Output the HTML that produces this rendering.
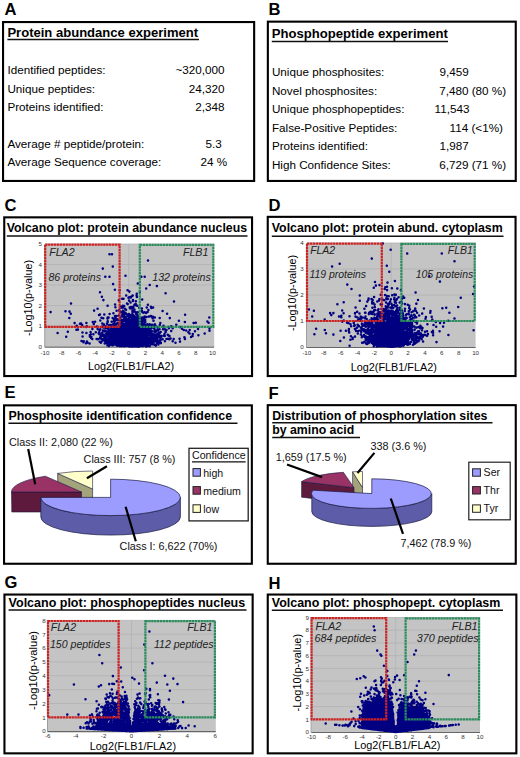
<!DOCTYPE html>
<html><head><meta charset="utf-8"><title>Figure</title>
<style>
html,body{margin:0;padding:0;background:#fff;}
body{width:520px;height:757px;overflow:hidden;}
svg{display:block;font-family:"Liberation Sans", sans-serif;}
</style></head>
<body>
<svg width="520" height="757" viewBox="0 0 520 757">
<rect x="0" y="0" width="520" height="757" fill="#fff"/>
<text x="4.6" y="14.8" font-size="16.6" font-weight="bold">A</text>
<text x="268.6" y="14.8" font-size="16.6" font-weight="bold">B</text>
<text x="4.6" y="210.8" font-size="16.6" font-weight="bold">C</text>
<text x="268.6" y="210.6" font-size="16.6" font-weight="bold">D</text>
<text x="4.6" y="398.3" font-size="16.6" font-weight="bold">E</text>
<text x="268.6" y="398.6" font-size="16.6" font-weight="bold">F</text>
<text x="4.6" y="588.3" font-size="16.6" font-weight="bold">G</text>
<text x="268.6" y="588.6" font-size="16.6" font-weight="bold">H</text>
<rect x="3.05" y="22.05" width="251.1" height="158.9" fill="none" stroke="#000" stroke-width="2.1"/>
<rect x="267.85" y="21.650000000000002" width="247.89999999999995" height="159.3" fill="none" stroke="#000" stroke-width="2.1"/>
<rect x="4.25" y="217.35000000000002" width="247.8" height="158.70000000000002" fill="none" stroke="#000" stroke-width="2.1"/>
<rect x="267.75" y="216.85000000000002" width="247.80000000000004" height="159.20000000000002" fill="none" stroke="#000" stroke-width="2.1"/>
<rect x="4.05" y="405.35" width="247.8" height="158.39999999999995" fill="none" stroke="#000" stroke-width="2.1"/>
<rect x="267.75" y="405.15000000000003" width="247.99999999999997" height="158.59999999999994" fill="none" stroke="#000" stroke-width="2.1"/>
<rect x="4.45" y="594.55" width="248.2" height="158.79999999999998" fill="none" stroke="#000" stroke-width="2.1"/>
<rect x="267.75" y="594.55" width="248.6" height="158.79999999999998" fill="none" stroke="#000" stroke-width="2.1"/>
<text x="7.4" y="36.5" font-size="13.05" font-weight="bold">Protein abundance experiment</text>
<line x1="7.4" y1="39.6" x2="199.0" y2="39.6" stroke="#111" stroke-width="1.5"/>
<text x="271.8" y="38.2" font-size="13.1" font-weight="bold">Phosphopeptide experiment</text>
<line x1="271.8" y1="41.6" x2="448.0" y2="41.6" stroke="#111" stroke-width="1.5"/>
<text x="6.8" y="231.7" font-size="12.3" font-weight="bold">Volcano plot: protein abundance nucleus</text>
<line x1="6.8" y1="236.0" x2="247.5" y2="236.0" stroke="#111" stroke-width="1.5"/>
<text x="271.8" y="232.3" font-size="12.35" font-weight="bold">Volcano plot: protein abund. cytoplasm</text>
<line x1="271.8" y1="236.2" x2="503.5" y2="236.2" stroke="#111" stroke-width="1.5"/>
<text x="8.4" y="420.0" font-size="12.4" font-weight="bold">Phosphosite identification confidence</text>
<line x1="8.4" y1="423.2" x2="237.5" y2="423.2" stroke="#111" stroke-width="1.5"/>
<text x="272.2" y="420.0" font-size="12.3" font-weight="bold">Distribution of phosphorylation sites</text>
<line x1="272.2" y1="422.8" x2="492.5" y2="422.8" stroke="#111" stroke-width="1.5"/>
<text x="272.2" y="434.4" font-size="12.3" font-weight="bold">by amino acid</text>
<line x1="272.2" y1="437.5" x2="360.0" y2="437.5" stroke="#111" stroke-width="1.5"/>
<text x="8.6" y="606.6" font-size="12.5" font-weight="bold">Volcano plot: phosphopeptides nucleus</text>
<line x1="8.6" y1="610.0" x2="246.5" y2="610.0" stroke="#111" stroke-width="1.5"/>
<text x="271.8" y="607.3" font-size="12.45" font-weight="bold">Volcano plot: phosphopept. cytoplasm</text>
<line x1="271.8" y1="610.3" x2="503.0" y2="610.3" stroke="#111" stroke-width="1.5"/>
<text x="7.4" y="74.4" font-size="11.7">Identified peptides:</text>
<text x="7.4" y="92.9" font-size="11.7">Unique peptides:</text>
<text x="7.4" y="111.3" font-size="11.7">Proteins identified:</text>
<text x="7.4" y="147.6" font-size="11.7">Average # peptide/protein:</text>
<text x="7.4" y="166.4" font-size="11.7">Average Sequence coverage:</text>
<text x="224.6" y="74.4" font-size="11.7" text-anchor="end">~320,000</text>
<text x="224.6" y="92.9" font-size="11.7" text-anchor="end">24,320</text>
<text x="224.6" y="111.3" font-size="11.7" text-anchor="end">2,348</text>
<text x="205.4" y="147.6" font-size="11.7">5.3</text>
<text x="200.6" y="166.4" font-size="11.7">24 %</text>
<text x="271.9" y="76.3" font-size="11.7">Unique phosphosites:</text>
<text x="439.6" y="76.3" font-size="11.7">9,459</text>
<text x="271.9" y="94.8" font-size="11.7">Novel phosphosites:</text>
<text x="439.2" y="94.8" font-size="11.7">7,480 (80 %)</text>
<text x="271.9" y="113.3" font-size="11.7">Unique phosphopeptides:</text>
<text x="434.6" y="113.3" font-size="11.7">11,543</text>
<text x="271.9" y="131.8" font-size="11.7">False-Positive Peptides:</text>
<text x="449.6" y="131.8" font-size="11.7">114 (&lt;1%)</text>
<text x="271.9" y="150.3" font-size="11.7">Proteins identified:</text>
<text x="439.6" y="150.3" font-size="11.7">1,987</text>
<text x="271.9" y="168.8" font-size="11.7">High Confidence Sites:</text>
<text x="439.2" y="168.8" font-size="11.7">6,729 (71 %)</text>
<rect x="45.0" y="244.0" width="169.2" height="102.60000000000002" fill="#c4c4c4" stroke="none" stroke-width="1"/>
<line x1="45.0" y1="326.08000000000004" x2="214.2" y2="326.08000000000004" stroke="#b2b2b2" stroke-width="0.8"/>
<line x1="45.0" y1="305.56" x2="214.2" y2="305.56" stroke="#b2b2b2" stroke-width="0.8"/>
<line x1="45.0" y1="285.04" x2="214.2" y2="285.04" stroke="#b2b2b2" stroke-width="0.8"/>
<line x1="45.0" y1="264.52" x2="214.2" y2="264.52" stroke="#b2b2b2" stroke-width="0.8"/>
<line x1="45.0" y1="244.0" x2="214.2" y2="244.0" stroke="#b2b2b2" stroke-width="0.8"/>
<line x1="128.75" y1="244.0" x2="128.75" y2="346.6" stroke="#b2b2b2" stroke-width="0.8"/>
<line x1="45.0" y1="347.1" x2="214.2" y2="347.1" stroke="#666" stroke-width="1.2"/>
<line x1="44.7" y1="244.0" x2="44.7" y2="347.6" stroke="#888" stroke-width="0.8"/>
<path d="M124.2 345.8h0M127.2 345.1h0M125.0 308.8h0M138.2 336.5h0M130.2 334.5h0M125.3 339.8h0M118.2 330.6h0M125.5 343.8h0M102.8 339.5h0M132.4 334.8h0M125.5 339.4h0M133.0 344.3h0M125.9 334.2h0M130.5 342.0h0M138.5 318.8h0M141.6 343.7h0M130.0 314.9h0M134.4 333.3h0M122.0 344.4h0M130.3 342.6h0M120.9 339.8h0M121.8 346.0h0M108.9 345.9h0M124.8 343.8h0M128.6 338.9h0M125.8 339.0h0M87.4 342.6h0M144.8 340.8h0M86.8 326.2h0M142.7 333.6h0M129.7 335.5h0M122.4 338.0h0M109.6 341.2h0M137.1 330.9h0M124.6 332.8h0M132.3 322.6h0M127.2 344.4h0M122.6 337.5h0M137.3 336.5h0M130.6 342.1h0M131.4 338.5h0M152.1 339.7h0M117.2 336.9h0M117.4 335.1h0M119.2 338.1h0M128.9 342.4h0M137.4 330.4h0M133.3 344.6h0M172.7 341.3h0M143.6 319.8h0M145.0 329.2h0M131.7 343.9h0M123.7 340.9h0M129.0 342.0h0M125.8 332.5h0M121.3 337.7h0M127.2 338.3h0M133.7 334.6h0M116.8 319.9h0M120.8 335.9h0M126.0 344.4h0M126.8 332.8h0M131.3 334.1h0M138.7 336.5h0M131.0 335.1h0M129.8 335.2h0M167.7 334.7h0M126.1 330.8h0M146.6 317.0h0M123.2 344.1h0M139.7 340.2h0M157.4 340.4h0M131.9 339.8h0M146.4 332.8h0M137.8 344.2h0M118.3 331.7h0M121.6 340.6h0M144.3 321.7h0M144.3 320.3h0M142.6 343.1h0M122.5 338.8h0M131.6 339.6h0M135.3 339.0h0M122.1 338.5h0M139.4 336.8h0M140.7 325.5h0M128.6 338.0h0M115.1 325.9h0M129.9 332.0h0M130.7 316.0h0M138.9 336.9h0M136.7 339.7h0M113.5 340.5h0M144.0 335.2h0M119.8 339.9h0M144.5 340.8h0M141.8 346.0h0M128.7 339.7h0M160.1 335.7h0M130.1 322.7h0M156.5 341.9h0M137.6 320.1h0M137.4 337.3h0M138.4 339.2h0M134.3 337.8h0M139.5 343.1h0M124.3 331.8h0M135.1 338.5h0M157.4 342.5h0M137.8 342.5h0M122.2 338.3h0M115.3 337.2h0M112.4 336.1h0M132.7 346.1h0M122.4 322.4h0M130.9 342.3h0M132.5 346.0h0M126.2 334.8h0M133.8 342.0h0M132.5 345.2h0M111.3 341.6h0M149.5 343.4h0M134.9 339.7h0M111.0 334.0h0M142.3 338.3h0M142.1 340.6h0M147.0 330.1h0M120.8 339.7h0M128.0 342.5h0M105.7 330.9h0M133.6 335.1h0M118.0 342.3h0M204.7 333.4h0M153.4 344.3h0M115.1 336.3h0M149.6 346.2h0M131.9 339.1h0M140.0 324.7h0M135.4 346.2h0M145.7 328.0h0M141.1 335.1h0M130.5 321.7h0M115.4 339.3h0M132.9 319.7h0M130.0 329.9h0M136.4 331.5h0M133.8 336.8h0M115.2 340.1h0M134.6 340.5h0M83.5 342.3h0M141.3 339.3h0M134.4 334.1h0M139.6 320.9h0M153.8 341.4h0M121.4 326.6h0M133.3 343.7h0M127.0 331.7h0M134.6 341.9h0M133.6 335.2h0M108.8 340.0h0M134.3 317.5h0M129.7 327.0h0M125.8 330.1h0M133.9 343.3h0M140.1 345.8h0M121.8 312.2h0M137.7 344.9h0M145.1 335.9h0M155.2 335.9h0M139.4 343.7h0M145.1 338.7h0M138.9 344.4h0M130.9 332.9h0M143.9 338.7h0M117.6 340.4h0M143.0 342.6h0M127.8 344.1h0M133.8 345.9h0M114.6 341.7h0M153.0 338.0h0M155.8 345.6h0M145.9 337.9h0M128.7 335.7h0M119.3 334.8h0M122.2 329.6h0M154.3 331.3h0M128.4 336.5h0M134.7 327.7h0M130.8 343.0h0M144.5 342.5h0M121.2 326.8h0M137.2 331.5h0M128.8 336.1h0M154.3 344.6h0M120.8 337.1h0M127.0 341.5h0M129.4 340.5h0M133.9 345.5h0M117.6 334.5h0M119.0 342.3h0M123.7 331.8h0M120.8 333.4h0M119.5 330.2h0M134.8 341.3h0M120.3 344.7h0M133.0 341.3h0M129.7 343.1h0M143.6 338.2h0M118.8 319.7h0M131.1 334.0h0M136.0 342.5h0M132.9 342.7h0M117.4 345.8h0M133.9 343.2h0M118.5 327.1h0M144.4 342.3h0M126.4 321.9h0M130.4 339.1h0M142.1 330.5h0M139.2 335.5h0M118.8 329.6h0M155.6 326.3h0M128.9 336.5h0M156.9 286.1h0M133.9 342.8h0M121.4 341.5h0M136.0 334.2h0M150.1 326.8h0M137.6 318.6h0M133.7 335.1h0M136.9 341.3h0M129.4 330.3h0M130.4 324.6h0M132.2 342.5h0M135.2 334.2h0M129.6 320.7h0M131.6 334.7h0M125.3 341.8h0M113.1 343.7h0M130.7 342.5h0M152.3 340.0h0M121.5 341.0h0M123.0 337.8h0M132.3 329.0h0M134.1 345.5h0M130.9 334.0h0M144.6 312.3h0M135.4 336.8h0M134.2 341.5h0M132.4 338.6h0M135.9 332.9h0M124.2 342.4h0M126.8 341.3h0M137.8 339.4h0M129.3 329.1h0M131.3 342.3h0M136.4 337.5h0M138.0 332.7h0M130.7 340.0h0M148.4 327.7h0M150.2 342.6h0M139.7 341.3h0M123.5 345.0h0M126.4 339.1h0M112.7 338.7h0M133.6 345.7h0M120.5 312.1h0M131.4 333.6h0M127.7 340.7h0M57.6 333.0h0M120.1 343.1h0M130.6 338.2h0M139.7 337.8h0M124.1 341.3h0M114.0 341.9h0M138.9 333.2h0M132.3 346.5h0M89.9 336.6h0M128.4 333.6h0M129.5 343.8h0M135.9 329.6h0M127.7 332.2h0M139.3 345.6h0M113.5 338.9h0M105.4 336.2h0M113.8 334.3h0M128.6 327.8h0M130.1 346.2h0M131.7 335.0h0M107.6 305.8h0M138.9 338.3h0M93.4 334.3h0M148.0 343.3h0M108.0 342.8h0M122.2 344.1h0M138.8 332.9h0M129.5 341.0h0M136.5 343.8h0M128.0 340.4h0M145.3 341.4h0M139.9 337.4h0M135.8 326.9h0M145.2 320.1h0M133.5 337.2h0M128.1 321.7h0M140.0 322.9h0M131.7 332.7h0M126.5 344.6h0M143.4 327.6h0M137.9 312.2h0M136.0 341.0h0M121.3 345.3h0M132.2 343.1h0M135.6 338.9h0M134.0 326.7h0M128.3 327.4h0M136.0 332.2h0M140.2 337.6h0M137.0 334.8h0M50.6 312.1h0M135.2 342.1h0M150.7 336.2h0M172.7 328.2h0M139.3 339.8h0M136.4 340.9h0M144.6 317.4h0M124.4 342.9h0M133.2 338.1h0M132.3 331.1h0M173.7 339.0h0M142.5 342.8h0M134.0 344.7h0M127.6 328.9h0M140.5 343.8h0M120.0 344.4h0M134.9 334.4h0M169.3 335.9h0M139.5 345.0h0M128.2 342.9h0M209.5 328.5h0M118.7 325.0h0M80.0 323.7h0M137.8 333.5h0M141.8 342.4h0M131.1 343.5h0M125.3 344.1h0M139.0 342.0h0M122.5 326.9h0M133.8 331.7h0M107.6 339.4h0M136.5 331.2h0M138.8 343.9h0M152.0 324.8h0M131.7 328.5h0M161.4 336.1h0M135.0 335.8h0M128.9 342.8h0M122.6 330.2h0M134.7 326.4h0M126.2 337.5h0M119.6 337.7h0M123.7 345.5h0M130.8 316.1h0M125.4 342.8h0M130.3 345.3h0M118.7 342.1h0M116.5 331.3h0M127.3 339.3h0M131.6 329.0h0M127.6 341.1h0M141.9 345.7h0M131.3 323.6h0M116.4 329.2h0M143.8 329.3h0M114.5 336.0h0M128.9 330.8h0M123.8 321.3h0M124.4 342.2h0M129.7 338.1h0M130.3 337.5h0M122.0 334.8h0M152.0 343.1h0M105.1 327.7h0M136.8 332.3h0M147.2 330.0h0M131.9 333.6h0M117.1 338.8h0M119.1 336.4h0M129.2 334.6h0M141.7 341.1h0M122.1 345.0h0M133.7 342.6h0M136.2 344.4h0M113.2 337.2h0M148.6 338.0h0M132.0 339.9h0M124.1 343.9h0M126.5 345.1h0M207.4 321.4h0M148.1 345.8h0M143.4 343.6h0M122.1 341.9h0M123.4 334.1h0M119.9 338.3h0M126.7 325.7h0M123.4 345.3h0M132.6 331.6h0M143.6 339.1h0M140.8 345.2h0M131.7 338.8h0M142.3 325.4h0M150.4 337.1h0M135.3 329.2h0M128.6 334.9h0M127.4 335.9h0M140.5 343.5h0M113.4 335.4h0M123.7 336.2h0M124.5 345.0h0M149.4 327.4h0M117.4 342.3h0M145.0 338.8h0M160.9 343.1h0M144.6 327.1h0M132.1 339.9h0M120.2 335.8h0M145.9 331.7h0M131.4 346.0h0M123.4 333.6h0M130.4 338.8h0M140.4 335.9h0M147.7 330.6h0M114.9 289.7h0M144.5 339.8h0M125.7 345.3h0M150.9 306.8h0M124.2 337.2h0M104.0 324.5h0M136.0 313.7h0M121.4 346.1h0M128.6 335.0h0M123.5 330.4h0M122.6 327.9h0M129.8 330.9h0M124.8 338.7h0M121.2 335.5h0M123.7 341.8h0M143.6 341.5h0M135.8 344.3h0M144.4 328.4h0M140.2 335.4h0M137.5 344.2h0M130.4 327.4h0M126.1 321.5h0M120.3 344.1h0M130.6 344.9h0M126.3 325.2h0M138.3 332.2h0M126.7 322.4h0M129.2 345.7h0M127.2 345.2h0M146.1 343.2h0M142.7 343.0h0M125.8 340.8h0M135.0 342.5h0M115.9 343.5h0M99.6 330.2h0M133.2 306.8h0M137.8 338.0h0M169.8 318.1h0M139.7 340.3h0M127.7 324.4h0M131.5 344.7h0M130.4 343.1h0M209.5 330.8h0M125.5 319.1h0M132.7 346.2h0M113.4 313.2h0M166.5 330.0h0M123.2 341.6h0M96.6 338.9h0M132.7 329.8h0M136.8 344.1h0M103.5 339.0h0M126.7 341.8h0M114.9 328.8h0M143.4 340.0h0M126.6 330.1h0M147.2 332.0h0M126.3 329.3h0M135.4 344.4h0M137.2 331.9h0M128.4 342.9h0M109.0 325.3h0M152.6 318.2h0M134.7 316.2h0M145.0 339.0h0M136.7 341.2h0M132.8 346.1h0M128.4 326.4h0M115.1 336.3h0M183.8 330.0h0M137.4 345.3h0M151.6 328.0h0M132.0 329.2h0M137.5 340.9h0M124.9 326.9h0M128.3 323.1h0M134.1 333.9h0M119.0 334.0h0M119.1 342.3h0M137.9 327.3h0M137.2 305.8h0M119.7 290.3h0M127.2 327.8h0M125.4 318.0h0M117.0 341.1h0M135.7 323.0h0M122.2 340.3h0M132.3 332.5h0M141.2 337.0h0M122.4 328.5h0M106.9 332.4h0M127.5 337.4h0M158.3 334.3h0M120.7 321.3h0M138.3 330.0h0M129.9 340.9h0M129.4 329.3h0M133.1 342.4h0M127.4 336.3h0M134.3 344.8h0M139.0 324.2h0M115.0 316.0h0M124.7 340.5h0M150.6 327.9h0M117.5 332.9h0M133.4 324.1h0M111.7 321.8h0M125.9 337.4h0M145.1 335.9h0M125.2 343.8h0M130.0 345.6h0M209.3 317.4h0M139.3 335.9h0M142.3 336.7h0M143.5 345.6h0M150.9 316.0h0M152.9 339.1h0M138.3 331.0h0M131.7 324.2h0M108.4 334.1h0M129.0 329.7h0M141.1 341.6h0M115.4 334.0h0M139.9 291.7h0M101.7 341.5h0M144.2 336.9h0M144.8 337.5h0M153.6 342.5h0M130.6 302.4h0M91.2 337.9h0M133.6 321.6h0M132.2 338.4h0M133.4 342.3h0M130.7 337.7h0M129.3 341.5h0M130.0 325.6h0M136.5 340.1h0M133.3 331.1h0M131.7 344.7h0M131.8 335.6h0M121.3 336.4h0M126.4 342.8h0M139.6 330.3h0M122.5 341.4h0M132.6 318.1h0M138.9 320.4h0M145.6 325.5h0M132.3 321.3h0M157.5 338.4h0M135.2 345.1h0M133.4 330.6h0M134.3 345.2h0M139.2 318.7h0M128.8 342.0h0M104.4 331.4h0M138.1 343.9h0M108.1 328.0h0M143.8 336.4h0M128.2 327.0h0M129.2 343.7h0M131.3 307.8h0M156.6 338.1h0M124.6 340.6h0M131.4 337.6h0M150.8 342.8h0M123.5 298.7h0M127.3 337.8h0M119.3 341.2h0M116.8 335.5h0M128.7 318.0h0M144.1 324.6h0M136.7 337.1h0M148.4 344.0h0M129.9 332.6h0M127.5 344.5h0M133.4 324.9h0M137.9 330.6h0M129.3 342.6h0M130.9 297.5h0M142.7 318.6h0M131.7 344.7h0M155.9 336.3h0M132.4 337.1h0M125.6 333.6h0M133.3 345.9h0M147.6 338.7h0M133.4 341.5h0M157.4 330.1h0M159.0 342.8h0M130.8 346.0h0M141.7 331.3h0M136.4 333.1h0M136.6 341.8h0M140.6 337.9h0M142.5 344.4h0M144.5 336.1h0M109.4 333.6h0M156.6 330.8h0M147.2 338.4h0M131.6 345.2h0M138.5 334.2h0M123.7 336.0h0M148.1 331.3h0M135.2 335.3h0M125.1 338.6h0M139.9 341.9h0M125.3 338.6h0M150.1 325.3h0M132.9 343.5h0M112.1 335.3h0M128.9 326.4h0M140.9 335.9h0M134.0 343.6h0M145.6 338.5h0M149.6 324.3h0M111.1 337.5h0M130.9 341.3h0M129.7 337.3h0M136.8 293.8h0M131.3 338.7h0M124.6 342.1h0M123.0 337.4h0M136.5 344.8h0M157.3 330.2h0M171.2 330.9h0M135.9 301.3h0M129.4 334.3h0M128.8 340.7h0M128.9 327.2h0M186.2 330.5h0M138.4 336.5h0M125.4 342.8h0M129.8 344.7h0M121.9 336.1h0M136.6 326.4h0M137.2 335.0h0M129.7 328.9h0M130.9 307.0h0M142.7 334.1h0M129.2 297.2h0M130.2 322.6h0M137.3 321.1h0M132.8 325.7h0M106.7 336.2h0M131.5 345.8h0M100.3 329.2h0M138.9 326.1h0M140.2 337.4h0M139.9 341.1h0M125.1 342.0h0M135.6 339.4h0M133.7 335.8h0M145.2 333.6h0M135.8 319.2h0M130.1 341.0h0M137.9 345.3h0M154.8 317.4h0M149.0 316.6h0M128.2 333.8h0M136.3 344.5h0M129.3 335.1h0M119.0 338.8h0M150.4 336.7h0M131.7 335.8h0M134.5 333.9h0M135.7 331.3h0M129.4 334.9h0M133.6 338.8h0M142.0 341.2h0M127.6 344.3h0M124.0 335.8h0M139.7 322.8h0M104.7 343.4h0M134.4 309.5h0M140.3 333.6h0M141.3 323.6h0M135.8 340.0h0M118.1 341.6h0M98.0 339.2h0M121.2 337.0h0M133.8 337.0h0M123.7 321.2h0M137.3 327.9h0M130.8 345.6h0M153.0 316.7h0M132.1 334.6h0M138.7 344.4h0M126.6 344.9h0M116.9 331.1h0M130.7 341.2h0M122.5 336.2h0M130.4 339.3h0M124.3 341.2h0M116.8 344.6h0M136.6 328.0h0M138.2 330.0h0M86.4 326.9h0M143.2 336.3h0M136.6 335.8h0M155.2 339.3h0M100.9 342.8h0M129.4 333.7h0M132.1 333.9h0M134.8 342.9h0M134.2 325.0h0M133.8 344.6h0M150.2 332.2h0M115.5 325.3h0M126.9 340.8h0M125.9 329.7h0M110.2 341.0h0M128.9 326.5h0M139.4 324.9h0M129.4 291.6h0M127.9 340.3h0M128.3 339.5h0M125.3 334.1h0M116.1 335.4h0M128.6 326.1h0M138.4 344.7h0M118.8 341.2h0M131.8 322.4h0M125.9 337.1h0M119.3 339.6h0M130.5 335.7h0M136.6 343.3h0M130.3 335.4h0M131.1 296.8h0M127.7 304.1h0M127.8 337.2h0M137.4 337.3h0M128.7 345.4h0M148.8 329.5h0M184.4 337.2h0M150.8 342.9h0M163.5 325.7h0M124.1 339.3h0M126.3 325.6h0M140.8 341.7h0M150.2 331.0h0M142.8 343.5h0M135.4 342.1h0M134.7 326.7h0M115.1 304.4h0M133.6 327.7h0M107.6 322.1h0M151.4 316.5h0M130.0 321.2h0M138.6 318.1h0M129.4 335.0h0M144.1 334.7h0M128.9 334.0h0M147.5 339.8h0M137.5 335.7h0M154.8 324.3h0M140.5 327.3h0M132.6 342.4h0M130.7 324.7h0M125.0 326.5h0M143.3 334.8h0M118.0 333.8h0M122.5 342.3h0M121.0 323.1h0M134.2 344.8h0M133.8 339.6h0M116.1 324.7h0M138.4 342.1h0M140.0 332.1h0M123.5 327.1h0M140.4 337.1h0M144.2 339.5h0M137.5 324.8h0M140.8 326.5h0M169.5 336.1h0M133.4 342.8h0M148.1 326.1h0M119.4 338.7h0M126.8 343.3h0M137.5 331.7h0M130.7 336.5h0M119.0 334.0h0M124.7 339.6h0M132.5 331.9h0M134.8 340.6h0M135.0 333.1h0M123.6 341.3h0M147.1 342.4h0M129.8 339.4h0M133.0 330.0h0M142.5 342.9h0M131.9 342.5h0M125.0 331.8h0M123.5 340.7h0M138.0 339.7h0M138.2 344.3h0M112.8 326.9h0M136.9 337.7h0M114.8 342.2h0M134.1 343.6h0M129.8 344.5h0M103.4 336.3h0M159.7 333.0h0M106.6 336.4h0M128.1 330.7h0M139.9 328.6h0M139.0 343.8h0M139.5 325.7h0M127.1 338.0h0M143.9 331.1h0M131.6 314.7h0M138.2 341.0h0M127.4 320.8h0M129.3 340.2h0M133.0 341.0h0M131.9 330.2h0M125.1 314.0h0M120.5 319.2h0M127.5 333.0h0M134.3 345.0h0M132.1 320.4h0M137.0 345.1h0M124.9 340.1h0M139.0 341.0h0M125.6 337.8h0M153.9 338.1h0M136.2 343.2h0M118.6 333.8h0M137.5 326.3h0M132.8 332.9h0M142.9 339.7h0M133.8 345.8h0M128.5 333.1h0M145.3 338.9h0M133.2 330.4h0M126.2 332.7h0M150.3 332.1h0M128.6 338.1h0M122.6 338.5h0M144.3 339.6h0M136.2 339.7h0M67.8 331.7h0M151.8 331.0h0M131.5 344.6h0M130.5 338.8h0M122.7 345.5h0M128.0 325.6h0M125.1 330.0h0M115.4 307.3h0M124.3 332.8h0M122.8 310.7h0M198.0 328.9h0M159.5 329.3h0M124.9 343.8h0M163.6 326.4h0M123.5 328.0h0M124.6 332.7h0M153.2 337.5h0M138.9 346.0h0M126.3 334.9h0M109.9 337.7h0M130.6 340.6h0M107.4 341.2h0M143.7 331.7h0M127.7 344.3h0M134.7 335.9h0M115.9 344.7h0M99.1 315.0h0M136.3 329.1h0M145.0 340.5h0M137.3 338.0h0M143.6 335.8h0M132.4 338.4h0M116.5 342.2h0M135.7 343.3h0M121.6 340.0h0M124.2 305.9h0M125.6 337.6h0M141.7 345.2h0M133.5 343.4h0M135.2 339.0h0M132.1 337.5h0M139.8 339.7h0M125.9 323.7h0M131.0 342.5h0M127.0 332.4h0M142.0 336.5h0M138.9 340.3h0M155.7 330.8h0M117.3 342.8h0M162.7 339.2h0M110.1 341.4h0M129.5 345.7h0M133.4 316.2h0M123.8 339.1h0M135.6 336.9h0M106.4 328.2h0M140.4 335.4h0M141.0 339.4h0M152.5 325.2h0M129.4 317.1h0M132.8 341.5h0M120.5 324.2h0M131.9 325.5h0M133.2 329.1h0M83.7 341.3h0M143.9 337.0h0M185.1 314.8h0M135.2 322.7h0M123.9 337.0h0M132.4 328.4h0M118.7 337.9h0M132.2 340.1h0M152.2 336.7h0M110.1 325.0h0M137.2 320.0h0M122.1 344.9h0M118.7 337.4h0M103.3 327.4h0M123.1 344.3h0M124.6 319.6h0M125.4 337.2h0M178.9 320.8h0M138.3 338.2h0M136.8 342.5h0M137.5 324.2h0M133.1 337.4h0M133.5 346.1h0M158.4 344.4h0M138.3 337.3h0M127.4 341.8h0M133.9 335.0h0M153.5 335.1h0M147.6 335.1h0M116.0 336.9h0M129.8 329.3h0M104.6 325.9h0M140.8 335.2h0M132.4 333.5h0M129.1 338.8h0M134.5 338.7h0M143.2 342.5h0M95.8 332.3h0M136.0 342.7h0M117.0 342.7h0M111.0 343.0h0M136.6 333.6h0M133.5 332.8h0M131.0 341.1h0M137.3 335.4h0M145.3 322.1h0M127.2 324.8h0M136.2 339.8h0M139.4 336.1h0M128.7 340.3h0M122.3 314.7h0M131.8 345.7h0M122.0 340.3h0M124.5 326.3h0M121.1 340.5h0M133.9 329.9h0M91.4 337.1h0M120.5 340.9h0M141.6 339.5h0M119.2 335.0h0M115.0 315.9h0M108.4 345.3h0M163.0 329.2h0M113.1 284.1h0M136.2 332.8h0M140.2 343.1h0M128.1 340.9h0M140.5 339.5h0M127.3 319.5h0M141.2 330.2h0M136.8 341.9h0M123.6 345.8h0M125.1 329.0h0M140.8 340.8h0M133.8 342.8h0M123.6 313.1h0M118.0 332.0h0M133.0 343.9h0M86.4 332.9h0M130.6 317.0h0M131.9 323.5h0M137.6 345.9h0M142.3 342.2h0M132.5 332.2h0M133.3 345.7h0M131.8 344.9h0M128.3 333.6h0M127.4 333.0h0M132.2 332.8h0M106.5 326.5h0M140.8 341.0h0M166.5 338.9h0M123.9 342.7h0M150.0 342.1h0M128.3 337.3h0M121.4 331.7h0M139.5 341.1h0M141.5 327.9h0M114.6 321.8h0M127.8 338.4h0M138.8 340.4h0M119.4 344.0h0M145.2 337.8h0M155.1 337.4h0M133.1 334.1h0M126.3 328.3h0M138.7 327.2h0M116.2 324.1h0M131.1 334.3h0M125.3 332.4h0M115.0 338.1h0M113.2 326.2h0M146.1 313.0h0M129.1 300.6h0M138.9 343.3h0M137.5 335.5h0M132.5 314.5h0M128.2 338.8h0M136.3 325.8h0M118.0 344.8h0M144.9 344.8h0M125.5 324.6h0M128.2 333.1h0M112.2 330.5h0M135.3 344.1h0M124.6 341.7h0M116.3 316.5h0M134.4 341.1h0M137.6 341.3h0M119.0 344.0h0M131.2 341.9h0M170.6 338.4h0M123.6 338.0h0M145.8 342.6h0M136.2 312.2h0M127.6 339.1h0M128.8 340.5h0M134.1 339.2h0M131.4 337.2h0M121.4 337.8h0M127.3 328.5h0M142.7 341.8h0M130.5 344.2h0M134.2 339.7h0M110.8 339.1h0M133.4 344.3h0M125.8 332.3h0M148.7 340.2h0M137.8 335.2h0M134.1 339.9h0M123.1 330.4h0M139.5 320.6h0M124.0 319.1h0M133.0 301.0h0M125.1 343.5h0M114.4 333.9h0M129.9 316.5h0M142.2 342.9h0M132.6 337.5h0M127.9 336.5h0M131.7 346.1h0M141.6 327.6h0M127.5 344.6h0M133.8 334.5h0M131.9 334.2h0M122.0 320.0h0M128.8 345.2h0M132.4 343.8h0M138.7 344.8h0M132.1 340.3h0M125.8 330.3h0M140.8 343.5h0M146.0 338.1h0M125.1 337.3h0M140.4 341.6h0M128.2 345.1h0M133.6 316.4h0M114.7 334.4h0M129.1 340.4h0M159.2 341.2h0M136.4 344.0h0M128.5 338.3h0M184.9 339.0h0M176.3 324.8h0M120.6 323.1h0M133.8 341.5h0M124.6 335.4h0M155.8 331.6h0M136.8 328.4h0M129.1 340.8h0M139.7 345.7h0M124.3 331.8h0M128.8 339.2h0M119.1 333.5h0M130.5 329.1h0M147.7 337.6h0M138.1 341.9h0M113.5 323.9h0M160.2 339.1h0M114.4 323.8h0M168.9 328.2h0M139.7 340.1h0M138.4 340.4h0M127.5 335.2h0M119.9 336.7h0M128.7 329.0h0M131.3 319.4h0M122.6 329.7h0M134.8 340.6h0M146.2 346.5h0M106.1 337.3h0M143.1 343.6h0M137.7 327.2h0M106.7 338.0h0M146.8 341.1h0M135.3 344.2h0M119.2 331.4h0M129.6 337.3h0M140.5 343.5h0M129.7 337.7h0M139.4 345.6h0M127.8 342.1h0M127.6 340.4h0M140.9 345.1h0M111.5 333.1h0M146.1 331.9h0M140.5 317.5h0M131.2 343.4h0M120.5 320.7h0M123.8 335.6h0M168.4 326.9h0M114.6 338.0h0M124.3 332.3h0M122.5 341.6h0M130.0 339.6h0M163.8 335.7h0M124.6 340.5h0M147.5 342.3h0M128.7 342.4h0M145.7 342.1h0M132.5 315.0h0M143.4 321.5h0M99.2 334.1h0M139.0 329.8h0M109.0 329.8h0M133.7 345.6h0M137.6 335.5h0M136.9 331.4h0M142.6 344.9h0M137.1 324.0h0M131.6 337.8h0M145.3 338.1h0M160.1 337.3h0M134.4 335.0h0M147.3 336.7h0M131.1 333.3h0M122.1 338.5h0M139.1 346.5h0M148.2 335.4h0M133.4 340.4h0M131.6 340.2h0M119.0 341.1h0M112.4 339.8h0M143.9 337.2h0M120.4 329.7h0M120.7 336.7h0M125.3 339.1h0M110.6 334.9h0M143.2 326.8h0M122.4 344.9h0M127.0 323.0h0M169.2 339.2h0M128.5 330.4h0M130.9 344.7h0M135.4 332.0h0M106.4 335.5h0M124.1 336.4h0M120.1 343.9h0M122.1 344.7h0M145.1 335.9h0M105.1 341.2h0M128.6 343.2h0M139.2 325.5h0M142.9 330.3h0M129.2 340.8h0M131.4 346.0h0M151.8 344.3h0M126.4 337.9h0M131.4 343.5h0M137.4 327.1h0M159.4 335.6h0M110.9 325.1h0M120.5 344.0h0M134.4 325.3h0M131.1 341.4h0M135.2 333.9h0M130.9 342.4h0M128.9 336.9h0M119.8 324.7h0M137.5 339.2h0M128.4 325.2h0M126.5 344.9h0M127.2 333.8h0M138.9 341.7h0M114.8 325.0h0M135.2 332.1h0M138.4 329.8h0M122.9 337.9h0M130.7 332.6h0M138.5 336.3h0M139.9 328.5h0M120.5 334.3h0M111.1 333.6h0M111.5 331.0h0M135.5 318.9h0M147.8 329.5h0M144.0 331.1h0M132.1 344.6h0M135.0 332.8h0M135.5 342.8h0M133.6 318.1h0M98.1 339.1h0M145.2 335.5h0M131.4 321.8h0M122.4 331.0h0M135.7 303.9h0M129.0 343.3h0M147.6 312.0h0M160.0 336.8h0M127.9 341.8h0M134.1 311.3h0M74.6 323.1h0M132.2 325.2h0M130.2 341.9h0M132.8 336.5h0M135.6 341.5h0M138.3 334.0h0M132.8 341.4h0M139.1 338.9h0M130.7 339.8h0M129.0 340.0h0M141.5 344.0h0M103.2 318.3h0M131.9 336.1h0M113.6 344.7h0M132.4 345.7h0M112.7 336.6h0M128.9 344.3h0M134.1 333.2h0M136.0 343.7h0M125.0 329.7h0M101.9 296.7h0M129.3 342.8h0M123.8 345.6h0M113.0 333.9h0M143.1 325.4h0M136.2 344.5h0M129.9 319.6h0M134.1 345.1h0M138.4 328.1h0M133.4 343.4h0M138.1 330.4h0M112.9 332.1h0M125.0 330.5h0M128.5 336.2h0M138.8 333.9h0M134.6 346.1h0M124.6 326.2h0M102.1 332.7h0M140.4 341.3h0M129.3 326.7h0M132.1 345.3h0M130.3 334.3h0M136.0 332.8h0M131.3 337.8h0M131.0 332.9h0M143.0 333.8h0M147.6 324.8h0M122.5 339.1h0M137.3 340.1h0M125.0 341.3h0M119.7 337.0h0M126.8 331.8h0M118.0 332.6h0M139.4 340.8h0M145.7 340.4h0M130.4 326.6h0M123.0 338.6h0M116.8 335.2h0M138.1 329.8h0M132.7 344.8h0M106.3 337.8h0M132.1 338.8h0M138.0 340.7h0M115.0 333.1h0M110.6 334.7h0M112.7 332.4h0M134.8 344.5h0M110.3 344.6h0M136.3 331.1h0M122.2 343.4h0M133.2 346.3h0M120.7 306.5h0M130.5 337.0h0M143.4 339.1h0M137.0 336.2h0M106.3 342.9h0M141.6 320.9h0M141.0 331.9h0M133.7 338.1h0M118.5 333.0h0M119.7 338.0h0M171.2 326.2h0M107.4 345.3h0M134.7 332.4h0M123.3 329.1h0M130.7 326.9h0M126.2 295.4h0M133.7 340.1h0M120.2 316.7h0M122.1 342.1h0M138.2 326.4h0M128.1 316.2h0M144.5 345.5h0M132.1 332.4h0M151.4 339.9h0M120.1 339.8h0M108.3 331.8h0M107.1 343.0h0M124.8 329.4h0M123.7 314.1h0M126.4 338.2h0M124.7 331.8h0M147.3 329.0h0M134.8 323.5h0M192.6 335.9h0M139.8 342.0h0M127.4 345.7h0M114.7 326.2h0M148.8 334.5h0M110.2 331.0h0M108.2 341.5h0M130.6 328.2h0M138.6 330.1h0M113.6 343.4h0M133.2 342.4h0M102.3 323.5h0M133.3 338.8h0M134.9 325.8h0M153.1 307.4h0M130.5 343.6h0M111.5 333.5h0M125.5 343.1h0M117.6 335.0h0M153.8 340.3h0M126.1 341.7h0M143.0 326.1h0M90.9 334.2h0M135.0 330.0h0M133.2 334.2h0M147.6 343.1h0M135.3 311.9h0M143.7 345.1h0M117.7 342.4h0M122.6 334.4h0M125.7 334.0h0M124.6 344.7h0M124.7 340.9h0M133.2 343.6h0M133.0 300.0h0M142.5 340.2h0M129.6 341.0h0M154.1 328.5h0M129.5 333.9h0M133.4 315.3h0M100.3 320.5h0M129.0 340.0h0M138.1 336.9h0M116.7 344.5h0M131.4 332.2h0M126.8 336.5h0M156.6 335.4h0M134.1 338.5h0M128.7 336.8h0M134.0 334.0h0M152.2 337.3h0M140.4 343.3h0M146.5 339.7h0M132.4 344.0h0M148.5 341.5h0M124.6 325.9h0M144.9 336.9h0M122.1 333.8h0M152.3 333.5h0M132.0 343.6h0M145.2 333.2h0M131.3 338.8h0M119.1 331.8h0M127.8 323.9h0M123.7 341.1h0M139.7 341.4h0M141.9 308.5h0M143.2 336.3h0M133.1 339.7h0M116.9 345.5h0M125.9 345.4h0M128.3 344.5h0M144.4 337.2h0M123.0 332.7h0M113.6 325.4h0M132.2 346.4h0M123.2 331.7h0M125.1 333.6h0M130.9 345.4h0M122.3 340.7h0M134.4 339.9h0M132.7 342.9h0M102.1 335.2h0M101.5 341.8h0M123.6 335.8h0M123.5 314.4h0M136.9 332.0h0M132.5 325.4h0M128.9 317.6h0M132.5 310.4h0M114.2 328.8h0M136.4 340.4h0M130.7 343.7h0M131.4 336.1h0M124.4 324.0h0M141.4 334.4h0M129.5 338.1h0M145.7 345.7h0M138.2 335.6h0M132.9 344.0h0M130.2 336.4h0M129.3 335.5h0M145.3 343.0h0M129.0 323.1h0M142.2 331.6h0M135.8 344.1h0M139.6 344.9h0M129.7 344.7h0M137.8 332.5h0M126.1 330.0h0M123.6 331.6h0M142.3 312.0h0M115.5 333.3h0M132.5 338.0h0M125.5 312.7h0M141.6 325.4h0M122.2 325.4h0M127.4 341.7h0M120.9 334.0h0M135.8 343.0h0M143.8 318.7h0M134.1 341.3h0M119.1 310.3h0M137.6 330.3h0M124.7 325.1h0M134.6 343.5h0M146.2 326.6h0M138.7 333.6h0M180.0 341.6h0M129.9 346.0h0M139.1 339.1h0M126.1 322.7h0M137.5 328.5h0M150.7 338.7h0M122.7 340.3h0M143.2 343.9h0M132.9 334.7h0M128.5 328.1h0M152.6 338.5h0M117.1 319.2h0M133.5 337.5h0M131.8 340.2h0M135.7 331.6h0M139.5 329.3h0M127.1 338.5h0M129.4 339.0h0M121.8 340.2h0M130.7 343.3h0M120.1 319.4h0M135.3 334.2h0M175.5 342.7h0M135.2 343.7h0M137.8 337.4h0M117.4 345.0h0M126.7 341.5h0M116.8 340.1h0M142.7 330.4h0M125.0 326.8h0M125.8 340.7h0M129.4 340.7h0M125.4 337.5h0M149.7 341.3h0M135.5 333.7h0M106.3 334.0h0M127.7 336.5h0M136.1 339.4h0M136.2 319.2h0M110.7 327.1h0M100.2 338.5h0M124.6 336.0h0M140.7 335.9h0M135.4 330.2h0M124.4 340.3h0M133.2 332.9h0M129.7 330.0h0M118.9 339.9h0M125.7 332.2h0M132.4 338.3h0M138.6 343.5h0M132.6 312.8h0M142.0 319.1h0M108.5 332.4h0M128.6 320.8h0M147.4 339.5h0M130.8 337.8h0M130.6 342.6h0M137.1 334.9h0M165.7 332.1h0M141.4 339.1h0M115.5 334.4h0M134.7 334.4h0M137.8 331.1h0M104.9 334.7h0M121.9 333.8h0M116.4 335.9h0M141.5 345.2h0M137.3 336.0h0M138.0 334.9h0M142.0 345.3h0M130.6 323.3h0M139.2 337.8h0M139.7 343.4h0M147.5 312.0h0M131.7 340.0h0M107.2 341.2h0M129.1 336.4h0M148.5 334.3h0M143.8 341.7h0M135.3 343.4h0M136.0 326.5h0M124.9 338.1h0M125.9 343.6h0M100.1 334.4h0M117.0 343.0h0M132.0 343.8h0M127.5 320.0h0M127.8 341.6h0M131.8 324.6h0M138.1 340.6h0M132.5 340.4h0M133.0 329.1h0M125.1 317.5h0M136.7 339.5h0M125.2 343.3h0M150.5 334.7h0M140.2 340.8h0M124.6 339.1h0M136.8 333.9h0M128.4 327.6h0M151.2 343.0h0M139.8 345.0h0M127.2 341.7h0M146.5 341.4h0M137.8 345.3h0M99.4 332.0h0M129.9 333.8h0M143.3 338.4h0M160.3 322.9h0M126.7 340.8h0M138.7 328.9h0M124.8 325.4h0M140.5 345.6h0M158.9 332.4h0M127.8 343.4h0M120.4 334.2h0M120.2 319.9h0M145.0 316.8h0M129.5 329.0h0M133.9 340.0h0M164.8 335.9h0M101.5 317.7h0M123.7 311.2h0M150.3 340.1h0M147.1 342.5h0M141.8 339.9h0M136.8 336.1h0M130.3 334.3h0M114.4 341.2h0M132.9 338.9h0M146.1 340.1h0M129.1 340.8h0M149.1 326.6h0M113.5 332.4h0M167.1 313.7h0M147.0 330.5h0M131.2 344.8h0M130.0 344.7h0M158.6 334.3h0M144.4 332.4h0M120.4 338.6h0M65.5 311.3h0M108.8 334.2h0M120.3 338.3h0M124.6 326.1h0M139.4 343.0h0M136.8 317.5h0M133.7 339.9h0M137.4 341.1h0M133.4 337.2h0M141.9 343.6h0M112.7 345.2h0M134.5 343.2h0M125.7 342.9h0M129.6 341.9h0M127.7 314.4h0M126.9 314.4h0M128.0 320.8h0M151.3 334.5h0M129.0 333.3h0M149.2 334.6h0M136.1 340.6h0M132.6 337.4h0M121.9 336.9h0M99.7 341.8h0M114.2 326.2h0M143.6 341.8h0M122.1 345.0h0M164.8 329.2h0M104.8 338.3h0M136.5 335.3h0M112.7 342.5h0M136.5 335.0h0M191.1 337.0h0M138.0 333.0h0M127.8 343.2h0M134.1 343.8h0M129.0 336.8h0M144.6 329.2h0M139.1 332.8h0M124.6 314.6h0M119.2 336.3h0M140.6 340.5h0M123.5 341.6h0M121.7 324.4h0M138.0 339.3h0M135.9 333.1h0M119.7 343.0h0M146.2 288.4h0M102.8 335.3h0M125.6 326.2h0M132.1 332.7h0M129.0 328.7h0M140.9 332.3h0M131.5 325.7h0M140.1 330.7h0M147.7 337.2h0M133.4 317.6h0M122.6 323.5h0M132.9 307.3h0M133.5 324.7h0M111.7 328.1h0M128.5 337.8h0M136.8 337.5h0M121.5 328.2h0M136.6 295.6h0M151.4 307.9h0M86.9 341.4h0M136.1 325.8h0M119.2 343.2h0M138.1 321.8h0M129.1 338.8h0M137.4 346.4h0M135.8 342.0h0M136.3 328.9h0M146.5 341.5h0M131.0 331.5h0M125.1 326.5h0M132.9 328.4h0M127.8 337.1h0M133.3 344.3h0M133.0 342.9h0M134.9 338.3h0M128.3 340.4h0M122.9 343.5h0M135.9 346.1h0M130.5 344.8h0M125.8 345.1h0M123.8 329.0h0M114.2 326.1h0M136.4 339.7h0M124.1 325.4h0M130.2 332.9h0M136.9 329.1h0M132.3 345.6h0M125.9 329.8h0M122.2 298.8h0M128.7 331.8h0M136.8 338.1h0M125.6 344.4h0M127.4 343.8h0M138.2 339.8h0M129.8 331.1h0M141.6 344.7h0M137.9 333.0h0M139.7 344.7h0M128.7 338.8h0M131.6 337.2h0M154.7 332.0h0M145.7 334.1h0M121.5 332.3h0M120.7 338.1h0M143.7 334.5h0M139.9 340.2h0M135.5 305.2h0M137.8 338.3h0M125.9 333.4h0M129.2 336.3h0M157.7 340.5h0M182.0 328.7h0M113.7 335.2h0M157.4 336.3h0M133.2 344.4h0M129.0 320.1h0M134.6 335.6h0M133.3 344.6h0M129.5 341.9h0M131.0 340.0h0M117.9 332.0h0M131.1 329.3h0M125.9 323.8h0M118.7 337.1h0M110.2 325.4h0M136.9 319.5h0M133.1 333.7h0M129.8 322.4h0M124.4 327.5h0M145.5 341.4h0M138.9 340.2h0M151.6 341.6h0M142.4 338.3h0M150.9 331.4h0M127.2 340.4h0M129.4 346.5h0M144.1 324.0h0M124.5 334.3h0M120.8 342.5h0M123.2 345.6h0M121.9 336.1h0M151.0 344.2h0M136.2 343.0h0M115.2 318.1h0M137.2 338.2h0M139.0 335.1h0M141.8 330.4h0M133.7 344.6h0M127.6 290.3h0M146.6 344.1h0M140.8 339.1h0M124.2 340.5h0M132.4 340.2h0M131.8 345.2h0M141.3 338.7h0M109.5 325.5h0M126.3 345.1h0M98.7 333.3h0M133.9 344.5h0M195.0 331.3h0M101.0 335.7h0M110.5 344.6h0M143.8 335.3h0M134.6 325.2h0M129.5 336.4h0M128.0 331.6h0M123.1 336.8h0M137.8 340.2h0M118.7 342.9h0M133.0 343.2h0M141.3 337.2h0M120.0 328.9h0M129.4 340.5h0M130.7 344.4h0M121.1 327.7h0M148.5 339.0h0M127.5 338.6h0M129.4 323.2h0M193.6 323.0h0M138.4 337.9h0M140.2 341.4h0M137.4 337.5h0M129.8 337.5h0M144.2 340.2h0M131.0 329.6h0M130.2 340.7h0M145.0 333.0h0M123.8 340.6h0M118.8 345.1h0M139.0 332.1h0M114.6 341.8h0M137.6 340.2h0M130.8 343.0h0M134.5 304.7h0M137.4 338.3h0M112.9 341.8h0M136.3 337.3h0M81.2 323.4h0M139.3 344.8h0M95.1 321.7h0M137.4 344.5h0M119.3 333.6h0M189.7 330.0h0M139.6 337.8h0M131.6 332.3h0M143.2 337.3h0M112.9 330.4h0M160.5 339.8h0M131.2 336.9h0M132.5 321.9h0M127.8 338.2h0M119.9 342.4h0M149.0 341.7h0M125.3 340.0h0M133.7 324.9h0M139.0 338.2h0M123.8 330.9h0M125.5 329.9h0M131.8 325.9h0M135.2 329.9h0M140.2 323.2h0M92.8 322.1h0M133.5 344.8h0M131.5 340.4h0M130.4 334.0h0M157.4 327.5h0M134.0 333.4h0M134.2 324.9h0M125.6 339.4h0M130.4 339.2h0M153.9 334.5h0M126.5 344.8h0M134.9 335.5h0M126.3 325.3h0M138.9 331.5h0M129.5 337.6h0M128.1 326.6h0M123.5 331.5h0M132.9 343.2h0M139.8 343.5h0M124.1 341.3h0M132.6 331.8h0M99.6 333.4h0M100.0 292.3h0M149.5 339.8h0M132.8 334.4h0M132.2 334.5h0M121.8 328.6h0M139.7 338.9h0M133.6 337.3h0M139.0 336.4h0M124.1 332.3h0M137.1 346.1h0M135.0 331.5h0M127.4 334.7h0M138.6 343.2h0M127.0 342.7h0M126.1 345.5h0M148.8 343.5h0M125.9 336.6h0M143.2 340.8h0M135.0 342.3h0M151.4 335.4h0M140.5 327.5h0M120.1 343.1h0M128.6 342.3h0M123.0 344.4h0M100.2 337.2h0M131.5 333.4h0M135.0 342.1h0M138.3 320.2h0M140.6 333.0h0M130.8 343.5h0M138.6 323.9h0M120.7 343.0h0M132.3 336.1h0M114.6 332.6h0M119.9 345.9h0M141.7 335.7h0M144.9 336.5h0M113.4 337.9h0M142.5 329.6h0M128.3 343.7h0M97.1 326.4h0M154.2 338.3h0M136.6 345.0h0M133.8 337.0h0M143.5 333.7h0M133.8 326.6h0M102.4 326.6h0M153.6 325.9h0M120.1 342.9h0M113.9 337.1h0M145.5 328.7h0M126.0 345.9h0M107.0 323.8h0M130.9 344.5h0M123.9 344.6h0M122.2 329.9h0M139.9 345.5h0M120.3 334.8h0M148.4 309.9h0M135.0 333.1h0M119.3 336.4h0M139.7 335.0h0M128.0 335.4h0M106.3 336.4h0M157.4 334.6h0M131.5 344.5h0M81.5 340.9h0M141.6 343.2h0M141.7 327.3h0M134.8 334.7h0M134.5 323.8h0M118.9 315.6h0M146.6 341.5h0M134.6 317.4h0M110.2 329.5h0M129.0 314.0h0M128.6 329.9h0M137.5 323.9h0M130.6 344.2h0M114.2 339.6h0M122.0 331.8h0M130.0 346.0h0M133.8 317.6h0M117.8 333.6h0M125.8 317.2h0M147.8 333.2h0M127.3 333.7h0M136.6 335.4h0M133.9 328.6h0M134.0 337.5h0M123.0 330.5h0M138.7 336.9h0M128.7 341.9h0M139.3 336.9h0M141.5 337.4h0M130.4 324.9h0M126.2 344.1h0M136.0 330.2h0M135.9 335.9h0M141.2 339.8h0M118.8 334.3h0M97.6 329.1h0M147.3 324.3h0M118.5 342.7h0M136.5 331.6h0M144.8 340.9h0M107.3 334.9h0M117.8 327.9h0M116.5 333.1h0M142.6 336.8h0M125.2 336.3h0M119.9 334.4h0M140.4 328.0h0M119.0 332.5h0M138.5 345.9h0M116.1 334.0h0M126.9 344.1h0M133.5 321.5h0M135.8 330.7h0M130.9 325.5h0M136.4 333.0h0M126.0 336.7h0M110.0 343.6h0M130.8 337.4h0M131.1 329.2h0M188.4 332.2h0M121.9 335.7h0M138.0 338.7h0M140.0 327.7h0M124.7 345.2h0M138.1 344.2h0M126.9 345.0h0M147.8 330.8h0M123.4 335.1h0M129.4 343.1h0M82.6 336.4h0M137.3 342.8h0M135.7 319.5h0M136.0 327.7h0M138.0 337.1h0M143.7 337.3h0M112.0 334.9h0M128.9 324.9h0M139.3 337.7h0M131.7 342.7h0M116.6 333.8h0M141.2 333.2h0M142.6 338.9h0M133.2 343.8h0M122.8 307.6h0M130.9 316.8h0M122.6 334.0h0M137.3 335.6h0M145.8 340.3h0M130.6 338.0h0M131.8 338.0h0M128.1 339.2h0M139.5 323.5h0M122.7 344.4h0M105.4 339.3h0M137.2 333.5h0M114.0 320.5h0M137.6 339.9h0M129.6 342.4h0M150.4 342.8h0M130.5 346.3h0M128.6 325.7h0M123.2 330.0h0M66.2 336.8h0M136.2 324.7h0M132.2 330.4h0M136.1 344.9h0M132.8 338.9h0M111.2 335.3h0M133.3 323.2h0M139.4 337.8h0M140.6 341.3h0M135.4 328.4h0M150.5 330.4h0M140.8 338.8h0M126.6 343.1h0M128.0 336.7h0M130.6 332.2h0M132.0 343.6h0M138.4 327.7h0M124.8 334.4h0M126.7 342.3h0M125.6 338.0h0M113.1 329.1h0M137.4 343.0h0M109.5 340.0h0M150.9 338.3h0M140.5 327.0h0M112.0 341.6h0M89.6 343.4h0M142.9 335.2h0M137.5 314.9h0M130.7 329.4h0M123.3 332.5h0M137.0 338.7h0M132.3 342.1h0M134.6 344.2h0M136.4 345.5h0M134.9 338.3h0M127.6 339.2h0M126.7 335.5h0M120.7 339.2h0M118.2 341.5h0M129.3 341.4h0M136.2 341.0h0M124.5 337.1h0M134.2 340.1h0M134.5 311.3h0M130.9 344.9h0M117.9 335.9h0M122.2 338.1h0M108.8 332.8h0M136.0 341.4h0M145.8 340.8h0M153.0 326.3h0M131.3 343.5h0M124.3 324.9h0M132.3 346.0h0M129.6 315.3h0M113.5 342.9h0M134.8 334.3h0M128.6 338.1h0M148.7 341.9h0M136.7 339.9h0M143.4 312.8h0M128.6 336.6h0M120.9 338.0h0M135.8 341.1h0M128.5 338.5h0M82.5 332.5h0M99.9 314.5h0M116.8 340.7h0M138.8 344.0h0M134.4 319.1h0M139.8 332.3h0M129.1 344.4h0M125.9 327.6h0M141.5 335.4h0M146.8 307.4h0M80.8 323.7h0M144.4 335.3h0M121.0 307.8h0M138.3 344.2h0M117.7 322.7h0M117.3 331.3h0M124.2 341.8h0M116.0 331.7h0M132.9 320.1h0M155.8 340.7h0M141.1 342.1h0M137.7 337.2h0M127.2 340.2h0M133.2 315.2h0M132.5 342.8h0M111.7 334.8h0M76.4 329.7h0M138.5 344.5h0M132.7 338.7h0M149.1 343.1h0M192.8 334.0h0M121.4 331.9h0M144.6 316.4h0M139.2 336.2h0M151.4 339.4h0M136.1 338.1h0M120.2 330.5h0M144.9 335.9h0M132.8 325.0h0M140.3 337.0h0M115.4 324.2h0M137.8 283.5h0M132.5 342.8h0M134.8 333.1h0M133.4 318.6h0M136.8 340.5h0M110.1 339.2h0M133.2 331.0h0M130.8 341.0h0M117.8 343.0h0M134.4 344.7h0M160.5 340.4h0M128.7 343.3h0M145.0 331.6h0M135.7 328.1h0M129.9 343.5h0M135.2 328.0h0M128.5 297.8h0M136.3 343.8h0M126.3 338.9h0M143.0 335.4h0M136.0 344.1h0M132.2 319.7h0M119.6 341.8h0M134.8 339.1h0M109.1 336.3h0M131.5 343.1h0M126.9 339.6h0M126.8 340.9h0M136.8 336.4h0M122.7 344.6h0M122.9 316.8h0M136.8 333.3h0M136.1 321.0h0M164.9 341.2h0M101.0 336.6h0M143.9 336.2h0M120.4 329.4h0M115.2 336.0h0M142.8 329.1h0M134.0 333.4h0M124.5 341.5h0M126.8 339.5h0M132.7 338.8h0M143.9 343.5h0M107.7 321.3h0M132.7 322.6h0M133.3 332.8h0M137.6 333.5h0M137.7 333.9h0M130.2 338.1h0M141.1 337.4h0M133.9 340.2h0M132.4 311.8h0M129.1 343.8h0M139.6 317.1h0M127.2 339.1h0M132.9 322.6h0M139.8 321.1h0M123.0 333.7h0M180.0 327.1h0M127.7 337.3h0M93.8 324.1h0M146.7 344.2h0M136.9 296.9h0M133.8 342.9h0M128.9 329.1h0M123.6 342.9h0M153.7 342.0h0M136.6 332.7h0M134.4 342.4h0M115.3 331.1h0M151.0 331.1h0M127.0 303.5h0M143.1 325.7h0M138.5 344.9h0M137.5 333.7h0M132.7 342.2h0M145.7 330.2h0M126.2 337.5h0M137.7 315.9h0M125.9 335.7h0M132.0 339.8h0M116.7 328.4h0M124.8 341.0h0M125.5 343.0h0M145.6 334.0h0M90.6 332.0h0M112.8 342.7h0M141.9 344.3h0M137.1 345.8h0M112.7 317.9h0M131.6 345.5h0M114.8 339.4h0M116.4 337.6h0M104.3 314.5h0M76.8 325.8h0M116.6 310.8h0M120.2 341.6h0M124.9 340.9h0M136.8 341.0h0M159.3 336.7h0M122.0 334.2h0M121.5 326.1h0M133.6 320.5h0M108.6 342.6h0M134.7 324.3h0M131.8 344.5h0M128.4 324.1h0M143.9 333.0h0M131.3 326.2h0M107.6 317.5h0M116.7 328.8h0M137.1 342.4h0M147.0 342.1h0M119.3 344.3h0M133.3 337.1h0M127.1 331.0h0M139.2 328.9h0M119.6 327.4h0M108.6 317.6h0M127.6 343.0h0M133.8 337.1h0M124.7 344.7h0M131.9 328.9h0M125.7 345.2h0M135.9 346.0h0M123.8 339.4h0M86.0 343.3h0M138.4 345.5h0M134.0 343.9h0M138.0 342.1h0M139.8 341.5h0M133.5 338.6h0M140.5 341.8h0M124.4 324.0h0M118.7 336.6h0M127.6 334.8h0M109.1 337.9h0M147.1 333.2h0M135.0 343.5h0M123.8 325.6h0M127.1 332.0h0M161.2 337.0h0M122.9 305.7h0M126.3 344.5h0M137.9 345.0h0M137.0 343.3h0M113.1 344.8h0M145.8 337.5h0M137.4 323.2h0M131.9 341.5h0M119.6 343.1h0M97.6 308.7h0M143.2 330.6h0M154.4 328.9h0M125.0 339.1h0M138.3 345.6h0M125.5 344.9h0M134.9 327.8h0M130.1 344.5h0M139.1 337.2h0M121.7 342.1h0M125.1 335.8h0M140.9 343.7h0M135.0 332.2h0M135.4 338.7h0M133.5 343.7h0M124.2 325.4h0M128.3 345.6h0M128.5 336.6h0M117.9 337.4h0M152.4 334.1h0M118.8 300.2h0M143.1 318.7h0M165.4 332.0h0M138.1 332.1h0M144.5 328.4h0M147.9 339.3h0M125.3 339.2h0M125.2 332.9h0M139.5 338.2h0M131.1 346.2h0M133.7 318.9h0M120.9 343.9h0M135.2 333.5h0M114.0 321.4h0M119.8 335.1h0M124.4 345.0h0M86.4 323.0h0M131.3 333.0h0M135.5 344.0h0M130.4 336.1h0M141.1 344.2h0M125.5 342.7h0M113.9 319.8h0M113.6 340.0h0M133.5 327.2h0M133.7 340.7h0M113.2 329.4h0M136.2 323.9h0M123.9 342.3h0M135.6 331.6h0M134.8 342.3h0M122.2 343.5h0M118.2 330.9h0M123.6 332.8h0M130.0 340.9h0M136.5 338.4h0M119.1 333.6h0M127.2 343.5h0M143.4 343.5h0M104.4 330.5h0M138.7 337.9h0M125.9 319.0h0M115.8 333.1h0M122.6 338.8h0M131.9 308.1h0M160.7 331.9h0M113.4 341.6h0M132.1 323.0h0M129.0 327.0h0M132.9 320.6h0M128.9 345.8h0M123.6 343.1h0M131.7 345.5h0M126.7 344.5h0M111.4 339.8h0M137.3 337.6h0M143.8 324.6h0M123.1 338.7h0M129.3 341.0h0M106.8 340.9h0M155.1 324.9h0M130.9 342.5h0M124.0 315.4h0M135.8 343.4h0M121.4 344.0h0M109.6 313.9h0M132.7 334.5h0M138.9 328.7h0M144.1 327.1h0M150.7 340.0h0M137.7 340.4h0M133.9 326.0h0M139.9 340.3h0M132.7 333.2h0M141.1 323.7h0M139.9 342.7h0M140.7 343.4h0M128.9 327.4h0M135.0 334.1h0M113.6 336.4h0M133.6 335.6h0M147.4 344.3h0M141.9 340.7h0M136.1 338.1h0M129.7 328.4h0M134.8 340.0h0M122.2 339.5h0M135.8 331.9h0M156.8 343.3h0M121.1 322.3h0M132.3 337.8h0M125.4 343.9h0M136.9 342.4h0M136.5 330.3h0M152.7 343.3h0M140.8 344.6h0M139.4 339.7h0M134.9 342.3h0M153.2 343.7h0M137.9 338.7h0M120.1 329.9h0M128.6 335.3h0M132.0 338.0h0M116.5 316.1h0M133.0 323.0h0M125.7 325.2h0M130.8 332.6h0M69.5 311.6h0M113.2 337.8h0M146.4 324.8h0M138.5 342.1h0M121.8 328.1h0M142.6 317.4h0M146.0 329.9h0M198.4 335.3h0M129.4 334.4h0M136.7 342.9h0M122.2 316.5h0M142.3 334.3h0M128.7 332.1h0M127.3 330.6h0M135.6 325.7h0M137.8 345.8h0M134.6 336.0h0M133.3 333.1h0M139.0 339.0h0M140.6 332.6h0M122.4 329.4h0M148.0 326.5h0M125.4 334.8h0M125.0 342.9h0M134.8 344.2h0M132.1 343.4h0M152.0 343.1h0M142.0 343.8h0M140.0 335.8h0M143.9 340.7h0M146.4 330.8h0M132.3 332.2h0M120.1 332.8h0M142.6 330.8h0M123.7 334.3h0M148.2 330.7h0M130.8 337.5h0M142.1 342.1h0M133.1 343.2h0M164.4 334.2h0M139.3 334.0h0M115.9 335.3h0M128.6 339.1h0M113.2 335.3h0M124.0 335.2h0M130.4 337.4h0M131.4 342.9h0M144.7 332.8h0M136.1 345.8h0M122.1 344.2h0M113.0 324.4h0M143.2 340.4h0M136.9 344.9h0M136.9 334.3h0M128.2 328.6h0M131.5 327.1h0M103.4 300.1h0M123.4 331.1h0M119.2 341.9h0M130.3 346.1h0M137.9 332.9h0M128.3 322.5h0M125.8 340.1h0M131.2 333.8h0M111.3 337.4h0M102.6 335.8h0M151.7 335.1h0M133.0 339.7h0M135.2 334.5h0M139.8 335.2h0M133.8 336.7h0M135.7 338.5h0M142.0 344.1h0M140.4 339.0h0M143.7 338.9h0M156.3 326.6h0M131.0 344.0h0M123.1 325.0h0M114.8 320.4h0M127.2 345.1h0M144.5 328.8h0M139.2 340.2h0M132.5 345.9h0M125.0 344.0h0M130.7 326.8h0M134.7 341.0h0M135.2 343.8h0M147.9 332.1h0M126.1 309.8h0M77.9 329.6h0M94.1 310.6h0M124.7 340.5h0M100.7 337.6h0M147.9 332.6h0M121.4 330.9h0M102.9 330.4h0M138.2 344.1h0M124.5 337.5h0M119.7 343.9h0M146.4 329.5h0M125.0 343.0h0M135.7 344.7h0M134.6 343.4h0M109.5 340.3h0M130.8 331.5h0M111.4 341.6h0M112.6 336.9h0M126.7 333.0h0M131.4 325.8h0M136.7 339.7h0M129.4 336.5h0M132.5 338.4h0M145.3 329.5h0M126.0 332.7h0M131.0 329.3h0M128.6 344.5h0M133.9 346.2h0M92.4 328.9h0M136.7 320.3h0M133.0 332.7h0M133.4 332.1h0M125.6 345.0h0M136.4 330.4h0M132.6 332.6h0M132.0 340.7h0M127.5 337.6h0M118.0 340.2h0M122.9 313.0h0M127.5 342.4h0M132.6 345.2h0M134.1 341.4h0M143.3 340.1h0M133.4 342.9h0M179.6 338.8h0M124.0 346.2h0M123.6 336.6h0M130.0 339.3h0M111.1 334.3h0M138.5 335.0h0M142.7 340.9h0M130.9 336.1h0M128.6 332.2h0M127.2 337.7h0M157.6 333.7h0M138.1 335.1h0M135.9 340.8h0M141.9 311.0h0M102.2 339.3h0M158.0 330.3h0M102.6 333.9h0M147.7 339.2h0M110.1 341.6h0M136.2 331.1h0M162.6 310.9h0M92.3 338.9h0M140.0 335.3h0M130.5 344.6h0M143.3 336.8h0M129.3 339.2h0M146.2 326.7h0M134.1 344.9h0M131.8 343.0h0M133.8 342.6h0M133.9 337.9h0M131.9 343.4h0M122.0 312.2h0M111.6 337.8h0M145.9 334.3h0M127.9 334.7h0M139.0 341.4h0M117.1 327.6h0M131.2 339.5h0M119.8 338.4h0M139.7 338.0h0M148.8 339.0h0M121.1 336.9h0M126.0 338.7h0M129.6 339.8h0M127.4 323.1h0M138.6 341.9h0M123.6 345.6h0M131.2 336.7h0M146.7 340.7h0M133.8 333.5h0M118.8 331.1h0M135.9 334.8h0M139.9 331.3h0M126.8 340.4h0M147.2 344.7h0M89.8 334.9h0M131.0 343.3h0M122.3 328.4h0M125.4 341.3h0M131.4 316.0h0M132.1 342.2h0M118.7 326.7h0M159.8 324.9h0M140.1 332.9h0M114.1 326.7h0M137.5 329.8h0M127.4 340.6h0M140.7 323.6h0M137.4 337.2h0M142.2 299.4h0M136.0 338.8h0M130.3 330.9h0M153.5 320.7h0M152.3 342.4h0M155.9 334.4h0M168.4 335.3h0M130.5 335.0h0M127.8 323.7h0M135.3 336.8h0M107.5 318.6h0M108.4 330.1h0M135.0 342.3h0M142.8 345.9h0M132.6 328.5h0M140.1 345.5h0M132.3 327.3h0M142.2 337.9h0M104.6 340.9h0M133.4 307.5h0M137.6 326.1h0M123.7 345.3h0M112.3 345.2h0M142.7 345.1h0M113.5 335.8h0M140.6 330.5h0M143.0 339.7h0M137.3 315.7h0M116.7 337.2h0M124.7 330.2h0M127.2 336.9h0M130.6 344.0h0M146.0 341.8h0M137.2 339.2h0M123.1 338.3h0M103.3 339.8h0M132.8 344.2h0M118.7 334.6h0M148.0 338.5h0M136.1 334.6h0M130.9 335.0h0M150.4 335.5h0M136.0 344.0h0M133.5 330.2h0M143.0 336.6h0M129.7 307.5h0M139.7 338.0h0M130.3 332.9h0M132.2 325.4h0M139.0 335.9h0M125.5 275.7h0M133.2 332.9h0M135.6 333.5h0M141.2 331.8h0M168.0 338.7h0M124.5 328.9h0M129.6 343.1h0M140.4 345.3h0M121.9 343.3h0M124.5 345.5h0M125.9 342.0h0M138.9 342.7h0M127.5 342.1h0M119.6 340.8h0M119.6 345.9h0M130.4 343.4h0M130.6 330.8h0M129.0 324.0h0M134.8 326.4h0M130.4 327.7h0M131.6 343.0h0M127.6 333.2h0M129.8 336.8h0M139.8 342.6h0M134.6 344.7h0M125.7 340.1h0M82.2 325.1h0M131.4 328.5h0M138.3 340.8h0M119.6 311.1h0M141.7 345.0h0M122.7 329.8h0M135.5 340.5h0M126.6 330.8h0M124.8 343.5h0M147.9 304.7h0M130.3 308.4h0M118.6 337.9h0M139.2 338.2h0M144.2 338.8h0M208.6 322.7h0M132.1 330.6h0M159.7 317.9h0M127.7 316.1h0M120.2 345.2h0M118.0 345.2h0M133.3 333.1h0M135.7 339.9h0M132.4 344.2h0M136.3 342.0h0M126.2 341.6h0M143.3 326.0h0M131.3 340.2h0M111.3 329.9h0M141.8 323.3h0M149.0 331.5h0M145.2 330.0h0M134.1 342.9h0M120.7 329.4h0M141.6 341.7h0M132.2 330.7h0M138.1 320.5h0M124.5 338.5h0M139.5 332.9h0M125.1 343.4h0M112.7 340.7h0M133.1 338.1h0M120.8 340.5h0M134.5 342.6h0M125.2 342.7h0M114.4 337.9h0M149.8 332.7h0M127.4 334.6h0M122.1 307.1h0M133.4 338.3h0M135.9 329.9h0M189.6 333.5h0M132.7 295.6h0M139.2 307.7h0M108.9 330.3h0M107.8 340.1h0M131.5 337.0h0M141.6 341.5h0M137.0 337.0h0M70.8 313.8h0M116.5 344.8h0M131.5 344.9h0M132.9 338.3h0M129.1 340.5h0M135.2 320.0h0M124.8 331.6h0M129.9 334.3h0M111.6 334.7h0M109.5 254.3h0M112.0 254.3h0M148.0 260.4h0M112.8 266.6h0M102.8 268.6h0M105.3 276.8h0M109.5 276.8h0M141.3 276.8h0M144.7 276.8h0M149.7 285.0h0M165.6 293.2h0M174.0 301.5h0M71.0 303.5h0M69.3 317.9h0M184.9 322.0h0M195.8 322.8h0M184.9 338.4h0" stroke="#000080" stroke-width="2.55" stroke-linecap="round" fill="none"/>
<path d="M45.2 244.6H119.6V326.8H45.2Z" fill="none" stroke="#cc2222" stroke-width="2.2" stroke-dasharray="2.4 0.5"/>
<path d="M139.8 244.8H213.3V326.8H139.8Z" fill="none" stroke="#2a8c5c" stroke-width="2.2" stroke-dasharray="2.4 0.5"/>
<text x="42.0" y="348.8" font-size="6.2" text-anchor="end" fill="#333">0</text>
<text x="42.0" y="328.3" font-size="6.2" text-anchor="end" fill="#333">1</text>
<text x="42.0" y="307.8" font-size="6.2" text-anchor="end" fill="#333">2</text>
<text x="42.0" y="287.2" font-size="6.2" text-anchor="end" fill="#333">3</text>
<text x="42.0" y="266.7" font-size="6.2" text-anchor="end" fill="#333">4</text>
<text x="42.0" y="246.2" font-size="6.2" text-anchor="end" fill="#333">5</text>
<text x="45.0" y="355.0" font-size="6.2" text-anchor="middle" fill="#333">-10</text>
<text x="61.8" y="355.0" font-size="6.2" text-anchor="middle" fill="#333">-8</text>
<text x="78.5" y="355.0" font-size="6.2" text-anchor="middle" fill="#333">-6</text>
<text x="95.2" y="355.0" font-size="6.2" text-anchor="middle" fill="#333">-4</text>
<text x="112.0" y="355.0" font-size="6.2" text-anchor="middle" fill="#333">-2</text>
<text x="128.8" y="355.0" font-size="6.2" text-anchor="middle" fill="#333">0</text>
<text x="145.5" y="355.0" font-size="6.2" text-anchor="middle" fill="#333">2</text>
<text x="162.2" y="355.0" font-size="6.2" text-anchor="middle" fill="#333">4</text>
<text x="179.0" y="355.0" font-size="6.2" text-anchor="middle" fill="#333">6</text>
<text x="195.8" y="355.0" font-size="6.2" text-anchor="middle" fill="#333">8</text>
<text x="212.5" y="355.0" font-size="6.2" text-anchor="middle" fill="#333">10</text>
<text x="49.2" y="256.4" font-size="10.65" font-style="italic" fill="#222">FLA2</text>
<text x="48.4" y="281.2" font-size="10.65" font-style="italic" fill="#222">86 proteins</text>
<text x="208.4" y="256.4" font-size="10.65" font-style="italic" text-anchor="end" fill="#222">FLB1</text>
<text x="210.8" y="281.2" font-size="10.65" font-style="italic" text-anchor="end" fill="#222">132 proteins</text>
<text x="87.9" y="370.4" font-size="10.85">Log2(FLB1/FLA2)</text>
<text x="0" y="0" font-size="10.8" text-anchor="middle" transform="translate(32.1,298.0) rotate(-90)">-Log10(p-value)</text>
<rect x="306.8" y="243.0" width="168.8" height="104.0" fill="#c4c4c4" stroke="none" stroke-width="1"/>
<line x1="306.8" y1="321.0" x2="475.6" y2="321.0" stroke="#b2b2b2" stroke-width="0.8"/>
<line x1="306.8" y1="295.0" x2="475.6" y2="295.0" stroke="#b2b2b2" stroke-width="0.8"/>
<line x1="306.8" y1="269.0" x2="475.6" y2="269.0" stroke="#b2b2b2" stroke-width="0.8"/>
<line x1="306.8" y1="243.0" x2="475.6" y2="243.0" stroke="#b2b2b2" stroke-width="0.8"/>
<line x1="391.20000000000005" y1="243.0" x2="391.20000000000005" y2="347.0" stroke="#b2b2b2" stroke-width="0.8"/>
<line x1="306.8" y1="347.5" x2="475.6" y2="347.5" stroke="#666" stroke-width="1.2"/>
<line x1="306.5" y1="243.0" x2="306.5" y2="348.0" stroke="#888" stroke-width="0.8"/>
<path d="M389.2 329.9h0M397.1 327.9h0M393.5 332.7h0M388.1 329.6h0M411.1 325.9h0M375.8 335.6h0M390.7 249.7h0M397.1 323.1h0M376.2 336.0h0M394.7 333.4h0M397.5 324.4h0M399.7 302.5h0M376.3 345.1h0M394.4 330.7h0M391.4 325.7h0M388.0 334.2h0M395.0 339.0h0M399.3 339.4h0M363.7 324.6h0M387.7 342.1h0M369.9 323.3h0M373.9 330.1h0M386.9 341.0h0M392.9 335.3h0M378.7 326.3h0M385.9 309.6h0M372.5 331.8h0M408.8 311.2h0M374.4 317.8h0M409.3 321.9h0M383.3 331.9h0M401.9 320.5h0M395.5 342.3h0M394.3 334.4h0M384.0 337.8h0M401.4 323.6h0M410.9 315.8h0M382.6 332.8h0M401.6 327.7h0M401.6 336.0h0M394.5 317.5h0M395.3 334.1h0M385.8 339.7h0M401.5 330.2h0M379.1 339.4h0M382.7 309.2h0M397.9 339.2h0M386.8 339.9h0M372.1 311.9h0M374.5 336.8h0M386.0 323.1h0M393.6 338.8h0M407.2 339.2h0M386.7 314.1h0M401.5 337.0h0M407.3 330.2h0M388.6 341.5h0M403.1 296.6h0M400.9 331.9h0M390.4 330.0h0M386.6 327.2h0M383.9 342.3h0M378.3 319.4h0M376.5 334.1h0M418.0 299.9h0M396.5 337.9h0M392.0 334.3h0M379.5 285.1h0M385.6 341.3h0M367.6 326.3h0M390.6 340.0h0M392.7 328.9h0M406.7 318.0h0M376.5 334.2h0M432.3 319.6h0M394.9 333.9h0M394.9 340.3h0M398.6 344.7h0M388.1 333.0h0M395.8 339.4h0M395.2 334.3h0M342.2 310.5h0M396.2 335.3h0M393.7 336.6h0M386.5 344.8h0M407.4 325.6h0M384.5 333.1h0M386.8 344.6h0M383.7 345.7h0M400.2 323.5h0M388.7 342.4h0M404.1 329.1h0M407.7 337.5h0M381.8 330.2h0M401.1 342.2h0M394.5 313.3h0M384.4 335.1h0M398.3 334.9h0M391.3 338.7h0M415.4 336.5h0M397.8 341.7h0M395.0 342.2h0M343.7 302.3h0M404.9 340.9h0M386.6 329.3h0M417.4 337.8h0M386.8 337.0h0M395.4 294.9h0M391.7 344.6h0M388.2 343.6h0M393.3 307.8h0M388.6 335.8h0M409.9 335.1h0M392.2 322.3h0M391.9 336.4h0M380.2 330.0h0M405.0 340.4h0M372.4 314.0h0M384.3 325.3h0M419.5 337.0h0M387.8 327.1h0M398.7 335.8h0M383.4 334.8h0M388.9 324.7h0M402.4 322.1h0M413.8 342.8h0M405.5 337.0h0M387.4 334.6h0M400.6 331.3h0M394.2 340.1h0M416.5 321.4h0M384.0 343.6h0M400.0 336.4h0M397.9 343.0h0M390.6 338.6h0M380.5 346.1h0M379.4 330.9h0M395.9 345.0h0M399.3 339.6h0M415.0 336.7h0M402.8 331.6h0M372.9 337.7h0M386.6 343.4h0M382.9 324.7h0M404.2 331.8h0M377.7 316.1h0M400.3 331.5h0M402.0 325.9h0M400.3 333.4h0M401.7 328.5h0M388.6 340.9h0M403.8 345.3h0M395.7 331.0h0M398.6 341.2h0M367.5 338.9h0M390.5 336.9h0M414.7 333.2h0M396.3 325.8h0M423.1 341.5h0M380.6 335.7h0M386.8 331.0h0M381.0 321.0h0M397.6 340.1h0M385.6 341.0h0M374.5 330.0h0M382.9 328.3h0M389.9 322.2h0M409.4 333.3h0M381.4 337.9h0M382.1 345.9h0M401.3 339.7h0M376.8 322.7h0M395.3 337.5h0M388.5 337.9h0M386.5 332.9h0M394.0 332.7h0M391.9 335.7h0M399.2 326.9h0M391.1 320.5h0M397.5 330.7h0M377.1 321.9h0M402.5 326.0h0M371.4 342.6h0M386.1 341.6h0M385.8 340.1h0M387.1 340.7h0M404.2 297.7h0M394.0 341.5h0M404.5 335.2h0M380.1 334.0h0M381.6 340.8h0M382.0 328.8h0M400.0 340.6h0M402.1 298.8h0M399.9 338.3h0M340.6 330.7h0M384.3 341.9h0M404.2 319.3h0M384.5 346.2h0M392.9 319.8h0M396.7 328.0h0M389.8 346.1h0M372.2 303.5h0M399.7 331.0h0M396.3 339.4h0M401.3 318.7h0M394.9 328.3h0M372.2 322.5h0M395.7 336.1h0M387.9 319.0h0M371.5 328.1h0M400.8 318.1h0M391.2 346.4h0M372.0 324.4h0M384.3 327.0h0M402.1 326.0h0M403.1 339.9h0M402.0 326.8h0M369.2 312.7h0M340.3 340.9h0M379.9 341.3h0M383.3 336.8h0M381.7 329.5h0M400.9 336.9h0M385.1 295.0h0M382.8 342.3h0M399.0 319.3h0M391.8 333.7h0M411.1 315.4h0M396.8 343.9h0M391.9 288.3h0M358.9 326.1h0M394.9 334.0h0M398.5 338.2h0M386.6 329.1h0M377.7 335.6h0M405.3 333.4h0M395.3 331.7h0M384.2 340.5h0M407.1 342.2h0M397.9 336.7h0M398.2 344.9h0M387.1 329.5h0M380.7 335.7h0M384.9 339.3h0M391.7 345.0h0M372.4 338.6h0M392.2 325.2h0M383.7 327.8h0M389.1 345.2h0M402.5 335.8h0M376.9 336.1h0M380.3 341.4h0M404.9 327.4h0M384.9 344.8h0M401.6 329.9h0M403.0 313.9h0M376.0 324.1h0M392.3 321.5h0M403.8 323.6h0M398.4 325.4h0M381.1 329.4h0M383.4 343.0h0M373.5 303.3h0M389.8 328.8h0M371.5 342.8h0M394.4 335.7h0M379.7 343.0h0M379.4 325.6h0M403.3 320.7h0M333.4 313.1h0M388.4 340.6h0M343.6 313.3h0M385.4 337.9h0M385.3 344.3h0M401.9 339.5h0M357.8 333.5h0M367.3 338.1h0M389.7 340.0h0M394.3 341.7h0M389.3 335.5h0M397.3 339.9h0M407.2 328.5h0M388.9 337.5h0M395.3 344.8h0M362.2 336.6h0M385.5 332.5h0M393.6 329.4h0M349.6 345.8h0M404.6 338.4h0M398.9 328.4h0M371.1 337.1h0M383.7 316.4h0M388.5 318.5h0M390.0 311.0h0M384.3 335.0h0M389.8 334.0h0M390.2 325.1h0M386.8 334.8h0M395.0 323.2h0M407.1 339.3h0M393.2 336.0h0M383.9 337.0h0M373.7 319.4h0M386.2 338.4h0M404.3 343.0h0M389.2 342.2h0M352.7 338.9h0M379.0 332.2h0M400.8 317.5h0M351.5 289.0h0M371.7 326.6h0M387.1 330.1h0M378.4 340.6h0M397.3 288.5h0M392.2 333.2h0M387.0 286.8h0M361.8 337.2h0M386.7 324.0h0M391.5 345.1h0M424.9 334.7h0M414.7 343.7h0M394.0 332.0h0M401.3 322.0h0M371.6 330.6h0M385.5 310.8h0M378.4 342.0h0M401.5 334.1h0M401.4 337.4h0M412.7 317.7h0M414.5 333.9h0M376.7 330.7h0M390.6 319.1h0M364.0 331.1h0M384.1 336.9h0M345.9 330.8h0M376.3 327.1h0M397.1 313.4h0M364.9 318.2h0M391.4 327.7h0M387.3 344.9h0M380.1 324.5h0M392.0 333.7h0M401.6 338.3h0M388.0 338.2h0M397.2 321.2h0M379.3 340.4h0M382.5 337.4h0M390.0 331.6h0M391.9 340.6h0M399.7 339.5h0M378.8 337.8h0M389.1 341.5h0M396.3 335.6h0M388.9 338.5h0M365.0 322.3h0M406.5 339.1h0M412.8 340.0h0M391.3 321.4h0M420.9 336.1h0M421.7 327.7h0M394.4 294.5h0M395.7 331.5h0M415.3 321.8h0M390.4 346.0h0M388.1 335.4h0M403.1 334.3h0M401.6 339.3h0M394.3 343.7h0M388.2 322.0h0M403.5 341.6h0M393.0 341.8h0M388.3 333.1h0M391.3 325.1h0M366.8 337.0h0M386.6 337.6h0M415.8 337.5h0M387.1 345.4h0M397.4 340.0h0M380.0 327.3h0M387.9 336.9h0M402.3 316.6h0M370.1 333.2h0M386.3 338.6h0M386.1 335.5h0M384.0 341.4h0M383.0 343.4h0M384.9 345.9h0M384.5 324.2h0M385.5 341.8h0M401.1 340.9h0M396.1 337.8h0M393.9 325.7h0M391.3 321.3h0M473.1 293.9h0M395.1 320.8h0M390.2 346.0h0M378.3 332.8h0M382.8 324.3h0M397.5 341.8h0M370.7 331.0h0M391.6 344.3h0M351.2 326.3h0M407.3 334.6h0M404.0 336.1h0M366.0 324.3h0M383.0 338.6h0M404.8 320.9h0M384.9 343.7h0M390.1 344.1h0M383.8 330.9h0M391.6 323.2h0M398.8 335.8h0M400.8 337.2h0M393.7 328.3h0M432.9 330.7h0M393.8 345.3h0M400.6 337.7h0M392.5 340.5h0M391.1 340.4h0M382.7 341.7h0M400.6 341.4h0M395.5 346.1h0M375.6 333.6h0M404.0 323.0h0M385.4 342.0h0M398.0 344.5h0M401.5 334.7h0M393.3 340.6h0M395.6 342.8h0M387.8 323.7h0M390.8 322.3h0M385.0 334.7h0M392.6 331.3h0M391.7 345.7h0M385.9 336.2h0M394.8 330.9h0M370.8 338.3h0M384.6 344.4h0M397.8 336.1h0M386.9 342.1h0M386.2 333.4h0M390.5 333.2h0M383.6 342.3h0M408.3 333.4h0M381.9 339.9h0M414.5 329.9h0M374.1 342.4h0M382.6 334.4h0M377.9 320.2h0M389.8 326.0h0M394.7 327.1h0M388.3 336.4h0M387.7 346.5h0M386.4 338.3h0M362.5 325.9h0M376.1 319.3h0M389.5 317.5h0M386.0 342.2h0M397.2 338.7h0M354.8 325.3h0M382.9 315.2h0M387.6 335.4h0M387.8 298.9h0M350.9 336.3h0M410.6 329.1h0M393.0 322.5h0M397.1 330.0h0M400.1 309.6h0M410.9 341.9h0M367.9 330.3h0M380.8 322.5h0M395.8 329.1h0M392.4 343.5h0M394.5 329.3h0M380.8 340.1h0M403.0 338.9h0M399.2 343.4h0M407.8 324.1h0M399.7 320.2h0M376.9 327.9h0M406.1 314.9h0M389.3 341.6h0M397.1 336.1h0M390.8 336.2h0M383.5 338.1h0M402.7 325.0h0M378.6 334.9h0M390.1 301.4h0M367.6 330.4h0M401.1 336.6h0M377.7 334.0h0M391.0 342.7h0M376.9 339.7h0M392.7 346.4h0M396.9 309.5h0M357.6 324.7h0M385.6 336.4h0M415.8 337.9h0M403.1 345.8h0M373.6 311.7h0M391.9 329.1h0M384.6 314.2h0M381.5 323.0h0M402.6 312.9h0M372.3 319.0h0M410.0 333.6h0M382.6 327.0h0M415.9 334.9h0M388.8 303.6h0M399.4 333.6h0M397.7 317.8h0M403.0 333.6h0M395.5 345.3h0M390.0 333.2h0M383.7 341.2h0M397.4 310.4h0M392.0 319.4h0M386.9 340.6h0M381.7 341.8h0M396.3 333.8h0M386.5 342.3h0M392.8 340.2h0M394.4 333.6h0M361.3 327.9h0M398.7 332.9h0M374.3 339.1h0M384.6 336.4h0M390.7 307.8h0M376.9 340.0h0M399.3 338.7h0M380.8 335.7h0M414.9 315.6h0M388.9 331.3h0M379.0 300.4h0M385.5 334.5h0M389.4 336.9h0M416.5 327.6h0M395.3 321.7h0M398.4 339.2h0M388.9 344.9h0M372.2 302.1h0M394.7 327.8h0M399.9 340.8h0M385.2 319.0h0M411.4 330.8h0M399.5 329.1h0M427.3 335.6h0M377.0 329.3h0M366.1 305.9h0M401.5 314.0h0M397.5 342.6h0M404.6 341.5h0M386.5 341.4h0M383.1 325.2h0M368.1 328.7h0M391.8 335.7h0M368.9 322.2h0M387.1 338.8h0M397.2 335.4h0M399.4 342.6h0M384.9 345.7h0M384.7 343.5h0M412.1 335.4h0M392.9 331.6h0M378.7 340.1h0M376.0 342.0h0M385.6 332.5h0M387.8 342.8h0M392.9 343.8h0M337.4 304.2h0M372.4 307.7h0M378.6 334.6h0M398.0 340.2h0M377.5 336.0h0M378.9 337.9h0M412.4 336.9h0M383.6 332.8h0M402.7 328.6h0M379.1 328.5h0M403.5 339.7h0M393.4 312.6h0M381.5 343.6h0M367.4 337.5h0M409.9 331.1h0M394.0 321.2h0M398.5 319.0h0M444.0 322.7h0M378.0 337.0h0M393.3 340.4h0M395.7 341.6h0M408.8 314.3h0M373.3 336.7h0M399.4 326.4h0M394.3 329.8h0M368.9 337.1h0M416.3 317.3h0M408.7 344.1h0M405.4 343.3h0M384.3 334.6h0M395.4 327.0h0M392.6 330.0h0M393.3 342.1h0M366.7 338.0h0M391.3 340.9h0M363.2 325.4h0M366.6 333.2h0M396.3 327.5h0M380.3 332.9h0M398.3 339.1h0M378.7 346.1h0M397.2 344.9h0M387.4 341.0h0M406.3 334.0h0M390.2 342.8h0M370.6 311.7h0M382.5 343.5h0M392.8 333.6h0M401.9 342.5h0M390.6 338.0h0M396.4 318.7h0M395.4 340.1h0M370.9 335.8h0M386.2 319.4h0M380.3 312.2h0M382.1 333.4h0M389.1 335.0h0M381.0 329.8h0M379.5 299.1h0M385.0 338.1h0M398.6 332.3h0M364.4 329.6h0M379.9 332.0h0M405.7 343.8h0M313.9 310.8h0M407.5 338.5h0M412.1 323.1h0M415.0 339.5h0M358.0 320.2h0M389.0 332.4h0M385.7 343.3h0M391.4 334.6h0M397.3 325.3h0M379.4 341.4h0M392.8 323.5h0M395.3 343.2h0M398.9 338.7h0M390.7 313.6h0M397.0 327.9h0M369.1 326.8h0M392.5 340.7h0M393.3 345.1h0M399.1 331.6h0M382.1 344.2h0M412.3 334.1h0M401.7 340.4h0M383.0 336.5h0M386.4 332.8h0M390.2 336.6h0M404.1 339.7h0M378.5 309.2h0M367.2 343.9h0M395.6 327.4h0M369.8 340.9h0M386.8 337.5h0M384.1 333.1h0M415.6 333.6h0M384.6 342.0h0M386.6 343.8h0M357.2 311.7h0M391.0 337.3h0M389.2 346.4h0M387.2 344.3h0M388.1 314.5h0M425.0 331.7h0M370.9 331.7h0M393.8 324.4h0M378.0 328.8h0M407.2 334.7h0M374.6 338.7h0M394.2 338.6h0M392.7 337.4h0M392.1 326.5h0M391.6 346.7h0M395.7 333.6h0M390.3 345.0h0M394.2 335.4h0M396.6 320.7h0M380.2 339.1h0M398.9 340.0h0M397.1 324.8h0M385.4 342.3h0M388.5 326.3h0M387.7 343.5h0M377.7 334.4h0M389.6 345.7h0M389.9 329.6h0M389.7 324.0h0M376.0 339.9h0M401.2 342.9h0M384.1 337.5h0M383.3 323.2h0M392.8 336.9h0M384.7 323.4h0M363.4 329.3h0M393.1 333.9h0M401.3 341.2h0M407.7 339.6h0M382.2 337.8h0M384.3 333.6h0M390.6 339.0h0M391.1 333.0h0M413.2 311.2h0M393.8 332.6h0M380.2 329.0h0M389.8 320.6h0M399.7 336.1h0M386.0 340.6h0M387.5 335.4h0M423.0 336.6h0M391.4 340.7h0M385.3 338.8h0M386.4 340.2h0M385.8 342.1h0M397.8 331.4h0M415.2 308.4h0M374.6 304.6h0M402.8 335.3h0M397.4 308.1h0M401.9 342.7h0M397.2 340.5h0M406.7 336.2h0M389.0 322.3h0M391.5 332.3h0M398.7 317.9h0M397.1 305.6h0M393.7 329.4h0M384.0 310.8h0M373.9 336.3h0M381.7 338.8h0M371.9 340.4h0M406.1 323.9h0M397.8 326.2h0M384.0 329.6h0M373.5 332.3h0M389.6 341.8h0M392.1 313.9h0M378.6 323.1h0M392.8 343.2h0M402.8 337.7h0M387.9 346.0h0M388.7 344.8h0M388.6 332.9h0M393.0 345.3h0M392.2 332.1h0M473.6 330.2h0M380.9 330.2h0M386.8 344.5h0M376.1 334.6h0M398.6 327.5h0M388.1 336.3h0M400.1 345.5h0M439.6 331.2h0M383.9 328.3h0M380.4 344.6h0M395.5 342.5h0M395.0 338.8h0M380.5 330.4h0M415.6 336.7h0M379.8 321.3h0M384.1 336.7h0M380.4 343.2h0M395.0 322.8h0M388.3 340.4h0M396.9 345.9h0M394.4 338.9h0M384.6 326.6h0M409.5 337.6h0M393.1 340.1h0M380.1 334.1h0M386.6 345.1h0M396.0 340.2h0M384.2 344.8h0M378.2 323.4h0M385.2 345.7h0M379.6 314.9h0M393.5 339.4h0M378.4 313.3h0M375.0 338.5h0M398.9 340.1h0M365.4 312.8h0M397.3 318.7h0M379.9 316.8h0M392.5 346.0h0M389.7 317.1h0M376.4 329.5h0M395.6 331.7h0M398.2 337.8h0M394.1 342.0h0M376.8 339.5h0M381.9 335.5h0M385.7 342.7h0M393.2 328.6h0M384.7 334.0h0M382.0 339.5h0M375.4 325.9h0M411.8 323.8h0M409.4 324.9h0M393.3 329.8h0M397.3 335.0h0M390.9 339.9h0M380.8 321.9h0M385.6 330.9h0M419.0 331.3h0M378.8 314.5h0M379.6 342.6h0M389.5 333.5h0M360.9 327.6h0M383.5 323.1h0M399.7 337.0h0M391.5 343.3h0M374.2 344.8h0M393.0 308.1h0M380.1 323.6h0M392.8 342.5h0M392.9 321.6h0M393.5 339.5h0M382.8 326.7h0M376.7 333.1h0M389.5 343.1h0M394.6 338.0h0M367.3 301.6h0M398.1 328.5h0M391.2 312.0h0M385.9 343.1h0M381.3 330.5h0M387.2 335.9h0M389.2 344.9h0M368.6 338.5h0M387.6 323.5h0M374.7 314.7h0M395.1 329.3h0M388.3 345.8h0M377.0 324.6h0M386.3 337.5h0M390.6 342.4h0M358.1 330.9h0M392.4 344.4h0M379.9 331.5h0M379.8 334.2h0M331.3 315.1h0M380.9 326.4h0M390.7 335.3h0M391.8 341.8h0M389.7 336.7h0M381.7 342.6h0M396.0 335.9h0M380.7 322.2h0M385.5 331.4h0M393.9 324.8h0M414.7 329.5h0M396.9 325.1h0M395.3 330.3h0M396.6 343.4h0M396.4 330.0h0M386.9 338.2h0M391.3 337.8h0M394.0 330.7h0M390.5 342.3h0M378.0 327.5h0M393.9 344.1h0M378.8 343.7h0M380.6 317.9h0M383.0 329.8h0M403.6 333.5h0M377.4 320.9h0M409.8 321.6h0M395.9 325.9h0M393.3 343.8h0M394.6 344.6h0M367.6 341.4h0M386.7 342.4h0M384.5 327.9h0M385.6 312.5h0M371.8 333.8h0M416.4 334.9h0M392.0 332.1h0M396.3 337.8h0M385.7 335.1h0M387.9 303.9h0M381.5 324.2h0M395.3 340.1h0M376.4 339.9h0M389.4 335.7h0M391.7 340.4h0M382.1 339.0h0M418.3 341.3h0M394.2 312.0h0M385.9 342.3h0M416.3 303.8h0M392.1 335.3h0M383.4 334.2h0M387.6 320.2h0M402.0 303.4h0M390.4 343.5h0M388.8 316.4h0M402.0 330.4h0M392.2 315.1h0M376.4 334.3h0M388.2 343.3h0M416.8 340.7h0M392.2 306.8h0M390.4 346.0h0M385.9 318.8h0M403.3 330.1h0M396.5 306.3h0M382.2 336.3h0M402.4 323.1h0M393.5 335.5h0M397.1 345.5h0M404.4 339.5h0M393.1 344.1h0M396.5 338.8h0M382.1 332.1h0M379.6 332.4h0M365.7 326.8h0M417.1 321.8h0M379.9 343.6h0M383.3 343.0h0M388.5 345.1h0M395.4 341.5h0M398.5 335.4h0M387.1 339.9h0M402.7 340.9h0M398.6 344.4h0M376.1 339.9h0M395.6 340.2h0M400.7 337.2h0M383.7 309.1h0M393.6 319.8h0M440.1 322.9h0M396.8 341.5h0M403.8 321.6h0M369.8 335.0h0M393.9 341.8h0M350.5 324.2h0M394.4 337.5h0M398.1 328.5h0M398.3 323.8h0M417.1 337.1h0M388.9 343.8h0M387.2 345.8h0M394.8 339.5h0M371.4 334.4h0M405.5 339.5h0M373.6 321.0h0M405.4 334.5h0M387.0 343.2h0M378.0 333.1h0M397.6 342.4h0M401.1 321.2h0M406.6 322.5h0M411.7 337.3h0M374.5 325.8h0M395.8 294.8h0M389.9 340.4h0M385.0 332.8h0M436.2 326.7h0M387.2 327.7h0M391.6 341.4h0M411.9 339.5h0M396.4 336.3h0M368.0 333.6h0M396.4 343.9h0M398.5 323.4h0M380.9 327.3h0M396.5 336.4h0M370.7 320.8h0M381.9 342.0h0M383.5 340.8h0M374.7 314.2h0M387.0 335.8h0M390.5 336.2h0M399.1 346.1h0M423.1 335.0h0M401.3 333.9h0M385.3 337.7h0M391.5 339.1h0M392.5 327.8h0M394.9 343.2h0M365.6 331.7h0M384.2 342.8h0M378.9 346.0h0M410.7 337.1h0M396.7 345.3h0M398.9 340.5h0M377.0 326.7h0M390.4 346.6h0M393.3 343.6h0M395.0 343.1h0M382.3 334.2h0M392.9 329.7h0M392.0 337.4h0M377.5 342.1h0M377.9 333.9h0M378.6 336.4h0M400.9 338.3h0M375.8 335.1h0M377.8 335.1h0M397.2 344.2h0M395.3 341.4h0M410.9 319.0h0M382.3 342.6h0M405.7 341.1h0M410.0 309.4h0M407.6 328.4h0M395.9 339.6h0M398.0 326.8h0M401.6 340.2h0M387.1 336.3h0M392.4 328.8h0M391.7 313.8h0M381.4 336.4h0M410.5 334.0h0M379.0 336.2h0M377.9 333.7h0M404.6 328.2h0M408.9 322.7h0M397.2 343.8h0M392.5 346.1h0M384.7 338.4h0M391.4 308.2h0M339.0 316.4h0M399.1 333.1h0M402.7 341.0h0M401.9 310.6h0M387.6 320.8h0M401.4 325.7h0M389.8 344.1h0M399.3 331.3h0M401.5 302.1h0M384.0 338.3h0M390.5 342.7h0M396.7 341.8h0M357.1 327.6h0M409.8 320.2h0M392.4 339.4h0M383.5 344.7h0M364.7 337.0h0M406.1 342.4h0M359.8 300.7h0M383.4 336.7h0M391.9 332.7h0M333.4 334.6h0M390.3 328.7h0M385.8 344.6h0M374.9 335.5h0M400.1 331.8h0M369.9 340.6h0M413.0 344.8h0M314.4 334.3h0M372.8 320.3h0M391.3 336.2h0M391.1 340.9h0M389.9 325.1h0M391.1 345.4h0M397.4 344.1h0M396.9 305.7h0M401.0 337.7h0M380.6 336.8h0M378.6 328.5h0M395.9 327.6h0M382.9 345.8h0M418.7 333.1h0M385.9 341.1h0M398.9 324.3h0M393.1 333.9h0M377.4 326.6h0M383.2 310.1h0M397.4 318.5h0M385.5 313.4h0M382.2 342.7h0M370.6 323.8h0M391.2 345.2h0M381.7 331.2h0M374.9 336.4h0M393.3 346.1h0M388.6 328.4h0M416.5 342.4h0M411.9 326.8h0M414.6 334.7h0M389.3 338.0h0M394.4 341.7h0M379.8 341.3h0M382.1 334.5h0M412.7 335.8h0M448.4 335.0h0M400.9 334.3h0M374.1 326.9h0M386.2 334.5h0M390.8 336.7h0M391.8 328.6h0M396.9 334.7h0M402.3 315.7h0M382.2 315.6h0M388.6 336.0h0M403.0 333.0h0M407.6 328.3h0M405.7 327.5h0M386.3 340.2h0M393.3 331.9h0M430.5 311.1h0M387.2 326.4h0M385.7 335.2h0M417.1 337.3h0M388.9 336.3h0M400.6 342.3h0M380.0 342.1h0M391.5 333.3h0M400.5 338.4h0M399.1 336.5h0M396.3 341.7h0M382.8 330.0h0M396.6 328.2h0M392.2 340.9h0M433.5 324.9h0M391.2 332.9h0M375.1 336.1h0M381.9 336.4h0M378.2 339.1h0M389.6 329.9h0M401.6 343.2h0M390.6 334.4h0M384.5 342.7h0M397.0 326.7h0M366.2 343.6h0M381.6 321.3h0M393.5 337.2h0M373.8 287.8h0M400.4 342.5h0M381.5 336.2h0M396.7 340.1h0M436.5 342.1h0M382.4 344.3h0M389.3 340.8h0M400.6 318.7h0M405.0 335.3h0M390.4 344.2h0M387.6 333.5h0M390.2 341.3h0M387.6 342.6h0M377.8 315.3h0M385.3 344.2h0M399.2 331.5h0M353.7 321.7h0M387.4 321.6h0M393.7 333.6h0M392.0 332.8h0M386.4 329.7h0M399.4 324.9h0M384.1 338.6h0M390.3 335.3h0M385.0 340.0h0M392.6 310.9h0M399.8 339.6h0M400.8 334.9h0M383.6 331.4h0M402.0 311.9h0M402.2 340.0h0M382.7 339.0h0M384.7 341.3h0M393.4 313.1h0M390.7 327.4h0M407.3 335.9h0M403.8 318.0h0M398.4 343.0h0M349.2 332.4h0M395.9 336.0h0M411.3 331.8h0M403.1 338.7h0M419.4 334.0h0M401.1 334.8h0M382.4 334.4h0M398.9 335.2h0M395.0 331.3h0M400.7 338.3h0M391.8 341.1h0M399.1 338.8h0M408.1 334.3h0M385.9 328.8h0M425.9 317.0h0M378.4 337.5h0M399.2 321.9h0M394.4 342.1h0M394.4 333.8h0M365.5 316.5h0M361.8 321.3h0M381.0 334.0h0M382.1 335.1h0M394.6 343.0h0M401.3 336.4h0M389.7 341.3h0M383.4 317.6h0M400.2 325.7h0M396.5 345.7h0M382.2 329.1h0M384.7 338.9h0M413.1 340.3h0M380.0 336.6h0M393.9 337.6h0M432.2 320.5h0M391.7 343.8h0M397.3 333.3h0M380.7 339.8h0M388.0 336.3h0M400.1 335.8h0M397.8 333.5h0M368.1 340.5h0M383.1 331.0h0M381.7 339.0h0M413.7 320.8h0M390.3 332.5h0M389.5 326.1h0M382.2 338.8h0M389.1 333.3h0M324.8 329.9h0M414.3 341.1h0M396.5 336.7h0M396.0 335.4h0M350.4 339.7h0M377.3 340.0h0M397.3 342.6h0M396.2 332.4h0M380.3 331.3h0M378.3 335.7h0M439.9 281.6h0M397.3 336.3h0M387.2 333.2h0M391.4 332.6h0M379.2 321.0h0M383.2 325.6h0M407.1 338.0h0M403.6 339.5h0M386.0 323.1h0M377.5 314.5h0M382.8 337.7h0M392.8 344.4h0M391.6 340.7h0M402.2 327.3h0M387.2 329.6h0M398.2 331.3h0M391.3 339.2h0M389.0 340.1h0M377.3 328.2h0M391.6 340.5h0M380.0 337.0h0M399.2 340.5h0M394.2 337.5h0M392.4 332.8h0M385.3 338.0h0M386.7 340.0h0M342.3 321.6h0M407.7 344.8h0M403.7 332.0h0M380.5 329.8h0M388.2 343.4h0M391.2 346.8h0M377.3 313.7h0M388.9 340.2h0M396.7 333.6h0M378.2 331.4h0M393.2 340.0h0M394.5 339.0h0M395.3 337.8h0M385.5 343.0h0M376.9 344.5h0M371.7 328.1h0M362.6 324.5h0M396.0 336.1h0M380.3 342.7h0M402.0 341.5h0M390.4 330.4h0M391.6 346.8h0M386.0 330.0h0M379.9 343.3h0M394.7 320.1h0M401.9 328.9h0M375.9 318.2h0M396.6 344.1h0M363.9 335.0h0M404.5 319.1h0M392.8 345.4h0M392.6 329.5h0M398.5 342.1h0M384.9 345.7h0M399.2 339.0h0M384.7 337.0h0M392.8 335.0h0M382.0 342.0h0M394.3 305.0h0M425.5 318.7h0M388.2 339.4h0M385.1 334.8h0M380.8 332.6h0M352.7 337.7h0M400.0 326.1h0M409.1 338.8h0M402.5 340.8h0M403.3 333.1h0M365.2 326.1h0M381.3 331.6h0M405.3 340.9h0M396.0 332.8h0M382.0 304.3h0M387.8 333.8h0M380.9 323.9h0M390.3 340.0h0M377.6 316.7h0M401.5 320.9h0M389.1 325.0h0M393.8 339.9h0M374.1 310.3h0M401.3 336.6h0M390.0 338.9h0M395.1 325.5h0M408.3 330.5h0M401.7 326.3h0M393.5 340.3h0M392.2 325.7h0M388.2 326.3h0M366.4 330.0h0M386.9 323.6h0M382.9 334.3h0M376.3 345.3h0M370.1 326.2h0M394.6 339.3h0M406.4 329.0h0M401.7 332.1h0M386.9 327.0h0M380.3 325.8h0M368.0 339.9h0M385.7 336.4h0M392.7 330.1h0M386.1 332.8h0M388.0 336.1h0M407.2 334.6h0M383.2 320.6h0M368.0 324.3h0M392.3 321.7h0M394.7 344.8h0M360.2 330.5h0M392.0 340.0h0M412.0 330.0h0M370.6 330.4h0M394.1 333.8h0M402.1 319.1h0M384.5 324.4h0M381.9 339.7h0M402.6 329.5h0M391.2 343.5h0M406.4 318.5h0M381.8 345.3h0M401.4 344.8h0M393.6 328.7h0M422.5 327.9h0M398.4 332.1h0M399.8 337.7h0M388.3 333.7h0M391.6 328.1h0M390.7 322.2h0M375.7 323.5h0M397.9 343.0h0M407.0 326.9h0M389.4 338.1h0M369.6 332.6h0M384.7 334.8h0M377.7 342.1h0M396.2 335.2h0M392.6 327.2h0M384.7 323.9h0M396.8 324.2h0M384.8 323.6h0M364.4 308.8h0M386.9 334.7h0M387.9 337.0h0M330.1 313.1h0M390.9 338.8h0M397.7 331.3h0M396.2 310.7h0M416.5 339.3h0M387.5 333.5h0M396.2 329.3h0M348.8 330.8h0M391.2 341.6h0M369.5 334.0h0M385.9 340.0h0M393.1 336.1h0M371.3 336.2h0M402.3 317.4h0M416.1 337.4h0M403.3 334.1h0M394.2 299.4h0M400.3 335.5h0M406.6 324.5h0M381.6 338.1h0M371.5 299.1h0M385.9 344.5h0M383.6 339.0h0M420.9 335.1h0M400.7 317.5h0M391.7 344.4h0M387.8 307.6h0M387.6 320.7h0M404.8 322.4h0M384.1 332.8h0M386.0 342.0h0M390.9 346.6h0M399.2 339.8h0M376.7 318.4h0M396.2 337.2h0M379.9 336.0h0M390.0 323.3h0M375.3 339.1h0M389.9 335.8h0M370.6 333.1h0M373.3 327.5h0M395.8 323.6h0M385.3 322.8h0M388.6 331.8h0M381.0 324.9h0M383.8 309.7h0M383.6 335.1h0M384.4 317.6h0M386.0 343.8h0M381.6 333.0h0M397.4 322.0h0M386.7 315.4h0M389.4 316.2h0M353.8 323.3h0M364.6 337.1h0M391.9 341.2h0M390.7 317.6h0M374.8 341.0h0M379.8 337.9h0M404.9 325.6h0M347.5 323.0h0M381.1 304.4h0M407.7 304.7h0M387.8 318.0h0M410.3 327.6h0M394.9 345.4h0M397.7 344.0h0M388.6 338.5h0M400.5 338.3h0M394.0 344.7h0M398.3 333.4h0M388.9 335.4h0M389.2 344.3h0M382.4 342.3h0M382.5 341.9h0M394.8 335.3h0M389.6 322.9h0M387.5 329.5h0M390.6 330.5h0M402.9 337.5h0M402.2 339.8h0M399.2 326.4h0M392.2 345.1h0M376.1 322.8h0M395.2 333.9h0M377.7 323.3h0M395.8 330.9h0M388.3 341.4h0M403.1 334.9h0M385.6 341.1h0M402.5 333.3h0M391.0 319.2h0M386.3 339.8h0M406.0 326.5h0M393.2 340.9h0M392.6 340.1h0M386.9 324.5h0M420.1 328.3h0M399.0 324.8h0M411.4 336.8h0M389.1 331.3h0M374.9 340.2h0M397.8 336.6h0M380.4 338.4h0M397.5 338.3h0M388.2 332.4h0M393.0 346.8h0M392.2 328.7h0M384.8 339.2h0M388.6 336.8h0M391.0 325.4h0M388.7 341.5h0M399.3 315.4h0M390.4 334.1h0M392.3 305.3h0M380.5 321.4h0M385.4 335.5h0M394.4 297.7h0M420.2 333.5h0M407.9 340.0h0M383.5 343.0h0M385.5 341.3h0M393.7 323.8h0M360.9 334.5h0M387.7 319.9h0M373.9 335.7h0M392.4 335.7h0M389.6 343.0h0M390.1 339.2h0M389.5 340.7h0M405.2 338.2h0M391.1 323.8h0M385.7 334.3h0M378.7 332.9h0M392.2 339.1h0M402.6 330.6h0M392.6 342.6h0M391.3 340.9h0M392.8 340.1h0M375.0 318.7h0M391.2 340.6h0M392.1 344.6h0M394.4 330.7h0M386.8 265.8h0M396.2 341.3h0M377.4 314.1h0M387.7 341.4h0M379.8 345.4h0M401.6 327.5h0M369.3 336.5h0M368.7 337.3h0M388.8 345.0h0M395.0 339.5h0M383.8 342.8h0M406.1 326.4h0M395.1 341.8h0M391.8 329.1h0M390.6 340.3h0M395.6 339.5h0M394.2 322.8h0M383.3 331.2h0M380.1 330.9h0M417.0 322.9h0M395.3 339.0h0M397.3 340.2h0M387.4 345.1h0M394.8 337.7h0M401.0 311.1h0M398.3 338.0h0M401.2 325.7h0M394.1 345.1h0M408.4 337.3h0M398.0 344.6h0M384.0 315.4h0M407.9 329.9h0M404.8 334.6h0M390.4 313.2h0M382.3 318.1h0M389.4 316.6h0M393.1 338.3h0M410.0 327.3h0M385.8 334.4h0M396.0 320.4h0M390.3 343.3h0M411.5 312.3h0M395.6 328.7h0M427.4 324.2h0M386.6 314.1h0M384.4 318.0h0M392.4 314.8h0M367.0 322.8h0M412.1 331.9h0M397.4 338.6h0M388.4 336.6h0M395.2 339.8h0M374.1 326.2h0M385.2 333.4h0M391.3 340.8h0M397.6 341.1h0M378.2 334.2h0M370.0 339.4h0M390.7 341.7h0M396.0 342.6h0M410.1 329.2h0M389.7 317.9h0M382.1 343.9h0M382.8 322.2h0M402.9 341.0h0M397.8 333.7h0M394.9 334.2h0M374.6 335.5h0M355.7 328.7h0M421.8 327.6h0M396.3 332.9h0M391.4 344.1h0M388.8 322.4h0M373.2 327.3h0M393.1 345.1h0M402.7 332.4h0M401.9 328.3h0M383.8 337.5h0M376.0 329.1h0M407.2 336.1h0M381.3 333.5h0M392.7 342.0h0M381.2 313.4h0M398.9 333.9h0M392.5 314.7h0M387.9 338.5h0M407.0 326.9h0M399.3 343.5h0M395.8 336.6h0M393.8 340.6h0M389.3 271.8h0M380.2 330.8h0M406.2 335.3h0M404.6 336.1h0M392.3 328.3h0M394.4 324.5h0M391.1 325.6h0M391.5 312.9h0M406.6 314.2h0M396.4 330.9h0M395.1 322.0h0M396.7 329.1h0M393.0 344.7h0M391.9 344.5h0M391.8 346.8h0M410.2 332.8h0M386.6 337.5h0M388.5 346.4h0M414.9 310.1h0M442.4 308.3h0M404.7 340.2h0M343.9 337.5h0M393.9 337.9h0M387.4 333.7h0M390.3 307.6h0M403.2 327.1h0M392.9 330.1h0M398.8 340.7h0M398.2 316.1h0M409.4 324.6h0M379.3 341.0h0M394.8 302.0h0M355.1 313.0h0M374.6 327.2h0M375.4 326.8h0M395.4 306.3h0M400.3 323.8h0M402.9 327.9h0M394.3 346.4h0M384.9 314.0h0M376.2 330.6h0M402.0 336.1h0M397.4 317.7h0M395.7 345.9h0M399.9 339.7h0M395.2 339.2h0M392.2 295.3h0M375.1 336.2h0M387.6 345.1h0M433.1 335.3h0M343.8 320.6h0M396.9 342.0h0M390.0 345.8h0M381.2 336.1h0M403.6 342.7h0M400.0 343.0h0M386.3 341.5h0M390.6 334.1h0M397.0 341.2h0M396.6 333.3h0M382.4 332.8h0M396.9 338.8h0M395.4 317.1h0M365.1 312.7h0M388.9 338.9h0M393.0 334.8h0M402.9 329.0h0M389.9 345.3h0M389.2 338.9h0M410.5 323.2h0M392.8 339.3h0M394.2 344.5h0M394.9 340.2h0M395.0 338.1h0M385.3 335.1h0M401.9 330.0h0M392.5 332.9h0M397.4 329.3h0M384.0 338.0h0M389.2 332.7h0M395.7 334.4h0M399.8 307.8h0M370.9 340.7h0M402.3 336.4h0M387.5 320.1h0M403.1 335.1h0M412.2 327.2h0M397.0 345.3h0M458.2 306.9h0M392.6 346.1h0M376.4 341.0h0M391.7 334.3h0M381.4 345.5h0M414.7 339.1h0M386.3 338.4h0M362.5 329.0h0M386.1 327.4h0M386.3 310.9h0M354.2 326.0h0M395.5 342.0h0M399.6 330.9h0M390.7 335.7h0M391.4 346.8h0M392.5 336.7h0M369.4 326.2h0M384.4 339.8h0M390.1 341.8h0M372.7 300.1h0M381.8 328.1h0M367.7 325.0h0M386.5 299.1h0M404.8 310.9h0M395.4 341.2h0M401.7 342.3h0M435.8 321.9h0M392.4 326.1h0M386.6 341.7h0M372.4 320.0h0M388.1 323.1h0M401.8 325.3h0M389.6 335.2h0M401.5 344.4h0M400.7 310.3h0M431.7 316.7h0M384.4 341.8h0M399.2 321.3h0M392.3 336.0h0M401.1 344.2h0M389.3 338.4h0M380.1 338.2h0M389.5 321.7h0M369.9 331.9h0M360.7 316.4h0M368.2 337.5h0M369.6 321.8h0M395.2 338.7h0M385.4 335.6h0M387.5 337.7h0M384.3 339.4h0M395.1 337.7h0M381.6 326.1h0M397.5 342.9h0M380.0 333.2h0M400.0 341.1h0M385.4 344.7h0M376.5 340.1h0M397.7 341.1h0M394.5 343.2h0M389.1 330.3h0M413.8 336.1h0M387.2 340.2h0M392.2 342.1h0M401.6 331.0h0M399.3 331.5h0M383.0 330.8h0M387.4 327.1h0M397.5 338.9h0M388.2 344.8h0M374.5 331.8h0M398.3 342.4h0M392.0 320.8h0M380.5 322.8h0M397.2 344.4h0M400.7 343.3h0M371.0 341.9h0M384.4 343.7h0M392.3 342.8h0M395.7 332.3h0M368.7 343.0h0M399.6 339.1h0M392.1 345.6h0M401.1 333.2h0M385.3 312.1h0M403.3 343.6h0M394.3 322.1h0M374.3 336.6h0M397.3 311.1h0M388.2 332.6h0M380.6 335.0h0M393.5 335.7h0M383.8 344.3h0M416.9 323.4h0M379.1 328.8h0M390.4 326.2h0M393.1 329.6h0M377.2 338.8h0M390.0 337.4h0M406.7 336.4h0M372.3 337.5h0M376.1 337.7h0M400.4 336.3h0M392.0 323.9h0M422.0 330.3h0M393.8 342.7h0M393.4 341.3h0M384.1 333.7h0M394.6 339.6h0M389.7 328.2h0M385.3 327.1h0M391.4 345.6h0M370.3 338.1h0M384.7 343.2h0M377.1 341.1h0M395.5 334.2h0M362.1 342.7h0M419.2 338.4h0M375.9 341.8h0M390.1 331.0h0M405.0 328.2h0M394.7 343.1h0M397.2 340.3h0M396.4 326.8h0M372.1 339.4h0M381.1 338.6h0M390.7 344.5h0M387.5 342.4h0M384.4 339.2h0M396.4 337.4h0M389.2 315.2h0M390.6 325.5h0M460.8 297.7h0M376.7 319.5h0M400.9 346.1h0M385.0 337.5h0M382.8 334.6h0M391.1 334.3h0M402.6 328.3h0M374.8 338.0h0M389.1 337.8h0M386.5 334.1h0M392.4 317.3h0M378.9 339.0h0M388.6 325.3h0M395.4 332.8h0M393.0 329.9h0M396.0 332.6h0M389.3 336.0h0M407.9 342.4h0M391.4 346.4h0M393.3 339.5h0M400.1 333.9h0M402.9 334.4h0M394.6 318.9h0M387.9 332.2h0M366.7 318.9h0M389.2 335.1h0M381.1 331.3h0M392.0 314.0h0M390.6 323.3h0M387.9 332.4h0M390.7 339.2h0M405.1 343.6h0M386.8 326.5h0M385.8 339.7h0M385.0 337.2h0M370.7 335.9h0M382.6 315.2h0M399.7 338.2h0M398.4 312.6h0M396.6 314.1h0M365.4 336.2h0M393.3 329.7h0M398.5 324.2h0M375.8 326.4h0M404.5 340.9h0M388.9 328.7h0M391.0 318.9h0M431.9 332.1h0M383.3 332.5h0M391.8 321.6h0M389.9 313.5h0M370.8 339.2h0M371.2 334.0h0M392.8 334.8h0M395.1 331.6h0M392.4 328.0h0M395.4 336.7h0M395.6 332.2h0M391.2 330.1h0M393.6 342.9h0M383.9 328.0h0M391.9 326.7h0M391.5 335.7h0M415.8 310.7h0M396.0 338.2h0M384.8 324.6h0M380.7 336.4h0M395.8 335.4h0M361.5 320.6h0M397.7 345.3h0M388.7 313.1h0M391.7 329.6h0M402.0 342.5h0M397.1 330.4h0M388.1 343.4h0M398.0 344.6h0M421.7 339.1h0M383.9 326.5h0M375.2 309.9h0M375.5 335.8h0M372.1 336.7h0M416.1 337.8h0M380.7 331.0h0M378.1 333.8h0M391.1 336.7h0M393.3 345.3h0M386.0 339.2h0M393.1 331.1h0M365.7 340.0h0M394.4 337.0h0M403.2 323.0h0M398.0 341.4h0M388.0 344.0h0M382.1 344.9h0M394.3 326.0h0M397.8 333.7h0M369.3 330.4h0M400.9 335.8h0M389.5 331.6h0M381.7 327.8h0M385.0 338.6h0M381.5 341.8h0M387.7 329.7h0M401.8 332.4h0M397.7 343.8h0M376.4 343.9h0M419.8 327.7h0M380.0 342.7h0M391.4 341.5h0M388.8 343.7h0M400.5 340.6h0M357.5 317.5h0M399.7 323.0h0M387.2 327.3h0M397.8 338.7h0M377.9 340.5h0M394.7 336.7h0M397.7 345.4h0M395.5 330.1h0M412.7 337.8h0M385.8 327.7h0M394.1 333.5h0M397.7 331.0h0M402.0 332.7h0M384.1 338.4h0M395.0 340.8h0M379.0 339.4h0M396.9 299.1h0M383.2 326.6h0M423.9 308.5h0M379.9 344.9h0M377.0 338.9h0M389.0 343.7h0M390.8 343.6h0M388.9 332.1h0M419.2 315.4h0M380.2 342.8h0M362.1 329.4h0M405.7 332.3h0M385.4 337.8h0M387.4 324.2h0M382.9 331.3h0M402.8 335.5h0M398.2 330.3h0M392.6 322.9h0M384.0 340.9h0M386.4 334.5h0M362.7 317.4h0M368.9 338.1h0M389.6 346.2h0M388.8 334.9h0M414.8 342.8h0M398.6 340.8h0M391.2 339.5h0M377.8 338.8h0M373.8 346.2h0M382.0 338.6h0M396.9 322.6h0M394.2 335.9h0M398.0 333.3h0M388.4 346.5h0M389.3 318.2h0M397.6 336.9h0M399.7 328.4h0M396.6 336.9h0M394.6 339.6h0M394.5 331.6h0M407.9 334.8h0M393.4 340.5h0M414.6 317.5h0M405.8 324.9h0M401.4 335.7h0M383.3 342.7h0M409.9 317.3h0M376.5 319.4h0M379.3 330.8h0M396.1 338.0h0M389.6 336.4h0M397.7 322.4h0M384.8 329.2h0M405.4 341.4h0M386.9 335.1h0M380.7 339.9h0M399.2 325.8h0M372.9 329.9h0M379.3 312.3h0M400.4 337.9h0M411.3 320.4h0M387.3 342.6h0M392.0 343.2h0M393.0 320.6h0M388.3 329.3h0M398.1 340.1h0M411.7 315.4h0M383.6 334.1h0M384.2 300.2h0M392.6 329.6h0M385.2 339.2h0M392.4 322.9h0M375.8 339.7h0M402.9 341.2h0M398.8 339.4h0M391.4 303.7h0M380.8 316.8h0M402.2 324.5h0M421.0 333.5h0M403.4 345.4h0M390.0 344.4h0M409.2 323.3h0M400.4 346.2h0M368.4 299.7h0M390.3 342.6h0M384.7 315.8h0M370.3 321.7h0M393.9 335.7h0M400.9 290.3h0M369.6 320.4h0M386.2 333.8h0M395.4 331.3h0M405.6 339.6h0M402.6 340.2h0M389.1 327.6h0M402.4 332.7h0M391.7 338.6h0M388.8 341.1h0M394.8 315.2h0M341.3 317.2h0M393.1 340.9h0M388.9 342.4h0M399.8 343.1h0M396.9 316.7h0M400.4 332.9h0M384.4 339.2h0M401.4 326.6h0M383.9 344.7h0M394.9 329.2h0M390.4 342.6h0M389.9 336.6h0M389.6 330.6h0M392.9 343.8h0M391.9 335.3h0M392.1 342.4h0M400.5 339.3h0M387.4 322.7h0M388.5 336.4h0M395.0 341.8h0M410.4 325.7h0M395.4 336.2h0M381.8 336.1h0M373.5 343.6h0M392.3 316.4h0M396.1 337.1h0M394.1 326.3h0M408.7 313.5h0M384.1 324.6h0M374.8 340.4h0M409.8 343.9h0M395.4 333.5h0M403.0 343.4h0M396.1 336.4h0M389.4 346.1h0M389.2 338.8h0M397.0 335.8h0M394.8 345.6h0M399.0 328.1h0M411.6 319.3h0M355.0 336.6h0M377.2 331.6h0M427.8 334.2h0M386.2 328.9h0M393.9 342.6h0M391.9 346.8h0M389.7 328.7h0M382.4 329.3h0M400.8 322.1h0M379.1 325.4h0M384.9 332.4h0M389.1 341.1h0M355.6 307.4h0M390.8 335.3h0M387.1 316.0h0M392.0 315.2h0M402.9 342.0h0M391.4 345.4h0M382.7 335.8h0M383.6 345.8h0M381.5 308.9h0M379.1 337.5h0M393.9 342.3h0M405.7 335.0h0M386.0 337.1h0M399.4 328.8h0M386.5 330.6h0M380.0 331.6h0M381.9 344.4h0M376.8 346.4h0M397.3 341.0h0M392.1 331.1h0M387.5 282.6h0M386.3 312.2h0M393.1 342.2h0M381.1 327.8h0M397.1 324.6h0M397.1 342.5h0M394.4 317.9h0M388.2 345.2h0M391.4 330.9h0M389.1 336.5h0M388.6 310.6h0M400.0 331.5h0M392.3 318.2h0M386.8 339.7h0M383.4 335.2h0M389.0 335.3h0M390.0 332.5h0M383.7 322.9h0M403.7 329.3h0M390.0 340.3h0M395.0 326.7h0M389.3 319.2h0M390.6 343.8h0M397.5 333.6h0M400.3 326.5h0M371.2 313.8h0M396.0 302.7h0M395.3 325.4h0M378.1 335.9h0M409.2 308.1h0M392.3 331.1h0M401.1 324.2h0M394.9 281.0h0M409.0 335.4h0M395.2 327.5h0M402.7 333.9h0M395.3 327.6h0M396.1 319.4h0M400.1 313.7h0M391.8 312.9h0M417.9 331.5h0M391.4 341.4h0M390.7 332.5h0M391.2 342.5h0M402.8 328.2h0M368.8 314.1h0M341.3 315.8h0M394.2 340.1h0M359.6 318.8h0M389.1 344.4h0M389.8 320.8h0M383.2 310.9h0M386.3 334.4h0M386.4 338.2h0M395.1 312.2h0M403.0 315.7h0M388.9 337.6h0M382.4 339.2h0M389.3 328.3h0M383.9 326.7h0M395.1 338.7h0M390.8 340.1h0M382.7 328.1h0M383.4 320.6h0M382.6 321.6h0M388.9 316.9h0M376.4 335.2h0M403.0 335.1h0M377.8 342.0h0M391.5 323.4h0M374.4 341.4h0M378.2 329.6h0M372.9 343.7h0M400.4 342.0h0M391.6 343.1h0M373.8 339.2h0M404.8 339.2h0M386.9 295.9h0M397.9 333.4h0M390.9 299.2h0M392.9 345.1h0M404.5 323.6h0M361.2 318.0h0M370.4 329.7h0M395.0 302.5h0M395.2 343.0h0M406.4 337.8h0M399.8 340.5h0M387.2 342.9h0M394.0 342.1h0M391.9 344.7h0M407.8 339.4h0M388.3 328.6h0M391.9 343.0h0M382.8 333.3h0M387.4 312.1h0M391.2 311.0h0M377.8 310.4h0M395.4 313.9h0M382.4 299.6h0M394.2 343.5h0M387.9 325.7h0M405.4 331.8h0M390.3 331.4h0M374.7 310.3h0M410.6 331.2h0M386.0 307.9h0M381.9 315.4h0M389.9 341.0h0M376.2 319.1h0M401.2 328.7h0M382.3 336.6h0M385.9 325.5h0M386.3 336.0h0M393.6 342.2h0M402.8 324.4h0M398.5 328.7h0M359.6 320.7h0M385.5 341.9h0M390.5 337.0h0M387.5 341.8h0M387.8 306.6h0M348.4 323.0h0M381.1 338.3h0M402.8 334.1h0M394.1 337.2h0M390.2 338.7h0M373.2 324.7h0M379.3 326.8h0M388.4 342.0h0M391.7 344.3h0M377.1 326.4h0M390.4 331.9h0M391.5 342.7h0M388.1 321.0h0M403.8 323.4h0M354.9 329.1h0M407.2 344.4h0M380.7 304.4h0M401.9 325.2h0M406.6 342.4h0M387.3 341.4h0M394.7 314.7h0M400.3 323.2h0M371.4 337.6h0M404.4 342.3h0M396.2 340.9h0M421.1 338.3h0M403.8 340.4h0M385.4 326.8h0M389.3 342.1h0M405.8 335.9h0M392.9 328.1h0M405.0 308.7h0M385.0 339.2h0M406.0 321.5h0M379.7 334.1h0M388.7 328.3h0M400.0 344.2h0M394.3 315.0h0M394.0 325.2h0M448.2 320.7h0M381.3 329.4h0M416.7 332.7h0M426.7 335.8h0M414.4 326.6h0M381.5 339.8h0M393.5 338.9h0M394.1 330.7h0M389.8 331.4h0M391.0 323.8h0M374.5 342.5h0M382.4 335.6h0M393.9 343.4h0M386.3 336.9h0M378.6 344.6h0M395.8 336.4h0M404.7 343.0h0M384.6 329.5h0M373.2 341.7h0M407.2 336.1h0M386.0 345.2h0M400.9 344.1h0M379.4 324.2h0M380.8 335.2h0M390.2 344.5h0M401.2 340.7h0M394.7 314.6h0M374.1 297.0h0M397.1 329.0h0M308.9 309.4h0M384.5 331.0h0M408.0 334.0h0M380.7 304.3h0M408.0 334.0h0M377.7 327.2h0M378.4 336.8h0M391.3 332.1h0M379.1 328.5h0M397.3 336.7h0M391.9 337.7h0M406.7 326.6h0M380.6 329.8h0M394.7 339.0h0M398.7 327.6h0M394.4 322.4h0M412.2 325.1h0M415.6 292.4h0M402.9 337.6h0M384.6 326.0h0M384.6 322.6h0M361.2 332.1h0M392.8 343.7h0M374.1 340.8h0M324.7 319.4h0M383.3 332.9h0M394.6 339.3h0M390.7 333.0h0M397.7 339.7h0M391.7 334.9h0M387.2 310.6h0M398.7 336.1h0M380.7 343.3h0M387.9 345.2h0M396.6 327.9h0M407.0 344.3h0M410.2 336.1h0M396.4 331.9h0M411.5 332.9h0M392.3 345.3h0M398.3 344.7h0M397.6 344.4h0M394.5 342.2h0M387.4 326.2h0M375.3 336.8h0M390.8 335.5h0M398.9 335.1h0M398.1 334.5h0M365.7 332.7h0M383.5 343.1h0M404.6 341.0h0M394.6 339.3h0M376.3 339.6h0M394.0 345.3h0M398.4 339.7h0M396.4 335.9h0M427.9 334.0h0M397.6 340.9h0M394.1 332.0h0M400.0 342.6h0M385.0 325.1h0M379.8 334.7h0M375.9 285.6h0M394.7 346.2h0M397.4 340.1h0M398.0 318.3h0M391.8 327.0h0M397.8 333.6h0M400.9 342.9h0M401.6 329.5h0M386.1 337.6h0M396.5 335.0h0M399.3 329.0h0M388.4 340.1h0M395.8 333.9h0M405.2 331.8h0M386.8 334.4h0M400.3 319.2h0M395.7 318.3h0M380.3 332.2h0M396.5 343.7h0M397.0 341.8h0M401.9 316.7h0M397.7 336.4h0M377.3 339.1h0M404.7 335.8h0M422.2 313.6h0M400.0 334.3h0M403.3 339.6h0M408.4 342.0h0M396.8 336.9h0M403.0 326.4h0M387.7 317.3h0M389.2 343.8h0M395.5 339.6h0M393.9 319.5h0M407.1 332.6h0M386.8 346.2h0M398.3 336.6h0M393.2 341.1h0M390.8 341.3h0M398.2 310.4h0M394.6 340.0h0M379.0 334.2h0M390.3 338.7h0M384.9 331.8h0M391.6 344.3h0M384.8 324.0h0M383.9 338.6h0M397.3 345.2h0M427.1 331.3h0M397.3 334.3h0M394.9 344.0h0M380.3 332.7h0M392.1 338.3h0M390.8 339.4h0M401.6 335.1h0M397.8 340.7h0M376.4 334.8h0M395.5 343.5h0M402.1 339.4h0M389.2 330.1h0M385.5 332.7h0M392.1 342.2h0M384.5 335.4h0M393.4 340.5h0M406.4 343.2h0M387.0 331.6h0M386.8 337.0h0M393.9 323.5h0M408.4 339.7h0M395.8 322.6h0M386.1 337.6h0M398.9 334.8h0M383.5 327.4h0M394.3 342.7h0M395.0 317.9h0M399.1 335.8h0M396.0 335.0h0M376.6 326.6h0M394.0 324.9h0M371.7 340.4h0M371.6 318.2h0M394.6 334.9h0M398.3 342.7h0M384.1 334.9h0M382.1 342.5h0M401.3 318.3h0M390.6 345.3h0M400.4 342.0h0M392.4 332.5h0M402.0 313.6h0M385.6 340.0h0M387.0 319.5h0M404.8 320.8h0M394.9 343.3h0M403.2 297.4h0M391.4 338.4h0M370.7 324.6h0M363.5 342.5h0M383.5 337.9h0M348.9 329.1h0M379.9 338.0h0M396.7 343.3h0M391.9 340.8h0M369.4 323.4h0M392.3 338.7h0M386.9 325.6h0M388.7 335.4h0M380.4 335.8h0M359.8 295.5h0M405.7 317.7h0M408.1 329.1h0M377.2 316.3h0M383.6 344.9h0M361.9 324.1h0M387.0 334.6h0M385.2 327.4h0M398.4 343.7h0M375.7 322.8h0M381.9 315.1h0M407.4 334.7h0M385.2 316.8h0M365.7 337.7h0M394.4 339.4h0M407.3 324.5h0M395.9 338.7h0M396.2 313.2h0M401.2 338.2h0M391.3 344.1h0M377.0 335.5h0M326.0 333.2h0M394.8 344.8h0M405.6 339.7h0M387.1 290.1h0M392.8 346.8h0M381.2 330.9h0M404.8 339.1h0M392.2 330.8h0M388.7 296.3h0M400.4 319.9h0M395.3 325.7h0M386.1 311.6h0M388.0 345.8h0M420.4 325.7h0M408.0 342.3h0M402.1 319.0h0M390.9 341.4h0M359.5 313.4h0M391.6 342.7h0M385.7 318.7h0M394.4 332.7h0M399.8 335.6h0M474.0 286.4h0M402.8 315.6h0M383.2 334.1h0M403.5 336.8h0M408.3 339.4h0M383.1 332.2h0M386.3 298.2h0M381.5 337.2h0M402.3 339.6h0M374.0 337.2h0M387.8 323.6h0M381.7 329.0h0M394.0 330.8h0M402.9 335.8h0M392.3 345.0h0M399.5 343.6h0M417.1 312.7h0M404.7 341.0h0M384.9 338.2h0M446.2 307.7h0M380.8 327.6h0M362.6 329.9h0M411.4 327.9h0M389.8 345.9h0M389.2 335.5h0M393.4 333.6h0M419.1 340.5h0M433.1 332.8h0M391.7 343.6h0M391.5 337.6h0M394.6 319.0h0M370.1 325.6h0M398.4 328.4h0M388.6 343.1h0M390.0 345.6h0M384.6 344.3h0M399.3 326.7h0M393.3 345.0h0M402.8 333.9h0M402.0 335.4h0M396.3 334.3h0M400.7 336.6h0M383.8 337.8h0M402.6 337.3h0M383.3 341.4h0M406.3 339.0h0M387.2 341.2h0M429.2 276.3h0M370.1 339.1h0M380.3 333.8h0M395.1 341.4h0M392.5 342.7h0M394.0 345.8h0M384.5 341.9h0M406.1 340.2h0M393.0 338.3h0M370.9 333.9h0M382.6 333.7h0M391.0 332.0h0M409.3 322.2h0M387.5 336.3h0M401.4 323.5h0M391.9 338.2h0M396.9 332.0h0M404.4 332.0h0M387.3 336.2h0M396.2 327.6h0M368.6 298.4h0M371.2 333.1h0M393.1 343.1h0M397.2 319.1h0M376.1 325.6h0M393.0 339.8h0M396.5 344.1h0M400.2 329.1h0M383.2 333.2h0M393.9 339.3h0M377.3 301.4h0M379.4 339.2h0M375.0 282.0h0M449.4 312.7h0M355.5 316.6h0M395.6 345.4h0M391.2 345.0h0M370.6 339.5h0M383.2 323.7h0M397.3 343.0h0M385.3 287.2h0M416.4 303.8h0M397.3 324.8h0M398.2 338.2h0M385.1 340.9h0M430.3 312.7h0M383.9 340.3h0M399.2 333.6h0M368.2 331.2h0M390.7 332.5h0M402.2 319.6h0M386.1 302.4h0M411.3 324.1h0M366.3 332.2h0M347.0 322.5h0M395.6 329.3h0M400.2 332.1h0M374.4 334.8h0M388.1 341.9h0M384.9 342.6h0M390.8 331.1h0M371.1 338.2h0M396.3 315.7h0M390.6 335.9h0M394.6 344.7h0M389.0 304.5h0M384.4 321.8h0M385.7 333.0h0M388.3 344.9h0M401.2 338.8h0M364.6 342.0h0M418.5 326.9h0M397.5 337.4h0M390.4 345.7h0M403.9 338.4h0M393.0 317.7h0M418.7 334.3h0M393.2 335.7h0M390.7 341.0h0M392.6 335.4h0M398.0 330.6h0M401.3 313.9h0M378.7 333.1h0M402.0 335.8h0M388.9 320.4h0M389.0 337.1h0M390.8 337.5h0M402.8 341.6h0M374.3 326.3h0M404.9 304.1h0M390.7 319.2h0M443.1 326.6h0M382.0 327.3h0M395.1 333.0h0M392.7 346.5h0M396.3 339.1h0M394.2 334.6h0M356.1 331.0h0M406.4 326.4h0M383.8 337.6h0M374.6 339.6h0M397.2 341.2h0M391.6 332.4h0M382.9 336.6h0M414.1 314.8h0M391.0 344.9h0M388.0 343.8h0M393.8 337.3h0M394.1 318.5h0M396.3 300.0h0M385.8 330.2h0M401.6 331.3h0M384.7 288.9h0M390.7 342.6h0M401.2 312.9h0M388.2 335.3h0M383.7 315.8h0M393.5 333.2h0M398.4 321.0h0M383.8 339.7h0M397.1 327.9h0M375.8 332.3h0M389.9 317.6h0M394.4 313.9h0M408.7 325.7h0M365.3 324.1h0M390.0 318.7h0M399.0 337.6h0M407.0 332.8h0M374.6 326.2h0M386.4 329.8h0M390.4 345.5h0M375.9 335.3h0M398.6 297.3h0M386.7 344.7h0M376.1 342.4h0M398.9 334.1h0M383.6 336.5h0M393.7 321.8h0M406.2 323.3h0M403.1 332.8h0M386.2 323.4h0M383.0 346.1h0M404.2 339.3h0M385.7 341.7h0M404.2 326.4h0M383.5 318.0h0M392.6 341.9h0M393.2 336.5h0M395.4 333.0h0M387.1 325.7h0M399.2 344.5h0M404.2 340.5h0M393.9 337.8h0M391.7 341.7h0M398.2 343.0h0M408.2 338.4h0M388.8 319.5h0M381.9 329.1h0M396.2 344.3h0M386.5 336.0h0M388.6 340.4h0M406.8 341.7h0M385.1 328.2h0M385.7 306.3h0M380.7 294.7h0M393.3 338.8h0M376.1 342.5h0M401.4 334.4h0M394.3 336.6h0M385.2 334.7h0M385.3 335.6h0M399.0 335.5h0M371.9 335.8h0M408.2 336.0h0M397.3 338.0h0M392.1 322.7h0M391.2 336.7h0M393.5 343.3h0M395.9 335.8h0M378.4 328.3h0M349.5 316.3h0M387.5 330.0h0M402.3 340.2h0M397.0 329.1h0M384.0 335.3h0M374.8 307.1h0M395.3 338.3h0M387.2 323.2h0M386.6 339.1h0M395.3 337.1h0M396.2 335.9h0M355.0 313.4h0M379.5 340.7h0M386.6 337.2h0M403.3 315.8h0M393.8 334.1h0M392.9 337.8h0M409.3 305.7h0M398.5 332.6h0M396.5 339.3h0M382.3 312.7h0M383.9 315.5h0M366.7 339.4h0M312.2 316.5h0M391.0 342.0h0M388.9 311.7h0M389.7 343.7h0M332.1 266.4h0M339.7 263.8h0M371.8 258.6h0M407.2 253.4h0M441.8 253.4h0M454.5 261.2h0M347.3 284.6h0M454.5 318.4h0M316.1 328.8h0M382.8 243.5h0" stroke="#000080" stroke-width="2.55" stroke-linecap="round" fill="none"/>
<path d="M307.0 243.6H381.8V321.0H307.0Z" fill="none" stroke="#cc2222" stroke-width="2.2" stroke-dasharray="2.4 0.5"/>
<path d="M401.4 243.8H474.7V321.0H401.4Z" fill="none" stroke="#2a8c5c" stroke-width="2.2" stroke-dasharray="2.4 0.5"/>
<text x="303.8" y="349.2" font-size="6.2" text-anchor="end" fill="#333">0</text>
<text x="303.8" y="323.2" font-size="6.2" text-anchor="end" fill="#333">1</text>
<text x="303.8" y="297.2" font-size="6.2" text-anchor="end" fill="#333">2</text>
<text x="303.8" y="271.2" font-size="6.2" text-anchor="end" fill="#333">3</text>
<text x="303.8" y="245.2" font-size="6.2" text-anchor="end" fill="#333">4</text>
<text x="306.8" y="355.4" font-size="6.2" text-anchor="middle" fill="#333">-10</text>
<text x="323.7" y="355.4" font-size="6.2" text-anchor="middle" fill="#333">-8</text>
<text x="340.6" y="355.4" font-size="6.2" text-anchor="middle" fill="#333">-6</text>
<text x="357.4" y="355.4" font-size="6.2" text-anchor="middle" fill="#333">-4</text>
<text x="374.3" y="355.4" font-size="6.2" text-anchor="middle" fill="#333">-2</text>
<text x="391.2" y="355.4" font-size="6.2" text-anchor="middle" fill="#333">0</text>
<text x="408.1" y="355.4" font-size="6.2" text-anchor="middle" fill="#333">2</text>
<text x="425.0" y="355.4" font-size="6.2" text-anchor="middle" fill="#333">4</text>
<text x="441.8" y="355.4" font-size="6.2" text-anchor="middle" fill="#333">6</text>
<text x="458.7" y="355.4" font-size="6.2" text-anchor="middle" fill="#333">8</text>
<text x="475.6" y="355.4" font-size="6.2" text-anchor="middle" fill="#333">10</text>
<text x="310.2" y="253.8" font-size="10.45" font-style="italic" fill="#222">FLA2</text>
<text x="309.4" y="278.2" font-size="10.45" font-style="italic" fill="#222">119 proteins</text>
<text x="472.8" y="253.8" font-size="10.45" font-style="italic" text-anchor="end" fill="#222">FLB1</text>
<text x="473.2" y="278.2" font-size="10.45" font-style="italic" text-anchor="end" fill="#222">105 proteins</text>
<text x="350.7" y="370.6" font-size="10.85">Log2(FLB1/FLA2)</text>
<text x="0" y="0" font-size="10.8" text-anchor="middle" transform="translate(295.7,293.0) rotate(-90)">-Log10(p-value)</text>
<rect x="47.8" y="620.4" width="168.0" height="110.80000000000007" fill="#c4c4c4" stroke="none" stroke-width="1"/>
<line x1="47.8" y1="717.35" x2="215.8" y2="717.35" stroke="#b2b2b2" stroke-width="0.8"/>
<line x1="47.8" y1="703.5" x2="215.8" y2="703.5" stroke="#b2b2b2" stroke-width="0.8"/>
<line x1="47.8" y1="689.65" x2="215.8" y2="689.65" stroke="#b2b2b2" stroke-width="0.8"/>
<line x1="47.8" y1="675.8" x2="215.8" y2="675.8" stroke="#b2b2b2" stroke-width="0.8"/>
<line x1="47.8" y1="661.95" x2="215.8" y2="661.95" stroke="#b2b2b2" stroke-width="0.8"/>
<line x1="47.8" y1="648.1" x2="215.8" y2="648.1" stroke="#b2b2b2" stroke-width="0.8"/>
<line x1="47.8" y1="634.25" x2="215.8" y2="634.25" stroke="#b2b2b2" stroke-width="0.8"/>
<line x1="47.8" y1="620.4" x2="215.8" y2="620.4" stroke="#b2b2b2" stroke-width="0.8"/>
<line x1="131.5" y1="620.4" x2="131.5" y2="731.2" stroke="#b2b2b2" stroke-width="0.8"/>
<line x1="47.8" y1="731.7" x2="215.8" y2="731.7" stroke="#666" stroke-width="1.2"/>
<line x1="47.5" y1="620.4" x2="47.5" y2="732.2" stroke="#888" stroke-width="0.8"/>
<path d="M104.5 724.6h0M147.5 713.6h0M119.3 723.1h0M125.8 730.7h0M156.9 721.7h0M167.1 724.6h0M138.8 727.4h0M161.4 716.2h0M119.5 710.8h0M151.6 729.7h0M125.2 729.9h0M135.7 725.1h0M162.9 715.5h0M166.2 729.0h0M175.0 726.5h0M151.8 722.1h0M136.9 698.8h0M119.3 730.4h0M118.3 730.4h0M166.8 728.3h0M161.9 708.4h0M129.7 731.1h0M101.8 729.3h0M122.4 707.0h0M134.3 727.6h0M130.7 730.5h0M126.3 719.9h0M105.1 722.9h0M159.9 724.9h0M102.9 729.5h0M124.9 729.3h0M145.2 730.4h0M155.8 727.5h0M139.8 729.6h0M107.2 728.5h0M163.3 720.5h0M119.1 729.8h0M98.6 729.2h0M104.2 726.5h0M151.6 721.1h0M136.0 730.9h0M154.6 706.9h0M111.6 718.3h0M141.3 729.8h0M143.7 727.9h0M93.0 728.8h0M138.3 708.0h0M141.3 730.4h0M156.1 727.2h0M110.8 730.0h0M139.6 730.7h0M127.7 719.7h0M143.4 718.9h0M110.1 724.2h0M130.6 731.0h0M124.2 718.7h0M120.2 707.7h0M122.4 721.1h0M165.1 716.2h0M114.2 724.9h0M95.2 729.0h0M119.7 730.5h0M132.8 730.5h0M111.1 720.5h0M139.6 729.6h0M97.8 728.3h0M120.4 722.0h0M127.1 721.7h0M105.8 719.0h0M110.9 729.7h0M143.6 728.5h0M135.7 730.1h0M148.2 727.9h0M122.2 715.0h0M134.2 728.6h0M114.5 730.1h0M151.3 730.0h0M146.8 712.8h0M125.3 717.7h0M123.8 730.7h0M123.4 730.7h0M150.0 729.2h0M150.3 729.9h0M100.7 728.4h0M106.7 727.6h0M83.6 727.8h0M156.8 715.0h0M129.5 727.1h0M149.2 717.6h0M126.2 720.2h0M114.6 723.2h0M117.5 691.5h0M112.1 716.2h0M144.4 730.4h0M139.1 729.3h0M116.5 704.6h0M132.7 728.7h0M130.5 730.0h0M127.1 699.2h0M116.6 716.9h0M171.9 728.6h0M115.0 718.0h0M154.1 715.0h0M98.5 729.2h0M120.4 729.4h0M144.7 729.4h0M107.3 724.5h0M126.8 730.9h0M112.5 712.0h0M141.0 728.5h0M146.0 723.3h0M149.2 720.4h0M128.7 731.0h0M132.2 729.7h0M153.8 720.9h0M128.8 731.0h0M134.3 722.2h0M126.5 728.4h0M117.5 718.1h0M123.4 729.4h0M97.6 729.2h0M145.9 728.4h0M103.3 716.8h0M118.8 729.9h0M131.1 729.4h0M120.0 714.2h0M145.3 730.3h0M120.5 722.9h0M115.4 730.2h0M171.9 728.2h0M128.3 712.3h0M137.0 725.9h0M145.3 717.7h0M128.5 728.7h0M112.3 726.5h0M128.5 708.5h0M161.7 722.0h0M110.0 729.9h0M156.6 714.9h0M163.8 722.8h0M129.8 730.8h0M170.7 727.8h0M138.8 730.8h0M117.6 726.0h0M131.2 730.3h0M96.0 727.9h0M130.7 731.0h0M99.8 729.1h0M120.7 730.4h0M118.2 730.2h0M116.8 730.3h0M111.3 730.0h0M100.0 729.3h0M113.3 702.9h0M126.6 730.8h0M141.4 730.6h0M141.6 726.1h0M130.3 731.0h0M136.6 730.9h0M163.8 729.3h0M121.6 730.6h0M101.1 729.3h0M122.8 704.8h0M135.6 725.1h0M135.0 715.2h0M107.2 720.3h0M135.2 717.4h0M115.6 729.1h0M118.1 725.1h0M124.6 721.0h0M133.2 731.0h0M160.9 719.3h0M153.9 712.6h0M165.9 727.9h0M144.1 729.3h0M91.6 728.8h0M149.9 722.2h0M122.0 721.8h0M155.5 706.7h0M104.0 719.3h0M149.6 730.0h0M134.9 731.0h0M123.2 709.1h0M107.2 714.4h0M130.6 729.5h0M105.2 729.6h0M124.2 730.6h0M123.5 730.7h0M110.9 725.2h0M127.6 723.9h0M92.3 727.8h0M122.6 730.5h0M130.0 725.9h0M161.1 728.0h0M141.3 728.3h0M105.4 698.6h0M122.4 730.6h0M140.8 720.6h0M115.2 728.3h0M114.5 729.7h0M111.7 730.0h0M116.9 711.1h0M134.9 730.9h0M101.4 725.7h0M121.3 727.9h0M149.6 729.8h0M152.8 726.0h0M147.7 730.0h0M107.5 715.1h0M134.5 731.0h0M113.4 725.0h0M112.1 712.5h0M115.2 727.7h0M131.5 730.1h0M128.6 716.0h0M154.1 729.4h0M132.4 728.6h0M124.4 703.9h0M133.9 729.0h0M122.8 687.3h0M134.6 728.7h0M111.7 729.9h0M103.4 715.7h0M162.9 729.3h0M130.1 731.0h0M151.0 722.5h0M90.4 718.4h0M156.1 729.5h0M120.3 730.0h0M135.5 729.6h0M121.6 696.6h0M116.5 730.3h0M144.3 726.0h0M156.8 707.7h0M114.0 729.4h0M155.2 706.4h0M121.6 702.4h0M140.8 730.6h0M149.5 712.6h0M179.3 726.5h0M124.7 695.9h0M120.0 730.4h0M119.5 730.3h0M145.1 730.0h0M128.5 723.7h0M126.3 718.1h0M131.3 730.7h0M93.5 728.8h0M170.2 728.8h0M133.1 730.9h0M146.5 727.9h0M147.2 711.4h0M166.6 726.4h0M160.0 727.2h0M107.0 726.8h0M110.8 722.4h0M140.4 716.8h0M124.8 730.7h0M144.0 724.3h0M128.2 728.5h0M174.4 727.5h0M112.1 728.0h0M146.3 714.2h0M126.7 730.6h0M156.5 716.2h0M137.8 726.5h0M103.5 709.2h0M151.4 728.4h0M149.1 729.2h0M130.0 722.9h0M143.4 720.0h0M124.6 730.7h0M134.0 715.4h0M123.6 720.3h0M126.3 730.9h0M150.0 728.2h0M127.6 722.0h0M142.5 716.4h0M96.9 708.8h0M129.0 729.5h0M151.2 728.4h0M152.4 728.5h0M113.7 707.2h0M140.2 730.3h0M124.7 730.2h0M128.3 730.9h0M120.6 726.2h0M130.8 727.5h0M144.7 730.4h0M112.5 707.9h0M127.8 731.0h0M128.8 730.9h0M103.8 715.0h0M158.7 728.1h0M115.4 718.1h0M121.9 727.6h0M146.1 729.9h0M138.7 719.8h0M99.9 724.6h0M135.0 713.8h0M135.8 714.1h0M150.0 689.1h0M129.1 730.9h0M133.4 727.3h0M92.7 727.5h0M155.4 727.3h0M149.7 730.1h0M134.2 718.0h0M105.2 717.8h0M144.9 721.2h0M136.0 724.9h0M110.5 728.8h0M105.6 720.8h0M109.3 727.8h0M149.1 726.9h0M108.3 729.8h0M170.3 727.1h0M124.2 729.7h0M140.3 726.0h0M113.1 729.7h0M136.2 730.6h0M133.5 724.0h0M109.8 729.7h0M125.9 718.0h0M110.8 726.9h0M128.9 729.1h0M122.8 730.0h0M133.6 731.1h0M110.3 719.4h0M171.4 723.6h0M130.0 727.0h0M132.3 727.4h0M122.7 730.6h0M136.2 730.8h0M98.0 729.2h0M133.5 730.0h0M131.7 731.1h0M156.8 721.3h0M129.5 730.5h0M138.6 728.6h0M126.0 729.7h0M95.1 728.3h0M110.9 729.0h0M127.4 730.3h0M126.1 730.6h0M143.2 721.0h0M143.9 728.8h0M134.9 727.6h0M129.5 727.8h0M148.1 729.9h0M121.5 726.7h0M145.9 726.8h0M114.3 719.6h0M149.1 722.1h0M105.6 728.9h0M111.9 706.3h0M123.0 730.7h0M122.0 726.8h0M163.6 725.9h0M133.3 727.2h0M124.7 724.2h0M99.7 729.3h0M114.8 727.6h0M104.7 716.4h0M128.2 730.1h0M116.5 720.7h0M117.7 730.2h0M144.5 721.8h0M112.4 718.4h0M130.8 731.1h0M116.5 722.4h0M144.5 719.0h0M133.5 729.6h0M102.0 719.3h0M135.0 711.4h0M153.0 717.9h0M159.0 704.4h0M131.3 731.0h0M120.3 726.8h0M90.0 728.5h0M125.3 729.2h0M131.1 728.5h0M120.4 729.9h0M129.4 730.9h0M132.4 730.7h0M129.9 728.4h0M155.0 729.6h0M140.7 710.9h0M156.4 729.7h0M131.1 727.6h0M124.5 722.5h0M125.1 729.7h0M136.6 730.8h0M173.4 728.1h0M112.7 729.1h0M135.0 730.4h0M148.1 720.6h0M151.7 712.0h0M133.0 724.3h0M108.2 729.8h0M129.3 729.4h0M143.5 707.4h0M120.4 716.5h0M128.5 715.3h0M173.3 728.7h0M131.0 730.8h0M160.1 726.6h0M140.0 710.9h0M134.6 730.4h0M154.9 720.2h0M87.6 728.5h0M144.7 721.4h0M154.5 725.8h0M132.8 731.1h0M129.5 726.0h0M112.6 718.3h0M116.2 704.8h0M104.4 719.7h0M105.0 713.1h0M139.8 716.3h0M116.4 726.8h0M124.4 723.0h0M131.7 730.9h0M129.9 730.1h0M119.2 730.2h0M137.3 730.8h0M124.9 730.5h0M125.7 723.5h0M118.9 698.9h0M106.5 723.0h0M145.1 728.0h0M169.1 728.3h0M104.4 727.3h0M132.7 731.1h0M134.1 730.0h0M122.2 730.6h0M136.4 722.1h0M167.0 728.8h0M134.0 730.7h0M153.1 729.8h0M114.2 708.9h0M165.1 725.2h0M131.1 731.2h0M117.0 719.0h0M129.8 728.4h0M156.0 728.4h0M103.8 723.5h0M130.0 730.1h0M150.8 729.1h0M149.4 730.1h0M136.3 725.9h0M173.6 726.2h0M151.7 716.4h0M169.0 728.0h0M110.8 719.4h0M151.5 729.4h0M129.0 728.2h0M106.5 729.2h0M137.7 730.4h0M112.8 725.0h0M112.8 729.0h0M126.3 716.8h0M136.4 703.1h0M121.5 730.6h0M132.2 731.1h0M157.5 729.1h0M133.4 726.9h0M108.5 713.3h0M145.8 716.4h0M102.9 729.5h0M128.0 730.4h0M127.2 728.2h0M119.9 730.0h0M158.6 711.1h0M131.9 728.4h0M136.9 729.3h0M131.8 731.2h0M117.6 730.2h0M164.2 725.7h0M149.5 718.8h0M116.1 719.0h0M136.8 730.6h0M124.9 706.6h0M151.3 721.7h0M118.6 711.3h0M151.2 730.0h0M113.6 730.1h0M165.2 720.9h0M160.7 726.5h0M120.5 730.1h0M138.3 722.2h0M153.3 713.7h0M131.2 729.2h0M149.7 725.5h0M116.7 714.1h0M118.1 703.1h0M124.6 713.0h0M141.8 716.9h0M127.3 730.9h0M130.8 731.1h0M111.8 689.5h0M161.2 723.8h0M115.4 724.6h0M114.8 725.6h0M139.8 730.3h0M150.2 695.1h0M131.4 728.5h0M145.8 730.2h0M131.8 730.3h0M134.0 731.0h0M122.5 730.7h0M126.8 721.1h0M133.4 728.3h0M123.1 729.9h0M127.2 716.2h0M131.4 731.1h0M122.5 710.1h0M151.0 730.0h0M96.8 728.7h0M135.5 720.0h0M109.1 729.9h0M126.4 729.4h0M132.1 731.2h0M129.6 731.0h0M151.4 719.7h0M99.0 723.3h0M137.0 724.7h0M131.6 729.9h0M108.0 729.8h0M120.4 713.6h0M163.3 729.3h0M135.2 701.3h0M109.9 716.9h0M120.7 709.6h0M109.7 724.0h0M125.7 727.8h0M145.8 711.1h0M132.6 731.0h0M134.8 728.4h0M119.2 706.1h0M99.8 726.8h0M138.2 713.5h0M135.7 713.1h0M123.4 706.1h0M175.4 728.5h0M136.4 719.7h0M122.6 730.7h0M149.4 727.7h0M129.4 722.1h0M138.8 712.8h0M152.7 722.7h0M134.6 730.9h0M130.0 721.0h0M139.7 730.6h0M120.2 710.6h0M121.4 728.1h0M124.0 728.8h0M148.0 729.1h0M158.1 712.7h0M143.7 730.4h0M128.1 714.9h0M110.8 729.9h0M112.8 726.2h0M96.9 727.9h0M102.3 729.5h0M105.4 729.0h0M144.4 728.3h0M120.9 730.2h0M132.4 727.7h0M131.9 731.1h0M144.8 730.1h0M115.4 728.4h0M129.4 731.1h0M133.0 722.5h0M143.6 728.0h0M111.7 724.1h0M116.5 729.7h0M139.9 730.0h0M92.0 714.5h0M151.3 729.8h0M113.8 726.8h0M103.7 728.6h0M143.3 720.9h0M101.5 729.3h0M120.4 730.4h0M103.6 728.6h0M118.4 721.5h0M106.9 708.3h0M136.6 729.4h0M133.9 725.4h0M163.0 723.1h0M162.9 728.9h0M100.3 728.5h0M157.8 726.9h0M154.0 729.8h0M128.7 730.9h0M124.5 730.7h0M131.9 729.6h0M134.5 728.7h0M114.6 730.1h0M122.1 726.8h0M143.0 720.0h0M121.3 724.2h0M115.4 725.1h0M125.6 730.7h0M155.1 729.6h0M134.0 722.8h0M130.8 731.0h0M129.7 731.1h0M141.9 730.6h0M113.1 702.3h0M145.4 728.9h0M140.5 722.1h0M148.0 729.0h0M114.7 729.6h0M143.8 730.4h0M99.7 712.8h0M115.3 703.6h0M131.3 731.2h0M128.1 728.8h0M141.8 730.0h0M137.7 729.5h0M132.4 728.5h0M149.2 715.4h0M130.5 731.1h0M160.5 727.3h0M159.5 700.5h0M97.7 725.4h0M116.9 693.9h0M126.7 711.2h0M115.9 730.1h0M112.3 730.1h0M112.1 716.9h0M102.5 728.7h0M130.0 728.1h0M126.9 709.5h0M126.1 730.1h0M91.0 728.8h0M119.2 703.7h0M121.2 681.5h0M130.4 729.7h0M151.3 717.3h0M130.9 731.1h0M117.7 719.9h0M155.3 718.2h0M134.6 728.6h0M133.1 731.0h0M135.5 711.0h0M166.1 718.4h0M162.4 725.8h0M139.0 730.1h0M128.7 712.4h0M149.4 727.4h0M117.6 724.9h0M163.2 729.3h0M128.7 731.0h0M125.6 727.1h0M120.5 726.9h0M167.2 729.1h0M137.7 729.6h0M113.1 729.8h0M143.4 716.5h0M98.9 728.9h0M121.1 730.1h0M99.5 727.0h0M133.2 729.5h0M103.0 728.2h0M182.1 728.1h0M120.1 730.5h0M129.1 729.6h0M143.3 725.0h0M127.7 730.8h0M122.1 730.6h0M133.9 724.2h0M101.3 717.8h0M100.5 717.2h0M127.5 712.2h0M111.0 729.5h0M157.7 723.9h0M116.3 729.9h0M146.1 726.2h0M144.1 730.1h0M141.7 714.8h0M100.9 725.2h0M112.6 726.1h0M107.6 714.1h0M126.8 727.7h0M120.9 730.0h0M116.4 729.4h0M130.5 727.3h0M126.3 715.6h0M138.1 717.2h0M133.2 731.1h0M175.2 728.6h0M147.0 724.7h0M116.0 729.6h0M124.1 708.1h0M129.9 729.3h0M121.2 728.5h0M107.8 729.5h0M96.8 723.9h0M164.2 727.9h0M138.9 730.6h0M111.5 729.5h0M162.2 727.1h0M148.4 706.9h0M149.0 729.9h0M131.4 728.9h0M133.1 727.3h0M109.5 718.1h0M101.2 719.8h0M129.9 729.8h0M152.3 730.0h0M124.8 724.7h0M133.3 731.0h0M147.9 730.2h0M113.9 730.1h0M155.9 720.2h0M129.6 730.9h0M123.4 730.7h0M125.2 708.7h0M144.8 720.6h0M147.1 725.8h0M121.3 730.5h0M140.4 728.5h0M123.9 730.3h0M128.4 731.0h0M128.2 730.9h0M113.2 729.4h0M157.3 703.2h0M151.9 722.6h0M128.2 722.8h0M149.8 714.3h0M142.6 730.5h0M140.9 723.5h0M168.5 712.2h0M156.7 725.1h0M120.1 729.1h0M120.6 699.8h0M151.4 729.6h0M110.5 727.8h0M110.1 715.3h0M152.7 728.7h0M143.8 725.5h0M170.2 724.3h0M122.1 716.3h0M114.1 725.3h0M126.1 719.1h0M124.3 730.5h0M150.9 728.7h0M129.1 728.4h0M136.9 730.9h0M131.5 731.2h0M138.6 730.4h0M99.9 729.3h0M115.6 730.2h0M129.9 730.9h0M125.0 697.5h0M148.8 729.9h0M126.6 728.3h0M102.7 720.7h0M130.8 729.6h0M152.3 710.2h0M108.1 716.0h0M101.3 729.4h0M104.0 729.5h0M118.4 715.9h0M157.3 727.2h0M117.3 718.5h0M144.1 727.2h0M127.8 730.7h0M120.0 729.1h0M116.2 730.3h0M154.3 726.1h0M132.6 731.1h0M132.3 731.1h0M153.7 727.8h0M139.8 725.5h0M149.1 729.6h0M160.5 715.6h0M143.3 707.9h0M123.2 730.6h0M100.2 722.7h0M102.5 729.4h0M162.7 728.0h0M104.5 729.1h0M129.2 725.3h0M106.3 711.7h0M144.9 730.4h0M80.5 727.9h0M112.9 730.0h0M122.8 730.0h0M154.1 709.4h0M109.8 728.4h0M127.4 705.4h0M153.0 725.7h0M135.8 729.9h0M129.4 729.7h0M160.3 729.2h0M144.4 730.4h0M133.9 730.8h0M170.8 724.7h0M132.0 729.1h0M120.6 704.9h0M129.6 731.0h0M116.7 728.4h0M138.2 730.8h0M128.9 712.6h0M118.4 730.4h0M131.1 729.7h0M113.9 709.6h0M142.7 711.2h0M118.6 711.4h0M99.6 729.0h0M99.9 721.4h0M103.1 724.1h0M148.8 718.3h0M114.6 724.8h0M109.7 728.6h0M113.5 729.7h0M115.2 728.2h0M122.5 730.7h0M118.4 712.9h0M155.6 718.5h0M139.8 724.6h0M120.2 725.4h0M158.2 728.4h0M125.5 711.5h0M101.6 725.4h0M138.2 726.8h0M119.9 729.2h0M129.3 717.7h0M97.9 726.2h0M136.1 723.8h0M130.6 731.1h0M118.5 730.4h0M97.2 723.5h0M100.8 729.3h0M115.6 730.2h0M121.1 728.5h0M148.6 730.0h0M111.5 727.9h0M156.9 729.7h0M134.4 726.3h0M105.8 707.8h0M140.1 727.0h0M140.8 727.9h0M126.5 700.2h0M120.9 715.1h0M99.3 727.9h0M110.9 729.5h0M131.6 731.2h0M105.2 709.4h0M130.7 728.1h0M140.6 730.7h0M139.3 729.9h0M106.9 722.6h0M111.0 720.5h0M134.9 721.9h0M130.3 731.1h0M133.8 729.9h0M112.7 725.9h0M126.1 730.4h0M115.4 723.1h0M103.4 729.0h0M106.5 729.7h0M113.2 711.2h0M140.0 719.5h0M128.1 730.7h0M134.5 721.7h0M117.6 722.9h0M117.5 715.2h0M131.3 729.9h0M131.0 729.3h0M129.5 717.7h0M118.1 724.9h0M117.1 728.4h0M124.8 724.5h0M172.7 725.8h0M107.2 729.3h0M132.7 731.1h0M128.7 729.9h0M151.7 726.7h0M127.8 729.7h0M133.9 722.1h0M125.9 727.5h0M116.6 729.4h0M106.9 729.6h0M135.1 728.0h0M129.6 718.5h0M95.2 729.0h0M143.7 706.3h0M146.6 723.1h0M142.5 727.0h0M91.0 728.6h0M158.5 726.8h0M109.2 729.6h0M123.6 714.5h0M142.6 730.5h0M125.7 707.7h0M102.6 712.0h0M104.4 729.3h0M135.8 730.9h0M122.9 728.2h0M115.3 708.3h0M114.9 729.9h0M151.2 730.0h0M107.0 718.9h0M113.5 703.9h0M118.3 730.3h0M165.8 713.5h0M138.8 729.4h0M108.1 713.3h0M157.8 713.1h0M137.6 730.8h0M98.1 729.1h0M100.7 729.3h0M125.9 701.2h0M116.0 716.9h0M157.0 714.3h0M147.6 714.6h0M119.1 729.5h0M177.7 720.3h0M131.7 731.0h0M95.3 723.0h0M151.6 729.3h0M161.2 725.8h0M119.6 695.3h0M127.2 730.7h0M117.7 730.1h0M128.5 731.0h0M121.8 729.4h0M117.7 730.3h0M116.8 724.1h0M114.9 729.6h0M140.2 730.3h0M103.8 729.5h0M133.8 723.0h0M135.5 718.2h0M126.3 729.7h0M121.1 729.9h0M125.9 718.8h0M147.2 716.0h0M138.4 730.8h0M110.9 721.8h0M124.9 730.8h0M121.8 729.4h0M121.2 728.1h0M157.1 727.2h0M108.8 709.6h0M142.9 711.5h0M147.4 713.3h0M134.9 730.7h0M161.9 729.4h0M135.9 710.7h0M127.6 731.0h0M108.9 728.6h0M154.0 718.2h0M113.3 730.1h0M128.8 729.6h0M155.8 718.5h0M124.8 729.3h0M126.2 730.8h0M157.0 719.3h0M127.7 728.7h0M156.9 724.7h0M119.3 715.8h0M118.3 722.6h0M136.8 720.1h0M139.7 708.6h0M158.5 726.9h0M121.7 728.5h0M100.9 718.1h0M137.0 729.5h0M132.1 730.4h0M110.1 729.5h0M107.5 714.4h0M122.2 730.3h0M137.8 721.4h0M129.3 727.3h0M133.2 730.5h0M130.9 730.4h0M140.0 728.7h0M97.0 718.1h0M114.8 725.5h0M132.2 728.9h0M160.4 728.9h0M144.8 730.3h0M130.7 729.8h0M185.7 727.9h0M141.6 729.7h0M122.0 717.0h0M133.4 730.6h0M135.1 720.6h0M128.1 711.0h0M156.0 721.6h0M119.7 726.7h0M97.1 715.3h0M126.0 730.8h0M156.1 716.1h0M117.9 706.8h0M129.0 720.2h0M127.1 730.6h0M113.4 730.1h0M99.8 728.6h0M133.1 731.1h0M160.3 724.6h0M132.8 730.2h0M129.8 730.2h0M118.7 722.3h0M120.6 717.0h0M106.0 712.1h0M129.0 730.8h0M130.0 731.0h0M160.8 713.2h0M130.7 731.1h0M104.5 726.4h0M146.9 729.0h0M100.5 728.9h0M114.8 713.3h0M145.7 712.8h0M115.8 723.0h0M114.4 725.2h0M129.1 730.8h0M125.7 729.6h0M135.6 730.0h0M128.5 724.6h0M125.3 710.1h0M113.4 722.3h0M101.6 729.4h0M119.0 719.3h0M103.1 723.1h0M124.1 701.9h0M156.5 711.0h0M121.7 730.3h0M105.8 699.1h0M145.7 727.5h0M117.0 729.7h0M123.3 699.6h0M119.6 713.6h0M125.7 726.0h0M139.0 715.5h0M118.0 730.4h0M121.8 730.5h0M149.1 727.9h0M108.0 701.8h0M104.3 713.2h0M122.5 710.9h0M108.4 716.7h0M119.4 714.7h0M132.5 729.5h0M125.4 730.8h0M119.5 722.6h0M161.2 717.5h0M132.1 729.1h0M124.9 727.7h0M136.9 727.2h0M123.3 725.9h0M108.7 729.7h0M137.3 710.1h0M149.5 719.5h0M120.5 720.6h0M108.6 729.1h0M154.7 729.8h0M123.7 716.5h0M157.5 729.7h0M134.4 713.3h0M127.7 715.8h0M148.8 699.5h0M136.3 730.8h0M150.7 727.9h0M136.4 711.4h0M152.5 729.9h0M115.9 727.2h0M106.6 716.3h0M149.8 725.7h0M122.1 722.1h0M151.0 730.0h0M114.5 727.4h0M155.1 727.3h0M140.7 728.9h0M130.0 731.1h0M113.3 730.0h0M122.3 708.7h0M112.5 726.0h0M119.6 730.5h0M137.2 730.0h0M164.4 728.9h0M111.5 727.5h0M114.1 702.7h0M129.7 729.7h0M126.3 710.2h0M151.0 729.2h0M153.6 729.8h0M115.7 730.0h0M112.5 700.7h0M142.1 728.9h0M144.5 730.4h0M136.5 730.4h0M127.3 730.6h0M162.5 711.4h0M124.1 704.6h0M144.6 730.2h0M144.9 730.4h0M154.3 725.9h0M122.8 730.2h0M157.9 707.7h0M119.6 730.2h0M108.0 727.0h0M110.0 729.9h0M152.3 729.5h0M138.0 729.5h0M111.3 728.3h0M116.5 719.5h0M139.2 714.1h0M132.3 731.1h0M128.5 724.8h0M96.7 717.2h0M155.2 728.9h0M119.3 727.8h0M95.4 729.0h0M128.4 710.1h0M157.5 727.0h0M122.5 729.4h0M94.5 729.0h0M144.0 728.5h0M110.9 724.3h0M130.4 729.4h0M145.8 729.8h0M159.1 715.2h0M104.5 723.3h0M158.8 713.3h0M124.8 726.9h0M124.6 716.7h0M143.2 730.5h0M132.3 730.6h0M87.2 727.5h0M150.0 727.1h0M129.6 722.1h0M156.6 729.7h0M140.3 730.4h0M162.2 728.0h0M137.4 730.6h0M162.3 729.4h0M116.9 727.9h0M130.0 729.5h0M131.6 731.0h0M131.3 731.1h0M127.9 731.0h0M173.1 728.7h0M152.9 725.4h0M131.6 728.6h0M114.2 724.8h0M125.2 729.4h0M96.3 728.3h0M100.4 725.1h0M110.0 729.3h0M117.3 730.1h0M133.2 730.9h0M104.6 729.6h0M162.4 715.1h0M116.7 730.0h0M135.4 729.9h0M114.5 714.7h0M139.2 727.4h0M138.3 730.4h0M111.3 723.7h0M137.1 730.1h0M129.5 727.2h0M156.9 729.3h0M128.9 728.1h0M144.4 730.4h0M127.8 730.8h0M150.9 730.0h0M143.7 718.2h0M158.8 728.0h0M118.3 730.0h0M138.0 716.7h0M117.8 729.8h0M103.9 723.6h0M106.2 729.4h0M107.2 728.9h0M154.4 725.5h0M146.0 730.1h0M159.2 719.0h0M133.4 725.0h0M115.5 730.2h0M89.9 715.4h0M110.7 730.0h0M139.1 730.6h0M135.6 718.6h0M114.6 704.9h0M139.7 712.3h0M168.1 725.6h0M147.9 715.9h0M93.1 728.9h0M120.2 712.3h0M147.7 728.6h0M141.6 730.6h0M154.0 710.0h0M129.7 731.1h0M117.4 723.5h0M113.3 730.1h0M109.0 719.2h0M105.1 728.5h0M115.4 728.1h0M99.3 717.0h0M137.4 730.8h0M124.2 729.3h0M111.5 729.3h0M140.7 730.6h0M98.7 715.0h0M99.1 726.9h0M158.0 717.1h0M111.2 730.0h0M104.2 729.2h0M130.3 731.1h0M165.1 723.9h0M130.7 730.8h0M109.3 723.6h0M142.7 728.9h0M110.8 726.8h0M132.0 731.2h0M132.6 730.9h0M131.4 730.9h0M124.4 728.4h0M125.0 730.6h0M120.6 701.5h0M142.8 726.9h0M120.5 707.5h0M147.0 730.2h0M119.7 730.4h0M135.0 730.9h0M125.0 730.0h0M154.5 727.3h0M150.6 722.5h0M97.0 723.1h0M121.6 730.3h0M122.3 699.5h0M111.5 730.0h0M131.6 730.9h0M108.5 704.6h0M109.2 728.7h0M125.6 730.8h0M103.7 729.5h0M105.6 705.6h0M148.6 710.2h0M151.9 721.9h0M135.5 730.8h0M107.7 707.5h0M122.7 723.0h0M128.4 709.1h0M131.1 729.9h0M151.2 703.3h0M169.1 728.0h0M102.0 728.3h0M130.7 731.0h0M101.4 721.9h0M157.1 709.7h0M154.8 709.5h0M107.7 714.7h0M127.5 730.5h0M112.2 713.7h0M103.1 729.5h0M130.8 731.0h0M115.3 723.1h0M122.1 730.6h0M139.8 730.6h0M107.6 729.7h0M117.4 726.0h0M107.6 697.1h0M134.7 729.0h0M131.1 729.9h0M113.5 718.3h0M132.5 727.5h0M151.4 721.4h0M115.4 704.9h0M147.0 714.1h0M157.8 729.6h0M127.1 730.8h0M122.1 706.2h0M137.7 729.1h0M109.8 724.6h0M158.7 728.6h0M141.1 726.9h0M98.2 729.2h0M153.6 727.6h0M148.0 725.4h0M138.3 705.7h0M113.1 721.5h0M153.9 729.9h0M99.2 728.6h0M147.6 704.9h0M115.2 713.2h0M130.8 726.9h0M144.6 701.5h0M127.2 730.9h0M116.6 730.1h0M154.2 718.7h0M87.6 727.1h0M161.1 725.7h0M140.3 723.9h0M112.8 711.8h0M122.6 730.1h0M112.7 728.2h0M146.7 726.6h0M154.0 728.5h0M147.1 728.5h0M112.9 727.7h0M98.2 728.8h0M118.1 730.1h0M109.4 729.5h0M114.1 722.3h0M95.0 728.7h0M147.2 723.9h0M136.6 714.9h0M111.5 725.9h0M131.0 728.9h0M120.1 730.5h0M131.4 730.7h0M116.7 721.0h0M152.0 720.3h0M113.0 729.1h0M118.7 729.6h0M135.5 727.8h0M131.0 731.2h0M133.4 730.3h0M145.8 693.2h0M120.5 730.5h0M141.7 714.6h0M152.3 728.8h0M141.4 729.0h0M102.7 727.8h0M141.2 727.9h0M149.9 716.0h0M158.3 728.9h0M127.5 730.8h0M138.1 725.6h0M173.2 724.8h0M99.4 728.5h0M129.3 709.6h0M91.9 714.4h0M110.6 729.9h0M139.2 730.6h0M157.2 719.9h0M111.0 729.9h0M155.9 727.5h0M109.4 725.3h0M116.7 730.3h0M154.0 713.9h0M95.8 727.4h0M150.1 727.9h0M100.5 722.4h0M141.7 720.3h0M146.8 724.1h0M107.3 727.9h0M154.0 726.8h0M128.7 730.5h0M108.6 726.0h0M139.2 707.0h0M135.7 728.4h0M110.8 729.8h0M150.8 725.2h0M130.2 730.6h0M128.5 729.6h0M135.1 729.3h0M188.6 725.5h0M143.4 729.1h0M134.3 730.2h0M122.6 718.2h0M117.6 727.7h0M106.5 724.4h0M136.9 718.0h0M158.2 723.6h0M121.7 729.6h0M136.3 729.1h0M130.4 727.7h0M135.6 731.0h0M133.8 731.1h0M156.2 716.0h0M109.7 729.7h0M131.3 730.3h0M102.3 728.2h0M121.4 707.5h0M149.9 721.3h0M148.6 715.4h0M124.5 712.7h0M132.3 730.9h0M128.4 728.5h0M129.5 731.1h0M106.9 727.9h0M110.8 727.2h0M98.0 708.5h0M131.9 730.9h0M106.0 720.1h0M112.1 718.6h0M127.3 713.1h0M129.9 729.4h0M143.2 729.4h0M131.2 731.2h0M159.8 724.4h0M135.8 730.9h0M118.6 728.4h0M124.0 728.9h0M142.5 725.1h0M118.5 729.5h0M140.4 730.7h0M145.4 703.3h0M154.9 729.8h0M124.6 729.5h0M136.8 728.2h0M131.1 728.8h0M107.9 710.0h0M105.4 715.8h0M136.3 711.3h0M157.5 711.3h0M108.6 707.7h0M110.4 721.9h0M134.2 731.0h0M132.8 730.0h0M143.3 730.2h0M126.5 729.9h0M97.8 725.8h0M134.1 729.5h0M158.3 700.2h0M135.4 731.0h0M138.8 728.9h0M113.6 728.7h0M124.1 725.7h0M112.3 730.1h0M143.2 728.1h0M97.4 729.0h0M126.0 702.0h0M111.9 728.0h0M117.6 730.4h0M136.5 730.7h0M106.1 725.2h0M128.7 706.4h0M135.1 727.0h0M114.5 725.4h0M144.2 730.4h0M130.4 730.8h0M99.7 728.7h0M110.2 722.2h0M143.7 725.6h0M110.6 715.0h0M128.5 730.5h0M147.6 726.0h0M118.4 702.2h0M104.9 729.6h0M110.8 727.9h0M129.8 728.0h0M134.3 719.4h0M110.7 723.0h0M150.3 729.7h0M150.1 729.8h0M122.7 715.6h0M125.0 730.8h0M162.8 724.4h0M141.6 715.6h0M146.8 730.2h0M105.9 714.9h0M131.7 731.1h0M104.4 725.6h0M104.8 728.4h0M141.3 724.4h0M111.1 725.6h0M122.0 716.3h0M148.4 717.8h0M123.6 730.6h0M125.6 723.9h0M130.8 729.1h0M132.3 731.1h0M146.3 730.2h0M118.3 709.5h0M89.0 728.1h0M142.8 714.0h0M136.2 730.9h0M130.2 730.7h0M117.3 706.8h0M125.6 723.3h0M134.1 716.0h0M129.9 731.1h0M149.6 729.6h0M137.8 708.9h0M95.8 729.1h0M125.0 692.0h0M147.9 728.3h0M135.1 730.9h0M120.9 730.0h0M95.8 726.4h0M119.7 729.0h0M135.3 730.8h0M126.1 717.3h0M133.4 729.0h0M121.2 710.7h0M156.8 703.9h0M146.9 703.9h0M126.4 728.5h0M131.3 730.0h0M159.4 702.6h0M136.6 730.6h0M130.5 730.8h0M136.7 724.2h0M109.7 729.9h0M165.0 725.3h0M106.7 729.2h0M145.9 721.9h0M131.0 731.2h0M99.0 727.8h0M134.7 730.9h0M155.9 725.8h0M110.8 703.5h0M145.4 730.3h0M96.5 711.3h0M112.8 727.8h0M135.2 730.5h0M153.1 729.7h0M129.5 726.9h0M124.8 727.3h0M124.4 730.8h0M120.5 728.9h0M148.7 726.7h0M136.3 730.6h0M127.7 730.5h0M127.5 730.2h0M101.9 706.8h0M120.3 710.5h0M122.4 708.2h0M126.4 729.6h0M104.9 706.4h0M154.1 724.8h0M158.8 718.8h0M118.4 727.8h0M128.0 728.0h0M149.7 727.7h0M110.6 729.7h0M117.7 719.1h0M119.4 711.4h0M119.1 726.7h0M144.3 719.6h0M107.9 708.8h0M145.7 730.3h0M134.8 730.8h0M137.0 726.0h0M149.7 727.0h0M157.0 729.7h0M119.6 705.7h0M152.0 728.3h0M115.3 705.3h0M93.4 726.5h0M142.4 729.8h0M160.9 729.3h0M152.7 728.5h0M142.7 723.5h0M113.2 730.1h0M175.7 726.1h0M142.6 729.7h0M130.3 731.0h0M147.6 730.2h0M133.4 729.7h0M133.4 731.1h0M119.3 728.8h0M160.6 728.5h0M138.0 721.2h0M90.9 721.5h0M148.6 727.0h0M111.8 713.1h0M126.6 724.8h0M101.3 707.1h0M144.4 729.4h0M131.5 731.1h0M139.8 730.1h0M138.2 730.8h0M148.8 714.4h0M138.7 707.3h0M155.1 727.7h0M122.1 727.8h0M140.6 730.2h0M127.1 720.6h0M137.3 726.5h0M137.5 728.7h0M143.0 713.5h0M139.9 722.3h0M152.0 708.9h0M116.8 710.3h0M148.7 724.4h0M118.4 729.4h0M151.9 709.1h0M102.6 729.4h0M103.9 728.1h0M103.0 722.8h0M135.3 724.3h0M142.4 730.5h0M127.0 719.1h0M133.4 730.9h0M134.2 731.0h0M103.0 712.4h0M94.9 723.2h0M160.4 719.3h0M150.4 714.6h0M142.6 724.7h0M159.7 727.4h0M123.0 730.7h0M112.6 693.7h0M113.7 730.1h0M113.9 728.2h0M163.3 727.5h0M139.0 729.7h0M129.1 727.1h0M134.4 729.6h0M164.4 723.1h0M129.8 725.5h0M124.2 726.3h0M140.3 698.3h0M115.0 726.2h0M119.4 715.4h0M116.9 714.3h0M153.9 729.0h0M143.9 724.1h0M126.5 730.4h0M147.6 726.4h0M121.2 718.4h0M156.3 729.4h0M131.1 730.7h0M143.2 711.5h0M153.3 729.5h0M136.9 730.8h0M137.9 727.8h0M89.8 721.6h0M114.6 730.2h0M107.0 719.2h0M130.9 729.5h0M100.2 717.8h0M161.9 729.3h0M127.6 727.9h0M132.8 726.4h0M107.8 729.8h0M80.4 727.1h0M124.8 702.9h0M124.5 730.8h0M130.3 727.3h0M157.4 727.5h0M98.7 725.3h0M131.7 731.2h0M169.8 715.6h0M174.1 723.5h0M138.7 730.7h0M157.9 727.5h0M107.1 729.6h0M147.9 705.0h0M131.9 730.7h0M156.7 725.6h0M150.5 729.0h0M134.6 722.1h0M109.5 723.7h0M135.8 730.9h0M114.1 728.5h0M132.4 731.1h0M130.6 727.9h0M109.2 710.6h0M123.8 730.5h0M107.3 729.5h0M117.5 716.7h0M95.1 727.3h0M115.6 729.5h0M140.3 730.7h0M159.9 726.0h0M112.6 730.1h0M120.5 706.8h0M116.0 697.5h0M116.0 729.0h0M133.8 731.1h0M105.8 727.7h0M141.5 730.6h0M115.7 720.5h0M117.4 730.3h0M116.2 724.3h0M114.1 725.7h0M102.6 721.0h0M121.7 728.6h0M119.8 730.5h0M158.7 723.9h0M146.2 718.3h0M160.7 720.9h0M97.8 715.0h0M114.2 729.9h0M109.2 713.3h0M107.7 729.2h0M97.0 725.8h0M147.8 709.7h0M102.9 727.0h0M117.7 718.1h0M105.0 729.6h0M138.3 710.3h0M106.9 729.7h0M126.6 697.4h0M119.3 723.0h0M98.5 729.2h0M98.5 720.5h0M176.4 723.3h0M130.9 729.5h0M194.7 726.2h0M141.1 726.7h0M112.0 727.7h0M138.3 717.5h0M163.1 729.3h0M131.9 730.9h0M168.0 728.8h0M127.6 731.0h0M172.6 726.5h0M151.4 715.1h0M119.2 704.8h0M110.5 695.7h0M151.7 728.7h0M126.8 729.1h0M112.7 702.8h0M152.3 724.1h0M144.3 718.7h0M128.3 730.9h0M140.9 721.7h0M115.7 730.3h0M117.0 727.1h0M127.9 728.4h0M145.6 713.7h0M154.4 716.2h0M109.9 703.4h0M159.4 706.5h0M128.2 723.2h0M120.3 727.9h0M122.4 727.1h0M133.8 719.1h0M135.7 730.6h0M130.4 728.2h0M115.3 730.0h0M107.9 727.6h0M121.3 725.1h0M116.5 712.6h0M126.8 712.3h0M161.7 714.3h0M148.1 713.8h0M129.2 729.2h0M98.8 722.6h0M169.1 715.5h0M112.0 728.4h0M110.6 725.0h0M139.4 698.5h0M152.8 729.9h0M112.0 729.9h0M145.0 730.4h0M114.0 730.2h0M169.9 728.7h0M130.5 730.8h0M110.6 728.5h0M151.2 722.6h0M132.9 729.4h0M105.9 728.8h0M154.9 721.9h0M114.4 728.8h0M137.4 730.8h0M136.7 715.2h0M138.7 721.6h0M117.9 726.7h0M123.4 716.5h0M106.8 728.4h0M144.2 727.9h0M119.5 703.8h0M107.1 721.0h0M131.1 731.2h0M148.4 730.2h0M148.8 711.7h0M120.3 707.7h0M93.0 716.8h0M93.8 721.9h0M132.5 728.8h0M135.5 730.7h0M167.0 725.0h0M92.1 728.7h0M107.7 729.5h0M122.1 730.4h0M116.1 730.3h0M127.3 718.4h0M145.6 712.0h0M119.9 700.2h0M123.0 729.9h0M150.8 729.9h0M158.1 723.5h0M130.3 731.1h0M113.9 729.5h0M106.3 717.2h0M153.5 723.7h0M138.4 711.0h0M133.4 726.1h0M113.6 722.2h0M137.5 729.7h0M163.4 717.1h0M126.8 715.1h0M153.2 722.5h0M125.9 717.4h0M106.3 702.1h0M144.1 705.2h0M129.4 731.0h0M107.2 711.9h0M125.4 717.4h0M147.1 720.3h0M106.0 715.3h0M101.7 729.4h0M120.6 724.5h0M106.9 722.8h0M117.0 712.6h0M145.4 730.3h0M136.0 723.5h0M121.4 714.4h0M117.9 707.8h0M126.4 726.8h0M122.4 712.4h0M141.5 725.2h0M119.2 730.4h0M161.4 728.8h0M117.8 728.1h0M112.1 729.9h0M174.2 719.3h0M134.9 730.0h0M111.0 709.7h0M110.9 705.9h0M135.4 730.3h0M105.9 727.3h0M146.2 730.3h0M154.2 729.4h0M104.0 708.0h0M110.3 729.8h0M139.9 730.5h0M148.7 729.8h0M144.6 730.3h0M108.6 725.1h0M130.2 731.1h0M132.8 725.2h0M114.1 729.8h0M125.7 728.1h0M112.2 728.7h0M136.7 730.8h0M139.6 693.4h0M100.1 718.7h0M111.6 730.0h0M158.4 728.2h0M165.0 719.2h0M165.5 709.8h0M149.6 695.4h0M110.9 710.0h0M112.0 730.0h0M148.2 712.3h0M133.4 731.1h0M145.9 729.8h0M127.1 725.9h0M105.6 729.7h0M119.8 726.8h0M119.4 730.5h0M138.9 724.5h0M117.0 692.9h0M114.1 730.2h0M155.3 726.9h0M126.8 719.5h0M159.2 711.8h0M164.8 724.3h0M123.7 703.2h0M102.8 724.3h0M142.1 729.7h0M132.3 730.8h0M127.0 715.8h0M119.0 724.7h0M96.4 716.9h0M102.4 729.2h0M127.9 703.4h0M122.2 730.6h0M135.2 729.1h0M132.6 730.6h0M161.8 709.6h0M151.0 714.2h0M106.3 711.9h0M144.6 726.0h0M103.3 729.2h0M105.2 717.7h0M158.7 729.6h0M135.9 726.1h0M139.5 729.6h0M116.2 726.1h0M129.8 730.6h0M125.6 730.8h0M140.6 726.8h0M144.3 720.6h0M154.4 728.1h0M126.9 716.4h0M170.3 728.6h0M124.2 730.8h0M106.7 727.8h0M111.6 730.0h0M128.8 725.5h0M135.2 730.9h0M160.0 729.5h0M170.3 714.8h0M110.8 729.5h0M109.4 726.4h0M108.0 718.7h0M128.6 711.3h0M135.0 713.0h0M148.4 724.9h0M166.0 728.5h0M111.0 729.1h0M132.3 731.2h0M125.9 730.7h0M126.0 730.6h0M121.8 726.8h0M110.8 721.3h0M100.3 729.2h0M137.8 729.4h0M136.1 730.9h0M120.5 730.4h0M138.5 725.0h0M145.6 725.7h0M97.7 714.5h0M147.9 726.3h0M122.4 706.7h0M129.5 728.6h0M110.3 723.7h0M112.9 729.6h0M151.6 730.0h0M143.0 717.0h0M123.4 724.2h0M121.7 706.3h0M97.6 719.2h0M152.9 715.4h0M127.4 727.5h0M127.6 724.0h0M115.4 722.0h0M161.3 726.8h0M132.4 729.1h0M131.3 730.1h0M122.6 714.4h0M127.7 729.8h0M104.5 707.9h0M135.7 717.2h0M167.1 719.2h0M103.5 729.3h0M129.8 731.1h0M132.5 728.0h0M103.9 728.6h0M153.0 719.6h0M135.7 729.9h0M167.7 723.5h0M136.4 714.4h0M157.5 726.7h0M90.7 719.4h0M120.8 728.5h0M128.3 717.2h0M127.3 711.4h0M133.3 730.9h0M116.1 729.2h0M132.9 728.6h0M128.5 726.0h0M131.5 728.1h0M112.0 727.0h0M108.0 705.6h0M126.8 709.7h0M106.7 694.5h0M129.8 724.4h0M124.3 715.3h0M141.3 704.1h0M108.8 729.8h0M88.6 726.5h0M136.7 712.6h0M94.4 728.7h0M106.1 720.5h0M110.8 719.2h0M130.3 726.0h0M122.2 727.7h0M125.4 730.8h0M110.4 722.4h0M113.9 730.1h0M178.1 721.7h0M122.0 721.9h0M148.1 730.1h0M156.1 714.0h0M87.0 722.2h0M143.9 724.7h0M152.9 725.5h0M136.2 730.9h0M113.2 714.1h0M117.0 730.2h0M160.7 729.5h0M150.4 723.4h0M127.6 730.9h0M112.6 730.0h0M130.9 731.1h0M167.7 728.9h0M114.3 727.3h0M104.5 726.8h0M137.6 729.5h0M118.8 727.7h0M129.5 721.2h0M167.2 717.0h0M150.8 726.7h0M100.5 723.7h0M157.2 716.7h0M131.1 731.2h0M147.1 729.6h0M115.6 706.7h0M134.0 730.3h0M152.2 723.2h0M115.9 714.7h0M141.6 719.5h0M140.4 729.4h0M131.0 728.6h0M142.2 724.8h0M115.3 728.1h0M135.6 730.3h0M138.4 727.6h0M120.4 726.7h0M135.4 726.2h0M116.6 729.1h0M133.7 726.0h0M129.9 724.6h0M160.1 729.2h0M104.1 728.7h0M126.5 730.9h0M110.5 707.1h0M156.8 715.4h0M137.0 730.8h0M156.3 729.6h0M131.6 728.9h0M98.9 704.8h0M164.7 722.9h0M131.6 731.2h0M117.6 692.3h0M145.9 730.3h0M114.2 728.8h0M114.7 723.2h0M105.0 729.3h0M133.6 727.4h0M97.4 717.9h0M146.3 688.8h0M112.2 728.8h0M137.0 730.6h0M111.5 729.7h0M122.1 729.3h0M148.6 728.4h0M136.9 730.7h0M118.1 723.3h0M136.1 727.8h0M130.6 728.3h0M149.3 709.1h0M103.2 728.4h0M133.5 719.0h0M162.7 727.7h0M115.6 729.4h0M135.1 728.8h0M123.6 730.4h0M119.1 712.3h0M99.5 716.2h0M93.5 728.9h0M125.8 730.9h0M107.1 704.3h0M125.4 699.0h0M125.4 730.3h0M120.2 728.4h0M102.1 723.8h0M140.7 730.6h0M163.1 726.3h0M134.9 731.0h0M128.0 726.9h0M139.1 723.4h0M147.0 730.0h0M129.4 731.1h0M114.4 727.6h0M142.6 730.5h0M132.1 729.8h0M119.0 729.0h0M169.2 717.6h0M99.2 729.2h0M137.4 727.4h0M138.2 720.5h0M164.4 729.2h0M136.9 719.5h0M160.0 726.6h0M147.0 730.3h0M152.5 729.9h0M178.2 728.0h0M97.8 725.0h0M105.3 729.1h0M112.5 723.7h0M155.5 724.2h0M106.7 728.2h0M140.4 723.7h0M112.0 717.3h0M126.3 713.3h0M127.6 727.0h0M147.1 726.4h0M161.9 729.3h0M128.7 723.2h0M108.5 729.8h0M97.7 722.7h0M102.8 726.8h0M86.6 726.9h0M138.5 715.5h0M126.2 715.2h0M135.3 730.6h0M164.5 726.5h0M114.7 710.8h0M113.7 726.1h0M116.6 730.2h0M145.1 729.5h0M165.3 723.3h0M115.2 729.7h0M150.0 690.3h0M164.3 707.0h0M141.7 727.4h0M99.0 729.0h0M127.5 710.9h0M104.3 719.1h0M133.5 730.9h0M156.9 726.4h0M107.6 729.8h0M99.8 721.3h0M154.9 729.7h0M121.0 727.3h0M100.9 729.3h0M107.1 727.6h0M167.5 727.3h0M125.9 725.5h0M126.8 717.9h0M129.8 725.5h0M100.1 728.3h0M136.5 714.0h0M92.5 723.7h0M147.0 723.2h0M124.6 705.5h0M133.6 731.1h0M114.2 730.2h0M139.5 729.2h0M88.5 723.5h0M109.3 718.9h0M133.0 731.0h0M133.6 730.8h0M114.7 729.9h0M119.6 716.3h0M119.3 729.3h0M92.9 728.8h0M116.1 719.4h0M111.8 729.1h0M115.4 729.9h0M128.2 730.7h0M131.1 730.9h0M97.8 721.2h0M152.4 709.4h0M129.6 728.5h0M120.4 730.2h0M111.6 696.4h0M110.2 722.4h0M104.9 718.9h0M145.3 730.1h0M162.2 710.9h0M162.9 728.2h0M127.1 730.9h0M95.7 729.1h0M150.2 730.0h0M146.5 730.1h0M131.8 730.8h0M132.4 731.1h0M162.5 721.9h0M126.2 719.2h0M145.1 710.2h0M106.5 729.7h0M139.5 714.2h0M144.4 721.8h0M156.0 727.6h0M131.5 730.7h0M115.9 730.2h0M132.5 730.1h0M117.2 725.3h0M108.4 729.8h0M144.6 725.5h0M112.9 698.4h0M109.4 710.5h0M114.4 708.1h0M103.2 728.8h0M153.0 713.2h0M151.9 730.0h0M133.9 730.8h0M150.5 713.0h0M148.3 725.5h0M150.2 697.3h0M127.1 730.0h0M137.5 730.2h0M152.3 704.9h0M86.7 728.4h0M103.8 721.3h0M124.8 720.7h0M121.6 730.3h0M128.4 728.6h0M121.1 730.1h0M128.6 731.0h0M130.3 731.1h0M101.2 726.7h0M128.2 729.5h0M122.8 730.6h0M107.0 723.0h0M124.2 730.7h0M154.2 727.2h0M120.4 729.1h0M126.0 730.7h0M173.3 728.6h0M128.9 731.0h0M124.3 730.2h0M168.3 728.6h0M134.7 725.8h0M137.9 728.9h0M152.0 721.2h0M133.8 731.0h0M143.8 730.4h0M149.1 729.7h0M111.1 729.9h0M148.8 727.1h0M129.9 731.1h0M141.8 718.8h0M130.8 731.2h0M155.6 728.8h0M135.6 713.2h0M123.0 726.5h0M147.7 728.0h0M118.3 730.4h0M128.2 730.8h0M122.3 730.5h0M117.0 723.6h0M135.4 704.4h0M143.0 717.0h0M143.0 718.8h0M134.7 707.2h0M104.8 716.4h0M134.7 724.1h0M134.0 726.7h0M137.1 722.7h0M112.7 726.9h0M115.0 730.2h0M160.7 728.6h0M144.7 730.1h0M132.6 730.8h0M120.8 723.6h0M147.8 724.1h0M132.4 728.0h0M133.6 731.0h0M85.7 723.2h0M133.4 729.0h0M164.1 723.8h0M163.8 725.2h0M140.1 702.6h0M144.8 730.4h0M121.7 728.4h0M114.6 726.1h0M135.9 705.3h0M105.3 719.7h0M152.5 717.9h0M108.0 729.2h0M126.5 730.9h0M131.5 730.9h0M117.2 697.4h0M147.0 718.8h0M123.0 730.2h0M127.0 710.1h0M158.6 728.1h0M110.2 727.2h0M135.4 705.6h0M144.1 721.3h0M132.8 730.6h0M97.8 717.8h0M130.7 729.8h0M152.4 708.7h0M134.8 727.1h0M128.5 712.9h0M137.9 715.9h0M118.3 730.1h0M130.2 725.3h0M101.3 727.8h0M159.1 729.4h0M158.5 724.1h0M157.9 694.3h0M105.1 711.4h0M132.6 731.1h0M135.2 708.7h0M135.7 726.7h0M148.1 730.2h0M96.3 729.0h0M130.3 728.5h0M108.9 711.3h0M124.5 728.3h0M134.8 728.6h0M111.8 702.9h0M154.3 720.1h0M155.7 703.1h0M141.1 730.1h0M153.1 729.9h0M129.7 730.9h0M127.6 727.2h0M95.7 727.3h0M119.4 727.2h0M134.8 714.6h0M142.6 730.2h0M156.9 728.3h0M145.8 727.7h0M127.4 730.3h0M121.8 723.5h0M135.7 711.0h0M125.0 729.4h0M131.9 731.0h0M123.9 729.8h0M116.2 721.4h0M105.2 729.5h0M137.9 721.6h0M130.5 731.1h0M159.0 728.6h0M121.1 728.1h0M112.5 724.8h0M117.4 725.6h0M146.1 730.0h0M133.5 731.1h0M126.2 730.9h0M143.3 729.5h0M105.9 729.6h0M134.9 720.1h0M108.9 724.9h0M118.8 728.2h0M146.4 730.3h0M108.8 717.4h0M152.2 717.9h0M180.5 726.0h0M131.8 730.0h0M137.5 710.6h0M100.6 718.7h0M156.2 729.7h0M133.3 730.7h0M109.3 727.9h0M145.4 701.8h0M106.5 729.1h0M173.5 716.5h0M116.8 681.3h0M124.2 723.5h0M131.1 729.8h0M160.8 729.5h0M115.9 730.2h0M126.6 730.3h0M125.8 730.4h0M169.3 714.8h0M109.8 712.6h0M150.4 728.7h0M103.9 711.1h0M122.6 728.3h0M113.4 703.4h0M124.4 721.1h0M159.5 724.9h0M126.6 729.9h0M168.8 728.8h0M139.6 729.0h0M136.8 728.5h0M117.7 729.8h0M158.6 725.6h0M90.0 728.7h0M162.1 728.8h0M174.5 724.8h0M106.3 724.2h0M133.6 731.0h0M121.3 725.3h0M149.8 725.4h0M137.7 730.4h0M93.7 720.1h0M127.9 730.3h0M145.1 693.5h0M129.0 730.8h0M107.7 720.1h0M133.3 730.9h0M151.3 726.1h0M126.0 703.9h0M114.0 723.4h0M141.3 728.7h0M143.7 729.7h0M126.4 730.3h0M133.1 731.0h0M134.8 718.9h0M118.9 714.4h0M166.9 728.9h0M137.1 713.3h0M154.9 725.0h0M155.3 728.8h0M114.9 721.8h0M144.4 730.4h0M126.5 703.6h0M155.2 729.8h0M134.3 704.3h0M149.0 730.2h0M114.5 730.2h0M129.9 722.3h0M156.3 723.3h0M126.4 716.1h0M101.0 685.3h0M112.7 707.4h0M148.8 704.0h0M125.2 713.2h0M169.9 690.8h0M126.4 695.7h0M114.8 697.8h0M106.1 714.6h0M96.6 701.3h0M112.3 683.8h0M139.6 712.0h0M108.9 697.5h0M158.3 714.4h0M114.0 684.0h0M125.0 716.6h0M122.2 698.4h0M134.5 679.2h0M73.9 684.5h0M156.8 682.6h0M110.0 693.3h0M121.3 704.6h0M132.3 677.8h0M137.5 694.6h0M98.8 686.5h0M127.0 710.0h0M168.9 699.5h0M167.3 684.4h0M138.0 697.4h0M104.5 706.8h0M104.1 717.3h0M115.1 706.9h0M165.0 709.3h0M139.0 683.6h0M112.9 676.1h0M152.0 705.8h0M149.4 631.5h0M144.3 644.6h0M99.4 655.0h0M102.2 663.3h0M120.8 667.5h0M152.4 663.3h0M144.1 670.3h0M109.2 684.1h0M165.0 675.8h0M173.3 678.6h0M177.5 684.1h0M183.1 702.1h0M49.2 695.2h0M85.5 699.3h0M67.3 714.6h0M78.5 714.6h0" stroke="#000080" stroke-width="2.55" stroke-linecap="round" fill="none"/>
<path d="M48.0 621.0H118.6V717.4H48.0Z" fill="none" stroke="#cc2222" stroke-width="2.2" stroke-dasharray="2.4 0.5"/>
<path d="M145.4 621.2H214.9V717.4H145.4Z" fill="none" stroke="#2a8c5c" stroke-width="2.2" stroke-dasharray="2.4 0.5"/>
<text x="45.6" y="733.4" font-size="6.2" text-anchor="end" fill="#333">0</text>
<text x="45.6" y="719.6" font-size="6.2" text-anchor="end" fill="#333">1</text>
<text x="45.6" y="705.7" font-size="6.2" text-anchor="end" fill="#333">2</text>
<text x="45.6" y="691.9" font-size="6.2" text-anchor="end" fill="#333">3</text>
<text x="45.6" y="678.0" font-size="6.2" text-anchor="end" fill="#333">4</text>
<text x="45.6" y="664.2" font-size="6.2" text-anchor="end" fill="#333">5</text>
<text x="45.6" y="650.3" font-size="6.2" text-anchor="end" fill="#333">6</text>
<text x="45.6" y="636.5" font-size="6.2" text-anchor="end" fill="#333">7</text>
<text x="45.6" y="622.6" font-size="6.2" text-anchor="end" fill="#333">8</text>
<text x="47.8" y="737.7" font-size="6.2" text-anchor="middle" fill="#333">-6</text>
<text x="75.7" y="737.7" font-size="6.2" text-anchor="middle" fill="#333">-4</text>
<text x="103.6" y="737.7" font-size="6.2" text-anchor="middle" fill="#333">-2</text>
<text x="131.5" y="737.7" font-size="6.2" text-anchor="middle" fill="#333">0</text>
<text x="159.4" y="737.7" font-size="6.2" text-anchor="middle" fill="#333">2</text>
<text x="187.3" y="737.7" font-size="6.2" text-anchor="middle" fill="#333">4</text>
<text x="215.2" y="737.7" font-size="6.2" text-anchor="middle" fill="#333">6</text>
<text x="50.8" y="630.6" font-size="10.55" font-style="italic" fill="#222">FLA2</text>
<text x="50.0" y="647.9" font-size="10.55" font-style="italic" fill="#222">150 peptides</text>
<text x="212.4" y="630.6" font-size="10.55" font-style="italic" text-anchor="end" fill="#222">FLB1</text>
<text x="213.6" y="647.9" font-size="10.55" font-style="italic" text-anchor="end" fill="#222">112 peptides</text>
<text x="89.8" y="749.7" font-size="10.85">Log2(FLB1/FLA2)</text>
<text x="0" y="0" font-size="11.2" text-anchor="middle" transform="translate(36.6,670.4) rotate(-90)">-Log10(p-value)</text>
<rect x="311.4" y="617.5" width="168.60000000000002" height="114.5" fill="#c4c4c4" stroke="none" stroke-width="1"/>
<line x1="311.4" y1="719.2777777777778" x2="480.0" y2="719.2777777777778" stroke="#b2b2b2" stroke-width="0.8"/>
<line x1="311.4" y1="706.5555555555555" x2="480.0" y2="706.5555555555555" stroke="#b2b2b2" stroke-width="0.8"/>
<line x1="311.4" y1="693.8333333333334" x2="480.0" y2="693.8333333333334" stroke="#b2b2b2" stroke-width="0.8"/>
<line x1="311.4" y1="681.1111111111111" x2="480.0" y2="681.1111111111111" stroke="#b2b2b2" stroke-width="0.8"/>
<line x1="311.4" y1="668.3888888888889" x2="480.0" y2="668.3888888888889" stroke="#b2b2b2" stroke-width="0.8"/>
<line x1="311.4" y1="655.6666666666666" x2="480.0" y2="655.6666666666666" stroke="#b2b2b2" stroke-width="0.8"/>
<line x1="311.4" y1="642.9444444444445" x2="480.0" y2="642.9444444444445" stroke="#b2b2b2" stroke-width="0.8"/>
<line x1="311.4" y1="630.2222222222222" x2="480.0" y2="630.2222222222222" stroke="#b2b2b2" stroke-width="0.8"/>
<line x1="311.4" y1="617.5" x2="480.0" y2="617.5" stroke="#b2b2b2" stroke-width="0.8"/>
<line x1="395.7" y1="617.5" x2="395.7" y2="732.0" stroke="#b2b2b2" stroke-width="0.8"/>
<line x1="311.4" y1="732.5" x2="480.0" y2="732.5" stroke="#666" stroke-width="1.2"/>
<line x1="311.09999999999997" y1="617.5" x2="311.09999999999997" y2="733.0" stroke="#888" stroke-width="0.8"/>
<path d="M385.6 728.5h0M374.2 700.3h0M365.2 719.8h0M368.5 702.1h0M398.9 730.6h0M369.3 714.1h0M401.6 714.8h0M403.8 716.9h0M402.0 723.0h0M425.7 707.9h0M411.1 720.7h0M380.9 705.7h0M410.0 727.7h0M376.8 697.2h0M387.0 715.6h0M418.5 727.1h0M363.8 726.3h0M403.6 726.9h0M375.9 729.4h0M351.6 721.8h0M378.4 699.9h0M373.5 714.1h0M375.5 728.4h0M386.2 730.8h0M367.1 714.2h0M391.8 722.4h0M381.5 728.1h0M410.9 721.5h0M383.1 718.4h0M383.9 714.3h0M376.9 721.3h0M391.0 724.0h0M369.7 725.6h0M399.2 729.6h0M429.1 724.4h0M373.7 717.2h0M401.1 727.8h0M362.2 725.1h0M394.1 730.0h0M406.6 724.3h0M391.5 712.0h0M430.0 727.3h0M391.9 729.8h0M394.0 728.7h0M397.9 731.7h0M402.6 707.0h0M385.8 728.4h0M398.8 710.4h0M414.6 729.6h0M425.2 720.6h0M373.0 711.2h0M395.6 728.1h0M384.2 710.2h0M428.4 727.6h0M380.8 711.1h0M395.3 727.6h0M371.2 702.9h0M380.4 708.8h0M366.5 721.7h0M419.0 713.9h0M413.4 715.9h0M400.6 728.1h0M401.4 713.5h0M398.3 728.2h0M382.9 723.1h0M396.0 730.5h0M390.0 713.2h0M386.5 728.3h0M375.8 721.7h0M417.7 707.3h0M381.8 724.6h0M390.8 707.2h0M400.1 730.7h0M413.7 714.5h0M381.6 729.3h0M396.8 729.9h0M379.5 725.2h0M396.6 731.2h0M418.1 703.6h0M373.8 709.6h0M367.6 715.8h0M402.0 712.0h0M411.3 705.5h0M421.8 726.2h0M369.8 724.2h0M399.9 730.2h0M414.1 728.1h0M428.2 727.0h0M403.1 730.1h0M363.8 706.3h0M389.0 716.2h0M429.0 722.1h0M419.9 720.3h0M387.6 721.4h0M367.1 709.1h0M419.3 715.2h0M386.2 730.7h0M392.7 729.8h0M403.9 729.0h0M405.4 727.8h0M379.0 695.4h0M393.8 726.2h0M406.7 712.0h0M402.6 714.2h0M381.6 708.6h0M392.0 721.6h0M403.8 702.5h0M399.3 727.3h0M374.6 728.8h0M416.9 727.5h0M392.1 703.5h0M430.0 714.7h0M398.3 723.1h0M384.2 730.5h0M402.7 723.5h0M390.4 727.6h0M374.5 694.1h0M414.7 719.0h0M406.1 729.4h0M388.9 704.7h0M392.8 719.4h0M401.7 728.3h0M378.7 724.7h0M406.4 730.0h0M368.4 706.4h0M418.4 728.6h0M354.2 726.1h0M381.1 703.9h0M367.5 710.8h0M387.7 728.6h0M406.9 728.7h0M381.0 721.7h0M377.6 697.5h0M409.1 714.0h0M389.4 722.1h0M411.8 728.2h0M376.5 720.5h0M406.8 711.7h0M368.6 726.0h0M404.3 720.4h0M417.2 708.1h0M414.6 727.1h0M396.3 728.8h0M371.3 714.5h0M384.1 718.3h0M374.5 729.3h0M408.0 729.8h0M362.1 722.7h0M382.0 715.8h0M396.0 732.0h0M380.3 729.9h0M370.6 722.4h0M372.5 707.0h0M428.1 717.1h0M415.2 723.4h0M397.6 731.4h0M383.3 729.4h0M406.5 713.4h0M406.2 707.0h0M401.6 731.0h0M425.2 727.3h0M410.6 703.6h0M374.3 729.4h0M393.9 731.7h0M380.2 706.2h0M437.1 723.9h0M442.5 726.3h0M378.9 719.9h0M411.2 719.9h0M419.7 728.8h0M381.4 707.5h0M375.2 713.7h0M381.4 729.6h0M407.5 722.6h0M382.1 715.8h0M377.2 712.6h0M419.4 723.4h0M391.0 717.4h0M419.8 725.6h0M376.0 723.1h0M371.9 722.9h0M401.1 702.5h0M381.5 729.5h0M398.0 722.1h0M381.9 717.0h0M411.9 724.2h0M420.1 724.4h0M363.7 728.1h0M362.9 718.0h0M384.5 708.6h0M373.0 715.4h0M384.5 722.0h0M373.7 727.3h0M370.7 728.2h0M413.6 713.9h0M402.6 724.2h0M390.4 688.5h0M406.8 724.4h0M417.6 718.8h0M377.7 703.6h0M405.7 729.2h0M425.6 726.0h0M398.2 731.1h0M408.0 720.2h0M381.5 728.9h0M415.3 723.4h0M385.8 688.7h0M404.8 727.7h0M408.3 710.2h0M366.3 715.1h0M362.5 701.2h0M395.2 728.9h0M419.7 706.0h0M406.8 730.2h0M413.4 717.3h0M380.6 726.5h0M367.9 711.0h0M409.1 719.4h0M420.3 715.4h0M369.6 727.8h0M391.5 697.4h0M380.5 717.3h0M393.7 725.4h0M400.3 719.4h0M392.4 704.4h0M366.4 727.5h0M424.9 724.5h0M405.9 718.2h0M379.9 714.8h0M383.5 700.6h0M427.5 717.1h0M418.5 721.7h0M388.8 715.5h0M376.0 728.7h0M406.9 711.8h0M392.5 721.7h0M374.1 705.0h0M376.9 710.4h0M391.6 692.9h0M385.2 723.4h0M410.6 723.7h0M373.1 719.2h0M391.4 704.3h0M409.9 725.4h0M388.2 704.2h0M418.4 723.3h0M413.9 719.3h0M404.6 722.8h0M373.6 727.5h0M389.6 729.8h0M381.3 727.3h0M382.4 729.9h0M399.1 731.4h0M406.2 713.6h0M384.1 723.2h0M374.2 713.9h0M385.4 691.6h0M404.6 727.0h0M379.9 712.0h0M380.9 718.7h0M405.6 702.7h0M381.9 710.0h0M378.8 709.9h0M366.1 722.8h0M397.3 729.5h0M400.9 729.0h0M404.3 730.0h0M372.3 725.9h0M411.5 723.6h0M401.3 709.2h0M382.3 723.4h0M398.3 720.1h0M387.8 719.9h0M386.5 719.2h0M413.6 713.0h0M401.2 713.7h0M421.8 725.8h0M372.9 711.2h0M381.0 709.4h0M417.1 723.7h0M395.7 731.0h0M402.7 719.3h0M395.3 731.3h0M377.0 727.9h0M374.1 720.1h0M418.8 721.6h0M372.5 724.4h0M412.8 721.0h0M404.0 717.6h0M381.5 719.2h0M368.4 719.8h0M427.3 726.3h0M408.9 729.1h0M405.7 712.7h0M382.1 709.1h0M385.0 695.9h0M381.3 721.8h0M365.3 725.9h0M399.2 730.9h0M404.7 730.6h0M382.7 725.7h0M403.6 709.2h0M428.9 720.1h0M362.1 710.7h0M414.2 726.9h0M407.0 721.7h0M359.6 727.4h0M368.1 709.6h0M415.9 722.7h0M369.0 724.2h0M402.0 727.0h0M378.4 720.5h0M369.3 725.8h0M365.5 718.1h0M410.6 723.1h0M379.3 726.5h0M386.1 727.8h0M379.0 726.0h0M392.2 714.4h0M414.4 721.8h0M384.5 707.7h0M375.5 714.0h0M390.0 726.8h0M376.7 708.3h0M376.8 718.0h0M395.1 731.5h0M381.2 718.7h0M417.6 725.7h0M420.5 726.4h0M422.9 728.6h0M381.5 718.6h0M421.9 709.0h0M396.3 730.0h0M406.8 717.4h0M404.1 722.2h0M365.6 700.9h0M378.3 705.4h0M371.6 728.6h0M425.9 721.2h0M377.6 720.5h0M396.7 728.6h0M362.9 723.1h0M418.4 718.4h0M396.1 728.2h0M408.4 728.8h0M411.0 717.8h0M379.2 723.0h0M395.8 731.7h0M408.8 715.4h0M365.5 727.7h0M405.1 728.6h0M397.9 728.0h0M412.6 721.8h0M428.5 726.1h0M441.9 726.3h0M379.1 709.3h0M403.6 730.6h0M383.6 728.0h0M408.3 729.5h0M416.7 724.4h0M388.8 717.4h0M412.4 721.3h0M383.2 725.0h0M420.6 725.6h0M398.5 710.5h0M426.1 721.6h0M392.4 712.1h0M403.3 714.7h0M419.4 697.4h0M402.2 724.5h0M406.5 715.5h0M375.6 725.5h0M387.7 721.9h0M387.9 724.6h0M379.4 716.0h0M401.9 719.5h0M407.6 725.2h0M387.1 730.1h0M391.6 721.0h0M378.2 714.4h0M362.7 726.9h0M383.2 718.8h0M394.3 731.4h0M379.6 716.2h0M419.9 725.7h0M388.0 715.5h0M371.7 715.8h0M371.6 712.7h0M409.7 730.2h0M390.2 722.2h0M368.7 703.2h0M413.0 716.7h0M389.2 712.7h0M398.4 716.7h0M394.1 729.8h0M372.5 705.2h0M406.9 729.9h0M417.7 726.4h0M396.9 729.9h0M421.9 728.8h0M399.1 727.5h0M427.7 726.6h0M427.3 725.6h0M412.3 723.8h0M377.6 729.2h0M422.6 711.6h0M399.1 714.1h0M398.6 729.7h0M362.8 725.1h0M416.2 723.7h0M402.5 717.9h0M367.4 723.8h0M405.3 717.1h0M422.7 713.9h0M371.9 726.6h0M415.8 711.3h0M385.8 718.7h0M417.5 729.2h0M373.0 728.6h0M369.3 719.1h0M410.2 729.2h0M390.3 728.5h0M369.2 707.8h0M406.5 712.3h0M414.1 716.4h0M408.0 720.4h0M427.4 720.2h0M399.4 726.4h0M374.1 706.1h0M361.8 701.2h0M417.1 729.3h0M386.1 717.0h0M416.6 720.3h0M423.5 714.5h0M386.4 730.1h0M414.6 728.8h0M365.7 705.5h0M366.6 720.5h0M405.1 730.5h0M372.0 716.4h0M409.2 725.9h0M384.5 730.2h0M391.2 728.4h0M390.1 724.6h0M371.3 725.6h0M390.4 727.9h0M416.3 729.1h0M402.6 722.5h0M374.1 719.2h0M386.6 711.4h0M376.2 725.3h0M362.1 721.8h0M367.2 725.3h0M407.9 730.0h0M373.9 727.4h0M421.0 726.3h0M387.0 717.0h0M400.4 731.1h0M393.7 727.3h0M383.6 713.8h0M363.1 718.8h0M392.4 729.4h0M424.8 727.8h0M390.4 707.3h0M374.1 702.1h0M400.6 723.9h0M373.9 715.5h0M404.7 723.2h0M369.0 728.1h0M392.7 719.9h0M386.6 730.8h0M380.1 704.8h0M398.7 718.2h0M418.8 709.0h0M398.5 730.9h0M396.0 731.9h0M411.8 729.9h0M385.4 689.1h0M412.3 709.1h0M389.0 700.6h0M375.5 704.5h0M427.0 715.7h0M400.7 719.9h0M368.7 710.1h0M414.8 721.6h0M420.8 728.9h0M427.1 718.6h0M383.6 713.3h0M416.8 720.6h0M408.0 703.5h0M387.3 709.0h0M400.3 730.3h0M378.4 728.7h0M394.1 729.1h0M406.7 713.8h0M406.2 712.7h0M381.5 725.4h0M376.8 695.5h0M410.3 713.9h0M425.9 722.6h0M384.0 710.2h0M365.2 725.5h0M376.0 727.3h0M370.9 721.3h0M400.0 731.5h0M363.2 713.8h0M418.5 717.1h0M405.6 708.6h0M412.7 727.0h0M414.9 712.5h0M387.3 721.0h0M371.8 713.7h0M385.6 729.1h0M370.1 719.9h0M415.0 718.6h0M386.7 730.2h0M372.3 699.4h0M429.5 713.2h0M411.9 728.3h0M401.3 723.5h0M388.7 704.3h0M404.0 716.3h0M371.7 702.8h0M401.8 717.6h0M413.6 723.8h0M405.1 709.7h0M383.0 730.3h0M396.0 728.4h0M373.1 724.7h0M393.4 723.4h0M416.3 724.6h0M375.5 714.5h0M405.2 706.8h0M379.7 723.1h0M380.8 729.8h0M384.6 730.3h0M399.0 705.0h0M405.2 722.7h0M384.1 717.8h0M422.5 721.2h0M392.2 730.7h0M377.3 723.0h0M415.8 713.7h0M375.2 698.3h0M424.8 720.4h0M390.2 730.2h0M371.2 727.9h0M370.1 728.4h0M387.0 724.0h0M381.6 700.7h0M367.4 725.8h0M421.5 721.5h0M427.2 721.5h0M398.7 726.9h0M377.4 718.2h0M386.7 720.7h0M391.5 724.5h0M389.8 723.7h0M418.9 719.6h0M389.6 685.5h0M375.3 716.8h0M411.5 723.2h0M391.2 724.5h0M414.8 712.7h0M359.9 709.3h0M403.9 729.1h0M404.1 730.5h0M361.9 725.8h0M399.4 717.9h0M404.0 726.4h0M374.1 724.9h0M381.0 718.7h0M426.3 728.3h0M389.0 711.9h0M386.0 727.1h0M424.6 717.7h0M411.3 721.8h0M393.3 728.1h0M404.9 728.9h0M419.5 712.8h0M400.5 711.8h0M408.7 725.7h0M428.7 721.5h0M367.4 718.5h0M394.4 727.0h0M413.3 726.7h0M376.7 710.6h0M383.7 717.1h0M417.7 710.8h0M381.2 725.5h0M402.0 729.4h0M379.2 706.0h0M422.4 714.6h0M384.2 729.1h0M384.3 725.6h0M412.2 709.9h0M378.4 724.6h0M373.1 715.4h0M392.4 714.4h0M374.4 728.9h0M394.9 730.5h0M380.6 723.6h0M426.8 723.6h0M418.2 721.0h0M425.5 723.6h0M358.3 726.8h0M400.2 713.4h0M396.6 730.4h0M415.7 729.0h0M408.4 728.3h0M394.3 730.3h0M413.7 724.0h0M367.3 723.7h0M377.2 716.3h0M406.9 707.9h0M368.7 713.2h0M379.3 722.0h0M395.7 729.8h0M380.3 728.4h0M419.5 712.5h0M370.4 712.1h0M400.2 725.7h0M379.1 715.0h0M368.7 728.5h0M417.2 719.7h0M367.9 720.1h0M362.1 725.4h0M404.4 710.7h0M405.0 710.3h0M405.8 722.2h0M381.7 728.2h0M412.0 711.6h0M408.9 716.7h0M400.8 729.9h0M405.2 720.2h0M398.8 731.3h0M403.7 721.8h0M380.2 714.2h0M382.9 721.2h0M413.5 727.3h0M391.6 715.3h0M397.4 731.1h0M385.5 720.5h0M372.2 712.8h0M398.1 725.8h0M385.0 710.5h0M369.1 725.9h0M392.5 717.7h0M401.7 727.8h0M423.9 727.5h0M386.7 701.7h0M377.9 712.7h0M380.6 721.9h0M415.6 711.0h0M438.0 726.7h0M377.4 715.2h0M390.4 726.1h0M367.2 706.0h0M363.7 707.7h0M407.2 724.3h0M384.4 680.8h0M419.7 715.8h0M422.0 728.3h0M373.1 729.0h0M426.5 721.1h0M409.6 727.5h0M411.2 726.2h0M371.5 727.4h0M420.6 725.2h0M399.8 728.3h0M403.9 718.1h0M375.2 713.5h0M370.3 726.6h0M391.1 731.3h0M385.9 721.2h0M373.4 724.9h0M369.4 728.0h0M400.7 719.4h0M422.1 723.3h0M381.9 714.5h0M376.7 723.5h0M410.7 729.8h0M393.2 718.1h0M378.2 729.0h0M395.8 729.3h0M381.0 728.3h0M397.3 729.9h0M381.1 712.9h0M426.9 723.8h0M365.4 727.1h0M412.1 716.7h0M406.8 726.1h0M388.6 730.8h0M415.0 713.3h0M368.6 719.3h0M388.7 719.0h0M409.1 729.8h0M427.1 720.6h0M420.6 722.7h0M403.0 722.6h0M404.6 717.3h0M367.0 726.1h0M382.0 730.0h0M418.8 714.9h0M414.0 722.3h0M367.2 714.3h0M423.9 723.1h0M373.7 697.4h0M402.1 718.1h0M379.9 714.2h0M373.4 714.0h0M414.7 727.4h0M376.1 728.9h0M408.8 729.0h0M424.8 718.9h0M374.5 727.3h0M402.1 725.5h0M401.5 710.2h0M408.4 730.4h0M398.5 730.9h0M385.6 724.0h0M361.8 724.0h0M401.7 716.2h0M393.4 719.9h0M389.2 707.6h0M403.7 725.2h0M380.2 702.1h0M378.0 729.7h0M362.8 711.7h0M414.6 728.5h0M376.3 729.3h0M408.6 729.6h0M392.2 715.3h0M386.5 730.3h0M390.7 712.9h0M393.0 715.1h0M386.9 718.4h0M424.7 719.8h0M394.0 730.6h0M397.0 731.6h0M363.4 721.4h0M389.1 731.0h0M389.5 720.1h0M400.4 723.6h0M411.3 705.7h0M367.6 720.6h0M383.8 725.8h0M412.8 729.8h0M376.8 704.0h0M383.4 716.5h0M367.5 715.9h0M379.3 729.8h0M383.4 730.4h0M418.2 725.0h0M408.2 720.5h0M391.1 714.6h0M387.5 715.7h0M394.0 729.2h0M415.9 716.6h0M396.8 731.8h0M444.9 726.1h0M386.6 708.2h0M395.4 731.8h0M422.6 719.5h0M402.6 717.1h0M374.7 720.6h0M415.6 714.8h0M370.5 719.2h0M380.7 717.0h0M379.8 698.2h0M407.3 722.9h0M377.0 715.1h0M380.5 708.2h0M375.3 729.3h0M411.7 730.1h0M387.3 675.9h0M389.2 728.9h0M425.4 728.2h0M384.9 726.9h0M381.8 678.6h0M402.7 724.9h0M379.7 692.4h0M420.6 721.1h0M376.6 712.7h0M408.7 729.2h0M358.5 720.9h0M413.0 714.7h0M398.0 730.2h0M398.9 717.8h0M396.7 730.4h0M390.6 694.7h0M372.1 708.8h0M414.2 725.3h0M406.5 723.0h0M370.0 707.1h0M382.7 724.0h0M382.5 700.8h0M369.6 720.2h0M407.2 730.6h0M419.3 720.0h0M406.2 730.5h0M411.1 718.9h0M394.9 731.1h0M417.8 703.0h0M413.6 707.8h0M395.0 730.8h0M387.1 710.0h0M388.2 699.7h0M399.0 725.9h0M370.9 704.8h0M383.3 682.2h0M375.9 723.7h0M382.1 708.6h0M382.4 725.4h0M377.4 709.6h0M382.5 719.0h0M376.8 722.1h0M362.6 724.0h0M393.3 725.4h0M366.9 714.3h0M384.4 711.4h0M412.8 722.7h0M405.9 730.0h0M398.4 731.2h0M389.1 725.5h0M377.5 708.4h0M401.9 708.2h0M363.9 721.7h0M380.4 729.8h0M363.4 724.2h0M382.5 730.2h0M387.5 728.5h0M384.6 729.6h0M369.4 726.0h0M401.9 731.0h0M396.2 730.0h0M402.5 729.7h0M407.6 729.4h0M415.6 713.5h0M381.5 730.2h0M380.0 723.2h0M377.1 724.2h0M366.2 725.9h0M389.7 717.5h0M402.0 725.7h0M385.3 716.7h0M365.7 714.1h0M415.2 727.3h0M365.8 724.6h0M380.9 705.6h0M392.1 730.4h0M371.2 710.2h0M409.5 712.8h0M393.6 724.2h0M385.5 700.9h0M392.5 712.7h0M382.8 728.0h0M393.3 727.7h0M418.5 715.1h0M408.3 709.6h0M415.6 723.7h0M382.5 727.8h0M414.1 723.7h0M372.6 715.4h0M402.7 722.1h0M416.9 724.7h0M423.5 724.8h0M382.6 703.7h0M387.0 730.9h0M399.1 728.1h0M402.1 727.5h0M378.3 710.0h0M390.4 725.5h0M378.9 709.1h0M365.9 719.5h0M412.4 713.3h0M425.5 714.1h0M400.3 722.0h0M372.4 726.8h0M379.4 722.4h0M426.8 726.4h0M427.5 726.9h0M426.4 716.5h0M390.3 722.4h0M371.3 728.6h0M415.9 711.9h0M377.8 727.7h0M420.5 719.2h0M404.2 713.5h0M414.5 725.0h0M400.7 729.0h0M441.6 726.3h0M415.2 727.3h0M412.5 728.6h0M388.1 700.1h0M369.1 723.0h0M409.3 711.0h0M407.5 726.3h0M390.0 718.4h0M424.3 727.9h0M376.6 727.2h0M388.3 731.0h0M389.2 717.0h0M401.8 731.1h0M412.9 714.0h0M391.1 708.9h0M364.7 722.6h0M364.7 728.0h0M421.7 714.4h0M426.9 720.9h0M399.0 729.2h0M348.6 724.8h0M396.9 730.9h0M382.1 727.5h0M379.7 704.2h0M406.4 728.8h0M402.3 717.4h0M396.4 727.9h0M370.1 720.2h0M366.7 719.8h0M373.6 720.4h0M396.0 730.0h0M401.6 731.1h0M368.1 709.8h0M349.5 725.2h0M383.9 730.0h0M384.5 725.7h0M376.8 701.1h0M380.0 715.7h0M421.8 725.4h0M386.8 723.0h0M396.6 729.7h0M425.1 722.9h0M379.8 729.1h0M378.9 711.5h0M353.5 718.4h0M388.8 691.3h0M391.7 731.5h0M422.5 720.8h0M400.0 704.3h0M371.5 687.4h0M375.2 710.1h0M370.2 716.6h0M427.8 719.5h0M368.6 721.5h0M378.7 723.0h0M409.3 707.5h0M400.1 728.8h0M398.8 731.5h0M369.9 718.8h0M375.5 680.6h0M449.1 725.6h0M408.7 718.2h0M414.8 723.6h0M403.1 711.5h0M371.3 716.0h0M363.3 720.5h0M388.5 722.0h0M387.7 690.0h0M400.3 730.8h0M393.1 707.0h0M372.3 717.8h0M420.5 722.4h0M409.7 724.5h0M418.9 715.4h0M370.9 705.8h0M390.9 731.0h0M406.7 710.5h0M403.1 703.8h0M386.8 711.1h0M373.5 726.0h0M369.4 701.7h0M405.2 705.5h0M371.7 720.4h0M422.0 724.2h0M379.9 717.5h0M425.7 710.3h0M398.3 730.0h0M428.2 725.9h0M373.7 704.8h0M388.7 730.1h0M411.2 724.4h0M399.9 723.7h0M397.4 730.7h0M404.3 729.7h0M381.6 727.3h0M394.7 730.8h0M381.3 726.8h0M364.9 714.7h0M375.1 707.8h0M375.6 723.7h0M404.9 729.8h0M397.2 730.8h0M417.8 708.5h0M403.2 717.2h0M374.0 728.9h0M411.2 694.5h0M386.5 707.3h0M366.7 711.5h0M403.0 720.2h0M413.0 724.9h0M400.0 730.3h0M381.1 719.3h0M420.3 725.4h0M412.9 727.6h0M393.7 731.2h0M421.9 728.5h0M415.4 720.9h0M366.6 714.8h0M387.4 695.1h0M390.6 708.1h0M405.6 726.8h0M403.8 730.6h0M372.9 705.5h0M406.2 720.9h0M412.2 729.6h0M382.8 701.9h0M394.0 727.6h0M401.7 702.4h0M386.9 729.8h0M363.6 725.9h0M376.6 727.9h0M410.3 721.0h0M368.4 723.9h0M390.9 719.0h0M419.7 726.6h0M411.3 726.7h0M422.1 724.9h0M371.9 705.6h0M388.6 728.9h0M365.9 714.1h0M387.6 727.7h0M382.6 730.2h0M374.0 688.6h0M404.4 717.8h0M387.9 708.0h0M406.6 730.6h0M389.7 717.7h0M382.6 722.3h0M427.8 727.6h0M378.9 729.0h0M375.7 713.7h0M415.2 719.3h0M400.7 730.8h0M370.5 722.9h0M401.0 721.5h0M389.9 690.2h0M388.2 725.7h0M398.7 717.7h0M375.1 718.4h0M391.1 709.1h0M373.0 721.2h0M402.2 729.0h0M402.1 712.1h0M396.5 726.2h0M385.9 698.5h0M370.5 727.7h0M393.8 725.2h0M370.0 715.2h0M374.7 710.9h0M426.9 718.3h0M409.9 704.5h0M380.8 708.6h0M404.2 727.7h0M394.1 730.1h0M373.6 725.8h0M406.9 730.6h0M335.1 724.7h0M408.9 707.3h0M377.2 704.6h0M411.5 717.1h0M413.0 711.5h0M420.7 699.4h0M410.9 719.5h0M396.1 727.8h0M367.6 723.3h0M426.0 724.2h0M412.4 727.1h0M395.7 727.7h0M385.0 713.4h0M405.5 726.9h0M413.7 721.5h0M380.6 726.9h0M381.9 708.0h0M400.2 724.6h0M420.2 718.5h0M372.4 705.6h0M426.8 727.4h0M399.7 724.2h0M412.2 726.4h0M377.0 727.9h0M379.1 728.1h0M377.1 705.4h0M364.5 703.0h0M369.0 728.3h0M372.5 723.0h0M425.1 726.3h0M384.1 710.7h0M373.8 716.2h0M378.8 728.6h0M386.2 706.2h0M393.7 726.7h0M405.9 725.3h0M399.9 722.2h0M422.9 725.9h0M366.1 715.1h0M365.2 726.1h0M367.7 727.2h0M407.6 728.6h0M376.2 720.3h0M378.8 692.1h0M409.4 728.7h0M367.6 716.6h0M382.8 730.1h0M410.2 725.2h0M398.5 731.1h0M396.3 730.6h0M380.1 708.6h0M385.7 715.2h0M417.6 714.6h0M390.8 720.2h0M378.0 723.0h0M382.5 720.5h0M384.0 699.0h0M368.2 713.6h0M393.8 729.2h0M417.3 709.8h0M404.5 718.6h0M388.1 724.9h0M378.6 727.9h0M379.9 726.1h0M407.0 729.2h0M382.7 723.9h0M402.3 716.3h0M370.4 715.5h0M394.9 729.7h0M371.9 727.8h0M372.1 720.2h0M414.8 726.4h0M420.4 708.7h0M382.1 699.5h0M395.6 727.2h0M376.6 725.1h0M420.9 706.0h0M363.6 708.5h0M406.1 728.4h0M419.2 727.9h0M385.1 726.3h0M387.2 707.1h0M374.4 724.6h0M384.9 719.4h0M423.6 719.3h0M423.5 728.3h0M388.9 700.9h0M371.0 707.8h0M380.7 721.3h0M419.1 710.2h0M418.2 721.1h0M399.5 730.3h0M362.3 727.6h0M417.2 726.7h0M392.6 718.0h0M423.5 725.4h0M389.1 716.3h0M403.8 730.3h0M401.3 719.5h0M458.7 724.4h0M384.2 730.1h0M411.6 696.8h0M399.0 725.9h0M418.0 728.7h0M377.2 726.3h0M421.9 720.5h0M383.7 712.8h0M404.6 724.1h0M386.4 704.2h0M410.0 722.5h0M423.9 707.8h0M408.5 727.3h0M425.9 728.0h0M414.9 722.7h0M381.9 711.3h0M390.8 717.1h0M336.4 724.8h0M370.0 718.2h0M423.9 722.3h0M403.0 709.3h0M372.6 709.8h0M407.0 724.6h0M412.5 728.5h0M362.6 715.0h0M382.0 727.3h0M401.4 722.1h0M391.9 729.5h0M398.3 718.2h0M399.7 710.2h0M395.5 729.5h0M406.5 726.4h0M367.8 721.7h0M376.4 722.4h0M411.3 723.8h0M397.2 728.7h0M412.3 725.1h0M393.7 721.9h0M384.4 692.6h0M413.1 721.4h0M405.4 727.7h0M398.6 723.3h0M364.6 707.9h0M416.2 719.6h0M363.4 714.6h0M376.3 726.6h0M381.5 709.3h0M369.6 705.6h0M407.1 728.0h0M391.8 714.6h0M402.5 729.4h0M363.9 727.5h0M423.9 726.2h0M390.8 728.8h0M386.1 707.9h0M389.3 730.0h0M405.6 726.8h0M404.3 727.7h0M367.4 709.4h0M374.2 727.9h0M427.8 724.2h0M370.2 716.7h0M368.5 714.5h0M365.5 703.6h0M382.6 728.1h0M402.3 717.1h0M400.4 723.8h0M375.0 705.9h0M361.6 718.6h0M377.8 722.8h0M423.0 710.5h0M386.2 721.9h0M387.2 704.2h0M388.7 721.0h0M387.8 703.4h0M404.5 730.3h0M383.1 719.9h0M383.0 725.8h0M369.3 728.5h0M366.2 714.1h0M388.0 708.5h0M382.6 726.1h0M379.2 725.4h0M414.6 715.8h0M425.1 722.5h0M403.0 730.7h0M384.1 713.5h0M362.5 722.7h0M412.2 728.2h0M420.7 723.2h0M380.0 708.7h0M407.6 704.8h0M384.6 702.6h0M405.8 720.8h0M413.8 717.1h0M364.0 727.0h0M379.2 729.4h0M397.9 728.5h0M367.6 715.6h0M365.0 726.2h0M408.7 704.5h0M377.9 713.7h0M376.5 721.7h0M405.8 719.7h0M373.3 705.8h0M420.3 716.0h0M382.7 730.3h0M398.6 730.0h0M378.8 704.1h0M419.9 713.3h0M407.3 706.7h0M414.7 726.4h0M378.2 725.2h0M386.2 730.6h0M426.1 726.2h0M424.9 722.4h0M405.6 722.9h0M381.9 714.9h0M426.6 727.7h0M366.6 722.5h0M365.3 716.3h0M371.7 715.3h0M384.6 729.6h0M380.2 706.1h0M381.7 708.8h0M391.9 697.7h0M405.0 724.4h0M413.9 708.0h0M380.8 714.0h0M379.5 708.9h0M407.5 724.0h0M394.2 731.7h0M389.1 722.5h0M369.9 727.9h0M408.4 715.0h0M386.9 713.4h0M401.0 712.8h0M394.2 731.3h0M440.2 725.8h0M408.2 728.9h0M413.4 721.6h0M388.9 703.7h0M374.5 728.9h0M414.4 725.5h0M417.6 718.4h0M364.3 717.9h0M377.0 714.9h0M399.1 725.3h0M387.6 722.7h0M397.9 731.7h0M398.5 715.4h0M410.3 729.5h0M365.0 726.3h0M388.7 698.6h0M401.9 730.1h0M371.5 712.9h0M408.0 729.6h0M385.5 730.7h0M362.3 722.4h0M423.1 726.7h0M414.7 729.4h0M392.4 717.3h0M374.8 728.3h0M380.5 703.6h0M367.7 717.0h0M413.8 728.1h0M402.6 706.1h0M416.5 714.5h0M427.9 721.1h0M369.7 713.5h0M423.9 703.1h0M410.0 728.3h0M386.0 730.7h0M367.1 701.8h0M382.4 717.9h0M373.7 707.0h0M374.0 710.7h0M410.5 729.4h0M421.0 723.6h0M428.2 727.8h0M416.3 728.0h0M400.1 728.3h0M415.3 710.9h0M400.6 713.8h0M390.6 727.8h0M411.2 729.0h0M367.5 719.0h0M397.4 727.5h0M404.1 722.2h0M377.1 712.5h0M395.5 728.1h0M409.7 709.3h0M370.2 725.4h0M429.4 718.2h0M381.0 705.8h0M363.9 723.3h0M374.9 704.7h0M427.1 722.8h0M393.1 716.5h0M367.5 722.5h0M374.6 705.5h0M409.7 712.1h0M413.3 724.6h0M422.8 719.0h0M380.7 730.0h0M367.9 718.8h0M386.4 721.1h0M368.2 709.4h0M403.7 725.0h0M426.0 725.2h0M381.8 724.2h0M394.6 731.6h0M359.7 718.1h0M410.5 728.4h0M428.2 727.7h0M417.8 727.8h0M384.5 701.9h0M403.6 699.5h0M414.1 702.8h0M422.6 718.3h0M376.8 728.5h0M381.4 716.1h0M422.3 707.3h0M388.7 708.7h0M396.7 731.5h0M386.3 721.5h0M403.1 709.7h0M398.4 710.3h0M420.8 703.8h0M401.7 716.0h0M425.9 724.8h0M392.2 723.2h0M403.5 730.3h0M411.6 725.6h0M374.1 709.3h0M378.4 723.9h0M365.1 703.3h0M382.6 728.6h0M412.2 716.9h0M405.6 703.7h0M378.8 715.7h0M386.8 714.2h0M418.4 712.6h0M388.0 700.6h0M392.7 716.1h0M413.6 715.4h0M423.8 719.2h0M383.5 729.5h0M413.7 729.6h0M371.8 713.2h0M387.0 703.9h0M401.9 728.1h0M368.5 728.3h0M369.8 728.2h0M382.0 728.1h0M342.6 725.6h0M388.5 713.1h0M393.1 715.4h0M409.7 727.6h0M412.7 729.3h0M384.2 706.4h0M426.9 710.5h0M373.7 726.1h0M388.3 725.0h0M371.3 728.6h0M418.1 712.6h0M432.8 726.7h0M397.9 724.2h0M363.1 714.1h0M425.0 728.1h0M390.6 730.3h0M378.9 694.1h0M385.7 714.5h0M384.5 729.9h0M391.8 719.8h0M425.5 727.1h0M419.2 712.6h0M420.2 728.2h0M369.6 728.4h0M382.5 728.9h0M389.6 692.6h0M399.3 731.4h0M365.8 720.7h0M407.2 725.1h0M379.9 718.6h0M394.4 730.8h0M423.9 728.5h0M399.9 729.5h0M397.2 731.6h0M388.5 720.8h0M381.9 726.0h0M388.1 725.5h0M386.4 700.7h0M388.2 726.2h0M425.5 710.7h0M387.5 698.4h0M370.0 727.2h0M407.6 714.3h0M373.1 723.2h0M392.0 712.1h0M413.3 719.0h0M409.6 722.8h0M406.4 726.1h0M364.8 725.0h0M384.7 703.9h0M389.9 723.2h0M376.4 719.5h0M394.2 731.8h0M405.2 729.2h0M372.8 728.6h0M387.5 690.5h0M394.9 727.6h0M415.6 727.5h0M383.3 726.1h0M412.8 709.0h0M376.1 727.1h0M366.1 727.2h0M396.6 731.7h0M379.4 702.0h0M325.7 723.5h0M395.0 729.2h0M394.0 729.8h0M399.3 713.1h0M412.1 721.7h0M376.9 712.5h0M384.8 727.0h0M390.2 717.9h0M410.0 724.9h0M414.9 707.0h0M359.4 726.4h0M405.8 730.8h0M415.4 725.4h0M400.6 715.5h0M377.4 711.2h0M409.7 723.1h0M392.6 724.3h0M414.1 722.1h0M398.1 731.7h0M368.1 715.7h0M408.2 708.0h0M379.3 698.8h0M404.0 712.3h0M399.6 707.3h0M365.5 723.8h0M372.1 729.0h0M397.1 729.0h0M406.1 713.5h0M401.3 722.9h0M415.2 713.3h0M369.3 726.0h0M414.6 723.4h0M367.8 691.7h0M374.1 724.7h0M388.2 717.9h0M390.6 719.1h0M391.6 726.5h0M377.8 726.0h0M404.3 709.9h0M391.3 708.6h0M398.5 731.6h0M407.5 700.4h0M368.1 728.5h0M361.3 715.7h0M369.4 724.9h0M417.0 729.4h0M379.2 725.1h0M430.2 721.4h0M427.7 726.2h0M399.5 727.1h0M371.6 729.1h0M419.4 722.8h0M374.0 712.0h0M382.7 717.8h0M412.1 722.9h0M395.2 729.2h0M419.2 725.1h0M364.2 717.9h0M419.7 717.0h0M366.4 708.2h0M432.1 722.9h0M387.2 729.0h0M428.7 718.7h0M391.8 715.1h0M423.1 724.8h0M380.0 704.5h0M394.7 728.0h0M414.5 725.0h0M418.1 712.1h0M402.7 723.4h0M401.7 726.9h0M417.1 713.2h0M374.3 723.3h0M375.8 700.4h0M408.7 726.3h0M407.3 697.3h0M412.2 715.0h0M380.4 709.7h0M426.1 722.2h0M386.6 722.5h0M368.3 727.0h0M372.4 716.4h0M398.5 729.6h0M350.2 723.4h0M400.7 725.7h0M394.0 731.7h0M378.9 727.0h0M389.5 726.9h0M417.2 715.1h0M419.3 715.3h0M390.6 727.5h0M413.5 712.8h0M379.9 720.8h0M415.3 712.0h0M407.9 725.9h0M392.9 724.1h0M387.4 724.5h0M421.7 720.6h0M387.6 728.7h0M380.4 729.4h0M392.8 725.7h0M408.4 722.9h0M412.3 729.5h0M385.7 721.0h0M419.6 710.8h0M401.0 728.5h0M376.6 703.8h0M390.0 702.4h0M416.1 721.3h0M395.3 731.3h0M367.8 706.6h0M377.7 723.2h0M373.2 727.3h0M387.0 701.1h0M400.3 721.2h0M395.4 730.3h0M425.1 727.3h0M413.0 720.5h0M408.5 724.9h0M408.0 727.4h0M376.9 719.9h0M387.8 707.8h0M385.7 728.4h0M391.8 730.2h0M378.3 726.1h0M425.2 724.9h0M427.4 728.0h0M430.5 727.1h0M388.6 728.0h0M399.4 716.1h0M362.1 724.6h0M411.5 724.7h0M386.3 722.5h0M416.9 712.6h0M379.7 704.3h0M390.1 730.2h0M369.9 725.8h0M388.8 714.6h0M379.4 729.1h0M387.0 730.6h0M364.2 727.9h0M391.5 717.9h0M373.9 723.4h0M373.5 715.2h0M388.7 729.2h0M405.9 726.5h0M405.9 727.6h0M398.7 716.3h0M452.8 725.1h0M405.0 729.4h0M401.9 723.8h0M379.4 712.6h0M382.1 712.4h0M368.1 699.3h0M364.1 714.3h0M398.9 714.3h0M388.1 729.8h0M386.4 712.0h0M395.1 726.5h0M411.6 729.3h0M379.5 723.7h0M428.2 723.7h0M373.7 714.4h0M378.8 715.0h0M373.6 708.4h0M370.1 707.8h0M392.4 717.2h0M383.6 725.9h0M371.8 718.0h0M424.8 716.2h0M364.9 719.5h0M393.0 727.4h0M376.0 725.3h0M399.3 730.7h0M400.1 723.1h0M375.0 727.7h0M423.0 720.0h0M423.4 726.4h0M387.4 705.9h0M382.3 717.2h0M416.8 704.9h0M423.4 717.3h0M390.4 692.6h0M415.2 711.1h0M399.6 708.3h0M372.1 721.7h0M422.4 720.8h0M380.3 705.1h0M424.2 727.6h0M359.6 723.1h0M376.0 726.7h0M390.7 715.0h0M408.5 729.9h0M380.7 725.5h0M416.3 713.0h0M411.9 725.6h0M398.8 722.5h0M406.9 718.1h0M405.5 723.8h0M402.6 706.5h0M428.1 726.3h0M379.4 729.4h0M409.9 712.9h0M380.8 704.1h0M367.3 726.5h0M391.6 719.4h0M367.2 727.9h0M380.2 724.4h0M361.2 727.3h0M364.1 705.0h0M382.1 709.6h0M377.8 716.7h0M393.3 720.0h0M401.1 714.4h0M399.6 714.9h0M402.3 730.1h0M364.2 710.9h0M393.9 730.0h0M381.2 722.2h0M389.5 712.9h0M409.8 717.6h0M370.0 725.0h0M382.2 729.6h0M396.0 731.1h0M389.0 717.9h0M389.0 726.0h0M408.7 724.4h0M405.4 712.5h0M388.6 709.1h0M384.5 710.0h0M407.4 728.8h0M381.4 729.3h0M418.2 722.8h0M409.7 727.7h0M405.2 716.6h0M380.4 704.7h0M384.5 706.8h0M422.4 719.4h0M383.8 723.9h0M416.1 719.8h0M389.0 722.4h0M386.1 722.7h0M378.2 720.0h0M387.1 717.1h0M389.8 730.9h0M401.8 731.1h0M381.5 720.1h0M378.7 705.5h0M440.3 726.3h0M398.0 728.2h0M370.8 726.5h0M392.5 711.3h0M403.2 724.6h0M424.1 716.2h0M390.3 707.6h0M364.9 720.4h0M396.7 731.2h0M401.9 722.8h0M391.6 726.6h0M392.1 711.4h0M374.2 688.7h0M376.8 710.8h0M400.4 719.4h0M424.4 728.2h0M383.2 726.6h0M390.5 728.0h0M401.3 730.1h0M384.6 728.8h0M390.8 723.7h0M371.0 703.6h0M388.2 704.5h0M395.3 727.8h0M418.3 718.3h0M407.3 720.1h0M422.5 728.7h0M378.8 717.3h0M396.9 730.9h0M379.5 713.8h0M366.4 728.4h0M373.1 726.1h0M412.6 723.2h0M386.6 695.6h0M370.0 721.8h0M397.2 729.8h0M383.0 719.6h0M393.3 721.9h0M429.1 724.5h0M416.8 701.8h0M386.0 726.4h0M394.8 730.7h0M408.1 725.5h0M379.7 727.8h0M385.5 722.3h0M404.7 705.8h0M420.7 720.5h0M417.9 709.9h0M418.0 715.0h0M390.3 707.7h0M385.7 708.4h0M396.7 729.3h0M388.8 679.4h0M392.2 729.7h0M403.3 724.5h0M401.7 729.9h0M369.3 720.2h0M383.5 719.6h0M398.5 721.1h0M383.4 728.3h0M382.4 709.7h0M370.7 719.3h0M379.6 719.7h0M393.1 718.1h0M388.5 725.0h0M399.5 725.0h0M408.9 724.9h0M375.6 728.3h0M399.7 724.6h0M398.0 719.3h0M382.3 717.2h0M389.4 686.4h0M391.7 731.3h0M416.4 728.3h0M386.6 714.9h0M416.6 719.9h0M371.0 712.8h0M407.0 721.1h0M372.7 715.2h0M382.2 730.3h0M387.2 718.3h0M408.0 729.5h0M387.4 727.0h0M384.4 723.6h0M397.9 724.4h0M402.5 724.6h0M391.0 698.5h0M435.9 726.3h0M384.3 699.4h0M386.3 721.6h0M379.4 720.2h0M393.4 729.8h0M413.8 729.3h0M368.1 708.9h0M395.8 730.4h0M407.5 730.4h0M406.7 729.9h0M384.1 699.5h0M365.9 711.2h0M424.1 722.3h0M371.4 725.7h0M378.4 715.6h0M404.7 716.7h0M385.8 726.4h0M378.5 728.9h0M406.3 712.2h0M414.5 721.2h0M395.4 731.3h0M381.0 704.9h0M377.7 723.5h0M423.0 728.3h0M372.1 716.1h0M377.5 729.0h0M379.8 712.9h0M378.8 722.2h0M418.3 725.3h0M377.0 721.9h0M377.7 711.2h0M395.9 731.5h0M389.6 728.9h0M396.4 730.5h0M382.4 717.2h0M388.1 714.6h0M383.4 706.6h0M394.1 731.2h0M408.4 719.1h0M402.9 725.5h0M394.2 731.8h0M370.2 724.0h0M398.5 727.8h0M420.9 719.6h0M405.2 712.6h0M391.9 728.8h0M418.7 729.0h0M377.4 708.4h0M421.5 723.7h0M393.6 730.2h0M362.8 727.6h0M399.1 723.7h0M373.4 719.9h0M383.0 730.1h0M400.6 730.4h0M405.9 707.1h0M380.7 730.1h0M379.3 718.6h0M414.7 722.2h0M383.0 729.1h0M420.3 722.8h0M370.5 707.9h0M378.4 710.7h0M371.9 726.8h0M386.1 729.0h0M389.9 726.0h0M365.7 711.6h0M407.8 726.4h0M362.2 718.6h0M405.0 714.5h0M417.9 711.8h0M393.4 726.9h0M398.7 729.7h0M383.0 709.8h0M399.7 727.3h0M426.5 718.0h0M423.3 724.3h0M382.7 723.5h0M385.6 712.9h0M361.8 715.4h0M385.3 718.9h0M377.9 721.9h0M368.2 704.6h0M417.2 729.3h0M369.9 723.4h0M408.3 730.2h0M376.5 728.3h0M419.6 722.0h0M422.5 720.0h0M418.6 718.0h0M415.9 727.3h0M371.9 727.2h0M373.3 729.0h0M390.8 727.4h0M364.8 708.3h0M393.6 721.0h0M424.7 725.3h0M366.4 714.0h0M431.2 726.8h0M400.7 731.2h0M373.9 728.4h0M405.5 724.5h0M401.1 714.4h0M366.5 706.9h0M370.7 728.3h0M400.4 728.6h0M379.4 725.9h0M366.6 724.1h0M387.6 712.7h0M369.3 710.8h0M408.8 726.3h0M373.9 729.0h0M415.5 715.1h0M402.1 706.0h0M383.3 710.5h0M370.5 726.6h0M422.5 726.5h0M375.0 725.1h0M381.5 704.0h0M393.7 731.3h0M387.4 730.8h0M378.3 715.5h0M377.8 714.9h0M370.1 727.6h0M420.2 716.6h0M395.9 729.6h0M366.9 694.7h0M417.5 711.8h0M396.6 729.4h0M409.0 725.1h0M416.2 729.2h0M362.4 719.2h0M388.4 729.1h0M375.1 724.2h0M413.6 710.1h0M419.0 716.4h0M385.3 730.7h0M374.8 727.9h0M397.9 728.4h0M409.3 726.1h0M412.2 716.0h0M407.8 729.0h0M386.1 728.1h0M384.9 706.6h0M424.8 715.0h0M416.8 712.0h0M398.4 731.4h0M380.3 709.0h0M387.2 723.0h0M374.2 716.0h0M364.7 723.3h0M391.7 704.8h0M400.0 716.9h0M427.8 720.5h0M375.1 719.6h0M370.5 725.9h0M382.0 718.7h0M392.9 725.5h0M383.0 728.6h0M428.6 718.5h0M369.1 726.6h0M379.4 722.5h0M404.4 707.4h0M412.3 728.0h0M376.4 711.6h0M363.6 721.7h0M407.7 707.4h0M410.9 719.9h0M418.7 725.8h0M404.1 730.1h0M399.2 729.6h0M403.7 720.8h0M400.6 726.9h0M402.4 718.6h0M410.1 713.6h0M373.9 725.0h0M386.7 713.7h0M366.9 707.4h0M386.1 726.6h0M366.8 703.6h0M364.4 725.5h0M371.5 699.1h0M381.7 722.7h0M368.9 728.3h0M405.1 728.5h0M411.3 728.1h0M402.4 709.9h0M415.0 724.9h0M397.2 731.6h0M375.5 717.2h0M382.5 728.2h0M391.7 714.7h0M399.5 725.8h0M393.5 727.8h0M369.4 728.1h0M387.8 713.1h0M362.8 705.6h0M390.6 730.7h0M410.4 722.6h0M375.6 709.4h0M376.5 725.3h0M366.4 717.8h0M399.0 730.4h0M387.4 730.5h0M373.9 723.9h0M370.2 722.1h0M399.9 724.3h0M389.9 726.4h0M392.2 723.0h0M363.7 725.4h0M413.9 717.1h0M392.4 694.3h0M416.6 708.9h0M366.0 727.7h0M379.5 705.0h0M369.9 728.8h0M366.5 722.1h0M377.4 716.1h0M370.9 727.1h0M372.6 721.2h0M424.7 725.9h0M414.4 727.6h0M389.3 724.0h0M397.7 727.7h0M430.7 722.4h0M411.5 717.7h0M387.1 722.0h0M405.6 716.9h0M368.7 708.7h0M367.1 714.8h0M368.5 727.1h0M384.8 729.2h0M414.3 709.5h0M383.7 720.5h0M383.8 718.2h0M381.4 726.3h0M425.8 716.2h0M386.3 712.1h0M369.6 712.0h0M379.7 722.3h0M420.0 728.3h0M404.1 715.1h0M401.7 730.6h0M413.3 711.5h0M419.4 705.6h0M404.4 725.9h0M399.3 731.4h0M372.4 728.5h0M403.1 730.6h0M376.2 727.6h0M413.7 699.7h0M387.1 725.9h0M409.7 726.2h0M399.8 716.6h0M365.0 704.2h0M415.3 707.9h0M391.4 726.1h0M377.3 701.5h0M406.9 723.7h0M398.0 729.9h0M420.2 706.2h0M378.7 720.3h0M368.9 728.3h0M373.0 726.3h0M401.2 723.0h0M424.7 727.3h0M426.8 727.3h0M379.5 722.1h0M416.5 708.5h0M402.4 725.7h0M410.5 727.9h0M403.0 730.7h0M378.3 704.8h0M404.8 700.5h0M430.7 723.6h0M419.4 727.9h0M393.6 724.6h0M386.1 729.0h0M379.2 723.7h0M387.2 723.0h0M402.9 730.7h0M377.4 724.6h0M370.5 720.4h0M381.1 726.8h0M381.5 702.7h0M394.3 729.0h0M410.1 718.7h0M409.8 728.5h0M375.9 721.1h0M362.4 702.4h0M378.4 714.2h0M396.4 731.1h0M372.4 729.1h0M381.3 719.2h0M407.8 726.3h0M424.1 728.5h0M405.7 720.1h0M416.5 725.0h0M422.0 716.8h0M397.4 731.5h0M379.9 712.7h0M390.7 726.0h0M379.1 715.9h0M388.1 729.3h0M421.5 723.9h0M400.0 719.5h0M389.5 724.8h0M412.9 729.2h0M386.3 727.0h0M375.2 728.9h0M368.3 698.9h0M400.3 717.4h0M391.4 730.6h0M368.1 726.8h0M366.8 723.2h0M425.3 715.9h0M395.2 730.4h0M378.4 725.4h0M371.1 703.8h0M384.1 723.2h0M409.7 716.6h0M371.8 727.4h0M396.3 731.0h0M414.2 729.5h0M394.7 729.5h0M365.5 719.3h0M339.4 725.2h0M385.0 724.1h0M389.5 725.1h0M401.2 724.4h0M386.7 725.6h0M416.6 722.4h0M396.2 731.5h0M391.2 721.5h0M398.8 723.6h0M373.4 721.1h0M418.8 712.6h0M416.7 722.4h0M421.3 714.0h0M391.0 718.7h0M383.3 722.9h0M372.9 712.1h0M382.8 699.6h0M375.2 727.8h0M402.2 730.1h0M383.5 704.3h0M386.8 724.3h0M387.7 693.1h0M378.8 705.6h0M378.1 724.4h0M368.4 718.3h0M365.9 727.0h0M406.4 709.9h0M388.4 713.7h0M408.9 710.0h0M386.0 708.6h0M385.5 705.3h0M376.9 716.2h0M381.4 724.3h0M388.4 730.3h0M394.9 728.0h0M395.7 728.5h0M413.2 722.7h0M391.3 714.8h0M382.2 716.5h0M427.8 727.0h0M396.6 730.8h0M418.2 729.2h0M396.9 729.5h0M409.6 729.0h0M423.9 726.4h0M379.5 726.7h0M411.6 712.2h0M367.1 723.6h0M401.8 720.4h0M388.4 713.6h0M421.0 714.5h0M413.7 724.2h0M397.9 731.1h0M362.2 725.8h0M371.0 719.9h0M391.7 726.8h0M411.6 729.6h0M379.4 725.2h0M368.8 724.6h0M372.8 711.9h0M364.9 724.9h0M407.5 729.7h0M428.0 726.2h0M429.1 723.0h0M422.0 715.5h0M374.4 703.7h0M373.1 705.0h0M411.9 723.6h0M383.8 725.8h0M365.0 709.4h0M376.5 698.2h0M369.5 717.8h0M390.4 731.2h0M366.0 703.1h0M371.6 721.2h0M391.4 722.3h0M369.1 726.3h0M382.1 725.9h0M394.0 730.7h0M366.8 712.0h0M395.4 731.8h0M406.6 724.5h0M399.6 724.4h0M381.6 722.9h0M415.3 721.9h0M381.1 727.4h0M393.0 714.8h0M394.0 729.7h0M400.8 713.0h0M374.1 713.2h0M345.6 724.7h0M363.2 714.1h0M393.7 721.8h0M371.1 718.2h0M389.2 706.2h0M394.6 731.3h0M363.1 720.3h0M379.1 728.6h0M396.1 730.9h0M388.5 725.8h0M416.6 729.5h0M423.8 719.9h0M379.0 728.6h0M411.2 721.1h0M410.3 728.1h0M391.3 722.7h0M398.9 725.9h0M398.0 731.6h0M379.1 729.9h0M408.6 718.1h0M370.8 728.3h0M424.8 725.0h0M374.9 721.3h0M422.5 727.7h0M377.3 720.0h0M366.5 709.3h0M421.8 711.4h0M398.8 731.0h0M425.1 715.6h0M409.3 714.5h0M384.0 723.1h0M381.6 728.2h0M375.1 724.5h0M415.5 721.0h0M378.9 719.8h0M405.1 726.4h0M425.8 725.6h0M371.2 727.8h0M401.7 718.9h0M375.4 720.2h0M415.2 714.3h0M413.8 719.7h0M389.0 725.3h0M414.6 725.1h0M382.5 724.5h0M395.4 731.1h0M424.0 727.6h0M418.6 721.9h0M376.2 717.9h0M402.1 729.7h0M418.9 728.1h0M374.5 681.2h0M372.6 705.8h0M368.5 707.9h0M398.2 725.9h0M404.0 712.6h0M416.5 720.7h0M387.0 730.8h0M398.4 725.1h0M398.4 730.4h0M425.1 716.4h0M416.0 728.0h0M412.9 715.6h0M380.9 722.9h0M398.5 721.5h0M381.6 709.9h0M386.4 708.4h0M418.1 722.6h0M423.0 721.0h0M406.5 728.3h0M368.7 725.3h0M363.6 715.3h0M396.7 730.3h0M394.8 730.3h0M400.3 712.1h0M389.0 679.9h0M403.2 730.2h0M390.6 713.3h0M408.5 724.5h0M381.7 730.2h0M391.0 725.0h0M374.1 708.0h0M419.0 728.3h0M382.2 719.3h0M364.6 726.3h0M386.8 713.7h0M374.4 725.8h0M370.8 710.3h0M414.0 720.4h0M390.3 719.3h0M373.0 717.6h0M377.0 727.1h0M386.2 708.7h0M375.0 726.8h0M422.2 726.8h0M389.8 725.9h0M398.0 720.2h0M390.4 709.5h0M398.2 730.2h0M404.1 730.8h0M378.7 729.9h0M407.8 710.4h0M429.1 716.9h0M402.5 731.1h0M383.3 723.6h0M393.4 724.4h0M368.5 728.6h0M420.0 714.8h0M365.4 712.6h0M396.5 731.5h0M370.9 718.7h0M396.5 729.5h0M384.0 730.6h0M374.9 707.9h0M421.0 727.9h0M402.6 722.7h0M396.8 731.5h0M387.7 713.0h0M375.1 705.2h0M408.6 727.4h0M417.7 719.4h0M380.7 723.6h0M373.8 729.1h0M407.4 724.6h0M414.7 708.1h0M422.0 728.8h0M367.5 714.6h0M387.7 716.9h0M382.8 722.1h0M427.0 725.7h0M399.4 724.7h0M419.7 720.2h0M369.4 727.8h0M386.2 717.0h0M406.3 714.1h0M414.4 702.8h0M421.4 707.7h0M426.3 727.8h0M372.0 704.3h0M376.0 706.5h0M363.1 724.7h0M423.4 726.7h0M405.9 705.6h0M423.4 724.6h0M390.2 711.3h0M378.0 717.8h0M370.2 721.3h0M374.6 708.8h0M388.4 721.6h0M386.0 714.7h0M372.5 728.1h0M403.0 723.4h0M399.4 727.9h0M398.7 723.1h0M379.0 727.5h0M387.4 714.5h0M376.0 727.2h0M380.3 725.7h0M374.5 724.1h0M384.5 711.1h0M398.6 721.2h0M377.3 715.9h0M427.6 722.2h0M417.3 716.2h0M371.4 728.8h0M395.1 730.1h0M380.6 729.8h0M372.0 713.4h0M402.0 731.1h0M398.2 731.6h0M400.9 729.6h0M375.2 708.0h0M409.8 707.6h0M415.0 709.2h0M385.3 716.0h0M419.3 722.0h0M392.5 731.5h0M397.9 720.7h0M399.9 718.4h0M392.4 731.0h0M418.5 708.9h0M382.8 705.8h0M392.2 731.2h0M379.8 718.0h0M427.3 725.5h0M401.1 730.7h0M406.0 705.8h0M382.3 723.8h0M392.0 714.8h0M420.1 722.2h0M374.8 729.3h0M394.9 728.9h0M381.6 726.2h0M400.2 729.5h0M395.1 728.9h0M387.8 729.1h0M392.5 719.8h0M384.9 724.6h0M426.7 725.1h0M390.5 719.9h0M386.5 707.1h0M389.4 699.8h0M387.0 695.8h0M418.1 710.3h0M416.0 729.1h0M409.6 715.6h0M389.7 694.1h0M415.0 722.6h0M428.4 710.4h0M400.4 718.3h0M410.7 708.2h0M419.6 722.2h0M397.4 729.2h0M399.9 705.1h0M378.5 717.4h0M381.9 729.6h0M368.0 726.8h0M405.5 704.0h0M380.8 730.0h0M401.8 728.6h0M364.8 722.3h0M365.6 713.0h0M374.1 704.9h0M365.5 715.1h0M373.2 714.8h0M388.6 728.3h0M390.0 719.2h0M404.0 730.1h0M400.9 727.6h0M373.9 723.3h0M362.6 722.1h0M402.8 720.6h0M393.5 730.3h0M369.5 723.9h0M392.8 725.3h0M384.8 713.7h0M376.3 704.7h0M399.5 731.3h0M365.0 711.6h0M403.0 730.7h0M386.0 700.7h0M382.0 729.4h0M412.0 707.4h0M381.2 723.1h0M412.5 718.2h0M364.4 727.9h0M390.5 715.3h0M401.7 730.0h0M381.7 721.3h0M380.6 728.8h0M368.6 715.2h0M375.1 711.6h0M412.1 718.3h0M423.0 727.8h0M416.2 727.9h0M364.4 724.5h0M405.6 710.6h0M399.6 709.9h0M366.2 723.4h0M410.5 729.8h0M385.3 714.8h0M394.7 730.3h0M384.0 697.7h0M372.4 727.1h0M400.7 716.7h0M368.3 724.7h0M391.6 704.5h0M385.0 729.1h0M368.5 719.5h0M391.5 727.0h0M426.8 721.0h0M390.1 727.5h0M386.8 692.2h0M413.9 729.0h0M385.9 717.7h0M412.2 729.7h0M392.1 728.3h0M397.7 720.4h0M395.7 729.7h0M404.1 724.6h0M384.1 724.7h0M421.7 723.7h0M424.2 726.6h0M369.8 693.2h0M395.0 731.9h0M412.1 718.3h0M385.3 729.3h0M378.2 719.7h0M407.5 730.5h0M392.4 731.0h0M405.4 728.8h0M379.4 728.6h0M389.5 704.8h0M373.1 708.5h0M421.9 720.4h0M366.3 725.0h0M367.5 716.8h0M380.2 720.8h0M394.8 731.9h0M392.2 712.6h0M400.6 724.3h0M434.0 723.2h0M394.7 730.6h0M371.6 717.3h0M367.2 728.1h0M372.5 703.0h0M383.9 724.2h0M429.3 725.7h0M387.1 719.7h0M385.9 689.7h0M392.1 730.6h0M427.9 722.2h0M363.0 715.4h0M418.1 727.3h0M433.2 726.8h0M387.9 729.9h0M401.3 726.2h0M389.2 715.7h0M364.6 728.2h0M408.5 727.9h0M387.2 722.6h0M397.2 730.2h0M379.9 699.1h0M368.7 692.7h0M400.4 695.2h0M414.8 725.3h0M405.1 725.0h0M377.5 728.1h0M419.0 719.5h0M364.9 716.2h0M381.6 720.2h0M417.5 708.4h0M385.8 701.8h0M380.8 704.5h0M400.6 709.6h0M385.8 728.1h0M376.3 714.2h0M415.4 726.6h0M412.3 706.2h0M411.2 714.1h0M376.2 715.5h0M394.7 728.8h0M390.3 714.4h0M421.7 713.8h0M407.7 713.7h0M387.8 712.0h0M392.9 725.2h0M372.1 714.3h0M378.1 728.8h0M396.9 728.4h0M401.6 730.8h0M380.3 702.6h0M405.2 701.2h0M403.2 722.9h0M378.4 715.7h0M390.0 712.6h0M394.7 730.1h0M411.7 721.8h0M355.6 721.2h0M388.4 712.3h0M372.8 710.5h0M399.5 722.1h0M382.0 723.0h0M388.7 708.0h0M398.7 726.2h0M418.7 707.2h0M384.3 708.5h0M401.2 727.0h0M373.4 729.2h0M407.6 728.9h0M386.1 685.2h0M380.5 729.9h0M376.5 724.8h0M377.5 708.0h0M389.9 711.0h0M369.9 724.8h0M389.2 708.1h0M391.1 715.9h0M391.5 697.6h0M370.8 706.7h0M391.0 724.9h0M344.7 725.4h0M428.4 723.5h0M429.3 722.4h0M379.8 719.5h0M376.4 723.5h0M405.3 716.6h0M371.3 711.7h0M378.9 721.1h0M414.5 712.2h0M379.0 708.2h0M383.8 729.9h0M388.4 731.0h0M381.0 727.9h0M392.7 719.7h0M360.7 727.5h0M387.8 710.4h0M387.3 725.0h0M412.0 729.9h0M406.3 723.0h0M413.4 718.2h0M404.5 716.2h0M394.5 731.4h0M405.4 710.0h0M401.1 717.0h0M379.0 718.9h0M407.9 717.6h0M366.2 718.8h0M415.3 729.0h0M417.3 728.2h0M359.8 715.6h0M373.8 723.8h0M413.1 722.6h0M416.1 715.8h0M363.6 715.4h0M372.4 706.8h0M433.2 724.7h0M392.2 712.9h0M383.9 702.7h0M374.7 713.6h0M400.3 728.9h0M383.4 714.6h0M420.2 719.6h0M390.8 728.0h0M381.2 725.3h0M405.6 708.2h0M379.9 718.5h0M377.7 712.6h0M401.5 722.0h0M375.4 718.7h0M404.4 725.3h0M378.6 696.2h0M416.0 729.4h0M396.1 730.9h0M369.9 714.5h0M377.8 714.1h0M383.3 721.0h0M387.1 730.8h0M406.9 729.0h0M391.4 701.7h0M373.1 715.9h0M404.4 728.3h0M382.0 710.6h0M388.9 712.2h0M387.8 696.9h0M412.0 720.9h0M378.9 695.4h0M423.7 711.4h0M372.0 716.7h0M407.6 712.3h0M389.8 711.8h0M375.1 719.6h0M377.8 699.4h0M392.6 730.7h0M368.2 710.4h0M371.3 705.7h0M391.0 729.5h0M402.5 727.9h0M404.8 730.2h0M372.1 725.5h0M410.4 724.5h0M378.6 716.9h0M400.1 715.2h0M416.9 719.8h0M406.8 719.5h0M400.4 730.4h0M394.9 730.6h0M405.8 720.4h0M380.9 684.9h0M405.7 721.6h0M382.1 716.2h0M418.9 708.7h0M412.8 711.2h0M382.0 728.5h0M373.8 721.0h0M405.4 729.0h0M362.5 725.7h0M392.9 720.8h0M412.4 703.4h0M392.9 719.6h0M375.2 711.1h0M376.7 714.2h0M408.9 728.3h0M379.3 727.2h0M413.5 711.3h0M368.8 720.7h0M400.9 715.3h0M365.4 713.9h0M432.4 725.9h0M399.2 730.5h0M390.5 730.3h0M455.7 724.8h0M390.5 726.2h0M410.5 724.1h0M377.9 720.2h0M420.0 719.9h0M409.6 722.8h0M398.0 726.0h0M421.5 717.6h0M373.8 701.8h0M399.9 729.2h0M390.8 721.2h0M415.8 726.5h0M389.5 712.7h0M410.3 722.5h0M371.0 712.5h0M362.2 714.9h0M412.1 714.4h0M388.8 712.2h0M369.3 727.1h0M381.9 718.1h0M401.9 729.5h0M373.7 728.0h0M387.4 730.9h0M398.0 729.9h0M370.5 712.9h0M413.3 726.2h0M386.4 728.0h0M373.9 716.6h0M405.4 721.4h0M365.6 712.4h0M377.2 724.4h0M413.5 721.0h0M376.9 706.3h0M375.2 700.3h0M386.8 715.3h0M408.0 719.5h0M394.6 730.6h0M396.9 727.1h0M425.9 725.6h0M419.1 707.4h0M403.0 728.3h0M372.5 727.4h0M379.0 726.9h0M386.1 697.2h0M382.4 715.5h0M409.7 723.0h0M380.8 716.9h0M392.0 730.6h0M403.1 729.0h0M427.4 715.6h0M374.3 727.3h0M393.2 723.3h0M379.6 716.2h0M381.3 727.9h0M372.0 721.8h0M406.3 723.9h0M373.9 722.2h0M366.4 718.9h0M423.7 724.6h0M413.6 726.9h0M402.3 723.2h0M393.5 729.3h0M415.1 720.9h0M417.4 707.1h0M411.3 697.5h0M415.5 717.6h0M364.4 722.6h0M388.2 703.6h0M390.7 722.6h0M401.7 705.1h0M401.9 725.8h0M381.1 719.4h0M407.1 728.8h0M407.1 730.6h0M390.7 708.9h0M433.5 727.3h0M408.9 709.6h0M384.2 725.1h0M421.2 728.9h0M412.8 719.9h0M427.5 719.1h0M398.5 725.1h0M399.5 717.1h0M371.5 723.1h0M362.5 725.9h0M422.7 716.2h0M375.6 710.2h0M383.6 726.1h0M387.4 709.8h0M379.9 726.0h0M378.4 713.5h0M417.4 724.2h0M385.7 700.5h0M407.6 730.6h0M422.8 717.6h0M402.6 711.1h0M392.0 706.2h0M417.4 727.1h0M386.0 691.8h0M402.7 730.6h0M383.9 716.7h0M418.7 728.6h0M424.2 727.0h0M402.2 715.6h0M363.8 726.8h0M377.6 701.7h0M384.1 722.2h0M396.0 729.2h0M383.8 714.9h0M375.9 723.9h0M376.5 728.6h0M380.2 714.9h0M381.7 716.2h0M359.3 726.6h0M361.8 726.5h0M377.7 709.7h0M387.8 723.8h0M418.6 728.6h0M399.4 719.0h0M384.6 728.5h0M408.0 722.7h0M401.5 699.1h0M416.8 729.4h0M389.5 691.2h0M391.8 728.4h0M400.7 730.9h0M373.6 721.0h0M423.0 724.1h0M375.6 690.3h0M387.2 729.0h0M386.8 714.7h0M376.4 710.9h0M417.0 721.3h0M401.8 725.4h0M384.5 726.1h0M384.1 689.2h0M383.7 726.3h0M372.8 706.4h0M387.8 730.0h0M405.4 711.1h0M417.5 729.3h0M385.8 730.0h0M363.7 709.5h0M398.7 722.5h0M385.3 730.5h0M392.7 721.0h0M376.1 709.3h0M412.6 712.5h0M427.5 721.7h0M377.4 725.4h0M387.1 726.6h0M380.5 727.3h0M378.5 726.1h0M400.9 730.0h0M402.8 728.6h0M408.0 721.7h0M370.4 712.9h0M378.8 715.0h0M402.3 729.8h0M376.0 724.7h0M374.8 723.0h0M392.5 722.7h0M424.8 718.9h0M383.8 724.9h0M398.5 726.9h0M374.6 727.4h0M423.4 725.3h0M382.1 700.0h0M396.4 728.8h0M379.9 729.1h0M386.3 697.5h0M424.3 726.5h0M398.1 721.7h0M411.8 726.1h0M399.2 715.2h0M378.2 720.4h0M423.7 724.9h0M391.8 721.6h0M398.1 728.8h0M418.7 728.2h0M376.6 726.4h0M380.7 719.1h0M406.9 710.6h0M404.4 710.6h0M377.5 709.8h0M420.2 724.9h0M383.8 712.3h0M390.3 715.5h0M383.6 721.2h0M363.4 725.3h0M366.8 726.7h0M395.4 732.0h0M373.1 727.6h0M389.1 720.2h0M418.0 720.5h0M407.4 730.2h0M376.8 724.5h0M366.2 717.3h0M401.1 723.1h0M376.0 707.7h0M377.3 723.8h0M409.5 724.0h0M428.7 728.0h0M387.6 727.3h0M375.1 728.7h0M416.8 726.3h0M409.5 726.8h0M414.2 719.4h0M423.0 727.3h0M424.8 726.3h0M382.9 729.3h0M402.2 718.2h0M405.7 730.6h0M404.2 712.3h0M369.6 713.9h0M388.7 707.1h0M377.5 721.3h0M398.3 729.7h0M416.7 726.6h0M379.8 728.7h0M417.5 728.8h0M419.4 704.7h0M391.4 712.0h0M371.9 703.9h0M425.0 724.6h0M408.6 720.9h0M375.3 728.4h0M427.0 714.0h0M367.7 694.1h0M419.2 727.3h0M394.3 726.5h0M411.1 722.0h0M401.9 726.2h0M401.9 731.2h0M423.2 725.0h0M369.4 703.7h0M370.5 724.9h0M392.2 730.1h0M389.1 727.8h0M388.0 710.1h0M431.0 726.4h0M392.8 715.5h0M383.2 717.5h0M390.5 720.1h0M369.8 721.5h0M378.9 700.2h0M381.5 730.2h0M405.6 715.1h0M398.7 730.4h0M394.1 729.6h0M392.7 729.3h0M386.0 722.6h0M436.4 726.7h0M406.3 727.6h0M397.0 731.8h0M384.9 730.4h0M365.8 726.7h0M404.3 715.2h0M436.9 723.5h0M375.3 728.6h0M379.1 727.7h0M430.3 727.1h0M384.2 714.9h0M422.7 726.0h0M436.6 724.0h0M390.3 726.1h0M377.8 697.2h0M391.5 727.8h0M416.3 721.4h0M406.4 722.2h0M408.7 726.4h0M389.1 726.2h0M374.7 726.4h0M371.4 723.3h0M384.0 722.8h0M383.5 711.4h0M450.8 725.3h0M386.7 726.3h0M428.2 719.0h0M407.4 719.4h0M400.4 717.0h0M392.9 725.2h0M396.9 731.0h0M423.7 713.8h0M421.5 721.4h0M379.3 702.6h0M378.9 705.7h0M379.7 722.5h0M375.2 712.9h0M375.8 717.2h0M405.6 720.4h0M404.0 724.1h0M368.1 726.8h0M395.5 729.3h0M381.9 724.7h0M382.5 726.9h0M367.2 717.6h0M411.3 729.2h0M407.9 725.4h0M412.4 703.1h0M419.5 729.0h0M412.0 713.0h0M412.0 728.3h0M387.9 729.1h0M383.2 728.6h0M397.0 730.7h0M369.3 692.5h0M400.5 712.1h0M362.8 724.9h0M382.4 715.4h0M380.7 725.3h0M375.4 715.1h0M409.8 728.8h0M396.2 730.6h0M419.6 724.2h0M368.7 726.2h0M367.0 719.2h0M362.5 718.2h0M386.8 725.9h0M429.1 726.5h0M400.8 718.8h0M373.2 715.8h0M405.8 728.9h0M402.2 726.2h0M375.7 722.9h0M365.7 714.6h0M374.9 720.8h0M411.0 713.6h0M419.3 725.1h0M406.2 726.1h0M412.0 730.0h0M408.8 713.2h0M387.7 707.9h0M377.6 707.8h0M388.5 717.0h0M391.2 720.4h0M405.3 718.1h0M388.7 729.5h0M394.2 731.8h0M415.1 728.1h0M376.1 713.4h0M374.8 722.9h0M371.6 718.2h0M423.2 710.1h0M363.9 727.9h0M426.7 721.7h0M403.3 706.7h0M423.2 728.2h0M386.6 721.2h0M395.6 731.2h0M398.0 724.6h0M369.5 711.4h0M421.9 724.7h0M408.9 717.6h0M407.8 730.5h0M397.1 731.4h0M375.5 729.5h0M367.7 721.1h0M391.0 729.4h0M409.0 720.0h0M422.7 704.7h0M406.2 720.1h0M367.8 726.4h0M411.3 727.3h0M383.3 721.3h0M369.3 719.9h0M394.2 731.5h0M370.3 722.1h0M408.1 717.9h0M378.4 727.9h0M383.0 717.9h0M399.9 713.3h0M419.3 723.5h0M401.2 725.3h0M364.6 726.5h0M432.7 725.8h0M407.3 730.1h0M395.2 731.9h0M420.4 725.2h0M378.0 710.9h0M390.3 730.8h0M409.6 708.5h0M383.5 725.9h0M402.1 723.6h0M380.7 730.1h0M404.3 721.5h0M374.0 718.9h0M420.2 709.8h0M374.9 715.1h0M386.9 722.9h0M385.3 691.9h0M372.7 722.9h0M395.1 727.1h0M389.4 728.1h0M400.2 718.6h0M386.8 713.0h0M395.0 730.6h0M399.9 723.4h0M427.4 726.9h0M385.6 729.6h0M380.8 708.5h0M409.1 722.6h0M411.2 730.0h0M419.3 724.5h0M418.5 729.2h0M411.8 710.4h0M416.3 726.5h0M390.3 729.1h0M393.7 729.0h0M388.5 728.3h0M366.1 725.4h0M419.0 719.2h0M393.6 725.5h0M368.9 718.8h0M371.3 727.8h0M376.4 723.5h0M379.1 718.2h0M422.2 725.3h0M391.9 721.5h0M378.3 725.7h0M366.1 725.7h0M382.0 730.3h0M387.7 714.4h0M388.0 724.1h0M413.3 714.2h0M385.9 722.0h0M380.1 718.9h0M369.5 724.3h0M409.2 726.7h0M386.9 721.9h0M423.7 719.7h0M367.9 726.6h0M417.7 728.6h0M388.5 729.4h0M384.4 712.4h0M422.4 726.6h0M407.1 725.6h0M374.4 723.4h0M379.2 729.7h0M404.5 730.6h0M413.5 711.2h0M381.9 718.2h0M366.7 728.0h0M388.2 712.4h0M390.7 730.5h0M377.9 713.7h0M390.2 713.1h0M397.2 729.6h0M405.1 724.3h0M414.0 723.2h0M396.0 730.5h0M416.6 717.6h0M371.5 721.4h0M407.0 722.9h0M408.8 722.5h0M364.7 721.4h0M413.4 727.3h0M405.0 728.1h0M372.5 724.1h0M404.9 720.4h0M421.9 714.6h0M366.4 705.1h0M400.1 725.6h0M347.7 725.6h0M420.3 727.0h0M355.7 723.9h0M376.2 728.6h0M383.4 713.6h0M421.1 715.9h0M399.2 728.6h0M424.9 727.7h0M380.0 728.3h0M386.3 715.1h0M382.9 727.5h0M398.5 727.4h0M412.5 715.4h0M376.5 712.2h0M381.1 730.2h0M403.1 709.0h0M373.0 713.2h0M421.7 723.9h0M379.3 726.9h0M387.4 729.1h0M427.3 717.9h0M373.3 728.8h0M380.5 724.7h0M401.2 729.3h0M419.8 729.0h0M445.7 726.0h0M408.6 727.3h0M388.8 714.7h0M381.7 698.9h0M423.2 718.5h0M387.9 728.4h0M383.5 729.5h0M411.1 726.8h0M392.1 724.9h0M391.6 726.6h0M402.1 706.4h0M411.9 714.4h0M421.7 716.5h0M420.2 717.0h0M370.9 722.4h0M381.2 710.0h0M381.2 680.6h0M411.6 724.1h0M404.6 704.6h0M377.4 722.5h0M380.4 730.0h0M376.8 725.0h0M375.4 699.5h0M366.9 715.1h0M401.5 728.6h0M364.2 711.2h0M411.2 725.6h0M362.2 728.0h0M399.3 725.8h0M390.7 687.9h0M375.9 713.7h0M367.7 708.9h0M401.1 730.5h0M363.0 727.4h0M413.8 728.1h0M377.5 723.2h0M412.5 724.0h0M389.2 730.6h0M348.0 726.2h0M389.4 731.0h0M401.5 722.4h0M405.9 725.8h0M408.5 726.6h0M379.7 708.4h0M366.4 728.4h0M407.4 697.8h0M371.2 725.1h0M365.4 717.7h0M379.5 703.7h0M401.9 714.3h0M397.0 731.8h0M426.6 725.9h0M411.2 725.9h0M413.3 720.3h0M377.6 690.8h0M399.3 722.9h0M383.0 716.3h0M424.7 727.0h0M384.3 718.1h0M346.0 725.0h0M395.0 727.4h0M380.6 721.2h0M389.3 724.0h0M398.8 722.0h0M369.1 721.3h0M376.7 728.1h0M401.9 713.5h0M378.0 708.9h0M372.0 728.0h0M371.7 724.7h0M416.7 724.7h0M380.3 724.3h0M374.5 724.8h0M397.7 726.3h0M367.0 704.2h0M382.3 727.5h0M413.4 711.9h0M423.1 725.4h0M382.8 729.7h0M409.2 729.2h0M376.1 713.7h0M377.2 703.6h0M424.4 717.8h0M419.7 721.3h0M401.7 723.5h0M421.0 721.3h0M419.9 722.2h0M380.9 716.5h0M387.8 713.0h0M382.6 716.3h0M408.7 716.3h0M410.6 719.0h0M373.0 715.1h0M383.2 700.8h0M370.4 705.1h0M371.7 715.6h0M376.0 717.9h0M425.9 714.5h0M389.6 717.7h0M401.6 724.6h0M415.0 729.2h0M390.8 726.5h0M382.0 726.1h0M369.6 716.0h0M413.0 725.3h0M385.2 724.6h0M423.2 726.4h0M426.8 715.0h0M403.2 699.2h0M378.1 726.5h0M369.9 708.8h0M407.5 728.3h0M365.5 708.3h0M407.9 722.7h0M418.7 718.1h0M376.3 727.6h0M386.2 716.9h0M411.1 715.4h0M373.1 701.9h0M385.8 722.9h0M407.8 726.4h0M412.8 723.8h0M369.3 728.8h0M385.7 723.0h0M414.5 715.4h0M391.4 727.2h0M396.1 729.0h0M374.9 709.9h0M366.4 705.6h0M407.2 725.1h0M381.3 727.8h0M364.7 728.2h0M422.6 726.4h0M368.3 709.6h0M420.6 715.3h0M372.6 723.2h0M378.8 730.0h0M386.1 702.1h0M380.8 721.0h0M429.1 720.9h0M406.0 726.2h0M419.8 727.5h0M402.6 707.2h0M411.7 727.2h0M366.0 707.7h0M368.7 705.5h0M387.2 715.6h0M408.8 728.9h0M412.9 700.4h0M383.3 711.6h0M397.4 730.8h0M395.9 729.8h0M374.5 698.3h0M368.1 716.4h0M368.3 727.8h0M387.0 725.8h0M374.1 727.8h0M380.0 730.1h0M412.5 717.6h0M411.2 723.9h0M367.6 726.9h0M402.1 725.1h0M366.1 713.8h0M377.6 723.3h0M373.8 724.1h0M370.0 723.5h0M382.6 721.4h0M425.1 725.3h0M385.6 727.8h0M370.4 702.6h0M398.3 729.5h0M412.1 707.9h0M403.6 721.7h0M413.0 711.6h0M398.6 726.0h0M414.2 700.4h0M377.2 729.8h0M382.2 725.0h0M428.4 722.2h0M408.1 718.1h0M401.7 725.1h0M383.3 722.2h0M414.3 703.3h0M407.6 709.4h0M373.3 714.1h0M387.6 715.5h0M403.4 720.4h0M378.5 729.5h0M425.4 692.8h0M408.2 713.6h0M381.0 677.3h0M427.2 722.0h0M400.2 710.1h0M415.9 729.1h0M364.6 723.1h0M379.7 705.0h0M383.1 712.5h0M377.3 719.2h0M393.2 727.5h0M404.8 717.2h0M404.2 729.8h0M376.4 722.6h0M408.9 722.0h0M394.2 730.6h0M375.5 728.2h0M400.9 716.5h0M373.9 728.0h0M395.4 731.9h0M422.8 719.8h0M421.9 711.3h0M379.6 721.6h0M407.6 726.1h0M388.6 717.6h0M436.9 726.5h0M371.5 725.5h0M375.9 728.5h0M392.9 715.7h0M382.0 730.3h0M380.5 697.1h0M422.2 714.2h0M377.5 729.5h0M383.4 729.9h0M367.5 711.2h0M393.7 731.6h0M425.6 725.2h0M372.9 700.2h0M422.5 726.7h0M422.3 711.2h0M415.0 708.2h0M374.7 718.9h0M419.1 717.4h0M371.9 727.2h0M417.2 719.8h0M395.0 730.5h0M368.5 720.1h0M366.5 722.0h0M383.1 717.3h0M396.5 731.2h0M429.3 724.7h0M375.0 728.0h0M406.6 727.1h0M415.5 711.9h0M408.6 712.4h0M420.6 716.1h0M419.7 727.0h0M367.9 704.5h0M394.4 731.8h0M412.9 727.6h0M394.7 730.9h0M425.8 728.3h0M400.4 721.8h0M393.8 727.3h0M411.0 722.7h0M414.2 715.8h0M421.6 718.2h0M380.9 721.3h0M415.7 714.2h0M423.7 728.5h0M363.5 716.8h0M365.2 728.3h0M398.8 725.0h0M399.7 730.5h0M370.2 728.8h0M383.9 716.4h0M375.5 715.1h0M378.8 729.1h0M394.1 731.2h0M401.8 729.4h0M421.6 726.1h0M411.6 724.1h0M384.0 730.2h0M393.5 725.5h0M412.9 729.8h0M421.5 709.2h0M428.5 726.9h0M418.2 723.0h0M405.2 713.5h0M395.9 731.9h0M382.5 708.2h0M375.9 727.8h0M418.5 723.4h0M416.4 726.6h0M387.4 706.6h0M387.5 729.1h0M395.2 731.0h0M381.2 705.3h0M349.0 724.4h0M396.3 731.9h0M391.9 710.6h0M420.9 717.3h0M376.4 728.8h0M427.4 720.7h0M419.9 717.5h0M377.0 724.1h0M362.9 720.0h0M379.3 728.9h0M384.2 717.9h0M394.7 731.0h0M415.9 711.1h0M423.9 722.8h0M398.7 698.8h0M410.5 718.6h0M404.3 711.2h0M414.2 713.8h0M358.2 706.9h0M415.9 724.4h0M390.1 712.4h0M375.3 719.0h0M390.4 731.1h0M393.4 721.5h0M392.2 727.2h0M396.1 730.0h0M403.2 730.6h0M386.0 730.3h0M374.6 721.4h0M406.9 716.7h0M384.6 723.3h0M386.5 707.1h0M380.1 696.7h0M401.2 712.0h0M378.4 705.3h0M407.2 725.5h0M363.0 719.3h0M373.3 716.9h0M404.2 709.5h0M411.9 724.3h0M400.7 718.3h0M365.3 711.6h0M389.5 711.0h0M380.5 717.1h0M377.2 728.0h0M383.8 712.1h0M374.4 728.6h0M377.2 711.7h0M385.5 718.5h0M398.6 726.0h0M407.0 720.0h0M397.0 730.8h0M364.4 716.9h0M408.6 727.7h0M401.6 725.0h0M371.2 711.3h0M378.3 709.2h0M406.3 729.4h0M393.8 728.8h0M367.2 728.3h0M370.8 729.0h0M376.4 688.5h0M401.4 722.5h0M380.0 724.4h0M381.2 717.6h0M370.8 696.6h0M414.6 728.8h0M384.8 706.6h0M385.3 708.4h0M418.2 726.2h0M376.5 725.7h0M419.7 724.3h0M375.7 723.3h0M384.0 728.9h0M393.9 726.0h0M378.1 723.2h0M406.6 729.3h0M411.0 715.0h0M368.4 724.9h0M403.9 724.0h0M423.4 726.5h0M414.5 722.9h0M416.4 724.9h0M387.8 722.7h0M387.4 725.2h0M425.4 728.3h0M394.5 728.2h0M387.2 726.7h0M397.1 728.8h0M374.5 726.4h0M376.5 719.6h0M401.0 731.3h0M427.3 725.4h0M378.8 699.2h0M412.5 723.6h0M395.7 731.1h0M439.8 726.1h0M375.7 726.4h0M383.6 719.0h0M398.3 729.3h0M410.9 725.8h0M424.0 728.3h0M368.6 721.1h0M379.9 729.0h0M416.7 727.5h0M388.1 727.5h0M397.5 727.9h0M371.4 704.8h0M376.9 723.2h0M423.2 712.4h0M396.7 729.0h0M368.8 721.5h0M405.4 719.6h0M397.1 731.1h0M386.9 712.6h0M368.6 716.7h0M416.6 713.7h0M380.0 700.6h0M377.5 719.6h0M367.8 728.4h0M423.5 719.5h0M365.1 723.7h0M383.6 729.3h0M395.8 731.5h0M383.8 699.1h0M399.1 723.9h0M375.4 717.9h0M369.5 717.5h0M366.9 728.3h0M422.3 713.1h0M391.1 707.0h0M423.7 712.9h0M427.5 726.2h0M385.2 730.6h0M379.7 727.2h0M409.9 728.1h0M371.5 713.6h0M403.8 707.4h0M376.5 728.4h0M419.4 727.8h0M382.9 722.3h0M402.1 724.9h0M385.6 730.2h0M388.6 720.7h0M374.1 713.8h0M380.9 729.0h0M401.3 705.4h0M417.5 711.4h0M375.6 721.3h0M384.9 721.0h0M388.1 696.5h0M385.0 704.9h0M382.6 708.5h0M383.5 718.7h0M407.4 728.4h0M390.5 715.4h0M426.6 724.3h0M390.3 724.6h0M401.9 725.5h0M393.0 713.2h0M374.1 717.7h0M397.4 729.1h0M390.4 727.8h0M384.5 730.0h0M392.3 716.9h0M411.2 712.9h0M402.4 726.6h0M395.3 730.5h0M403.6 729.2h0M379.6 720.9h0M382.9 727.6h0M401.1 717.2h0M380.7 727.9h0M393.9 725.7h0M398.5 726.6h0M391.0 715.7h0M362.8 724.6h0M387.3 703.9h0M381.3 720.5h0M379.4 728.9h0M370.9 721.6h0M365.0 710.6h0M411.0 711.8h0M392.1 708.1h0M399.3 724.5h0M387.3 730.6h0M382.2 727.0h0M413.2 709.5h0M363.5 726.2h0M420.3 725.4h0M375.8 724.6h0M422.7 721.7h0M410.5 718.2h0M401.6 729.4h0M379.1 696.3h0M396.3 731.7h0M382.8 726.3h0M387.3 729.6h0M375.6 716.1h0M388.4 700.6h0M376.9 729.2h0M383.0 691.3h0M407.9 709.0h0M424.3 726.7h0M403.8 719.7h0M370.6 689.4h0M386.0 727.4h0M366.8 715.3h0M387.5 724.6h0M411.3 727.6h0M403.2 721.2h0M386.8 723.2h0M404.4 716.4h0M391.1 722.7h0M395.8 731.1h0M375.3 711.8h0M373.8 727.2h0M405.2 725.9h0M383.7 729.0h0M399.8 690.0h0M416.1 716.1h0M362.8 722.2h0M422.9 728.3h0M386.6 730.6h0M405.3 721.2h0M368.8 713.7h0M370.0 726.4h0M395.9 730.0h0M391.9 726.9h0M375.8 727.5h0M403.9 727.8h0M405.4 727.3h0M378.5 725.6h0M363.5 717.5h0M379.1 723.3h0M374.7 719.4h0M363.8 722.9h0M419.0 725.6h0M406.5 713.9h0M411.1 693.2h0M410.0 719.4h0M380.0 709.6h0M392.2 715.8h0M401.1 714.1h0M399.0 711.3h0M364.2 727.8h0M402.0 725.1h0M377.8 723.3h0M377.1 729.7h0M395.9 730.1h0M376.6 723.4h0M365.9 724.4h0M381.9 712.8h0M405.5 718.8h0M384.2 709.5h0M366.2 728.4h0M382.9 728.2h0M393.1 730.6h0M375.8 723.0h0M394.8 731.2h0M403.2 717.3h0M409.6 696.8h0M375.6 714.8h0M394.9 730.6h0M426.9 722.6h0M390.3 731.1h0M388.8 692.8h0M379.0 728.4h0M391.9 706.5h0M393.1 723.5h0M366.8 723.9h0M386.9 707.1h0M364.6 722.3h0M380.5 725.4h0M371.9 728.4h0M429.2 726.8h0M389.5 729.5h0M384.8 725.3h0M387.0 707.5h0M427.9 723.7h0M414.1 717.8h0M379.5 711.1h0M395.3 730.5h0M391.9 718.1h0M381.6 725.4h0M374.3 704.9h0M393.2 714.0h0M414.7 711.3h0M389.2 728.3h0M408.1 698.3h0M411.8 729.7h0M375.1 699.1h0M367.0 703.0h0M416.4 691.0h0M412.6 726.2h0M382.7 688.7h0M390.9 716.4h0M412.0 701.8h0M396.8 729.6h0M393.7 722.5h0M394.7 729.6h0M350.7 722.7h0M403.2 708.8h0M416.2 729.4h0M374.5 716.7h0M384.2 723.6h0M377.8 708.5h0M425.3 716.2h0M389.9 709.0h0M400.9 729.8h0M400.9 721.4h0M367.6 722.7h0M421.4 718.9h0M371.2 716.3h0M391.4 723.7h0M405.3 724.8h0M389.8 702.3h0M407.1 715.9h0M390.8 727.7h0M381.4 728.2h0M411.9 727.5h0M405.0 709.7h0M389.6 699.5h0M424.7 725.0h0M363.4 715.8h0M364.6 717.3h0M389.7 706.4h0M391.4 709.8h0M378.6 691.8h0M419.2 719.1h0M366.6 718.1h0M399.3 716.4h0M376.1 723.2h0M378.3 729.9h0M425.4 727.5h0M399.3 729.8h0M427.5 727.5h0M399.8 722.6h0M411.2 715.1h0M411.0 727.4h0M389.7 731.1h0M385.1 719.8h0M396.0 731.0h0M371.8 726.4h0M396.0 730.2h0M412.7 727.1h0M374.5 728.8h0M402.7 727.7h0M384.2 718.7h0M390.0 726.2h0M417.7 721.2h0M413.5 728.7h0M407.0 708.2h0M376.3 725.2h0M383.0 722.2h0M367.7 711.8h0M405.0 729.1h0M376.8 703.4h0M362.0 716.0h0M391.8 728.9h0M420.7 715.3h0M432.1 718.3h0M377.2 690.7h0M423.4 728.6h0M391.7 727.9h0M368.9 724.7h0M397.6 727.8h0M421.5 718.3h0M422.6 721.5h0M402.0 724.0h0M389.4 730.8h0M409.8 715.6h0M378.2 721.6h0M400.2 721.9h0M404.1 713.5h0M412.0 715.2h0M369.9 721.7h0M392.2 709.5h0M386.3 722.2h0M387.4 699.2h0M376.4 702.4h0M366.9 721.2h0M381.5 721.6h0M400.1 722.2h0M360.3 723.2h0M407.9 718.4h0M374.2 698.7h0M399.9 714.1h0M380.4 707.1h0M392.2 730.0h0M417.7 726.7h0M382.1 724.1h0M366.4 720.8h0M410.4 730.2h0M367.3 721.3h0M365.3 728.2h0M368.9 721.3h0M375.0 723.9h0M422.3 719.0h0M399.6 679.9h0M415.1 719.2h0M417.1 694.2h0M448.8 675.1h0M371.2 716.3h0M411.7 715.0h0M372.3 704.0h0M382.2 712.7h0M363.7 676.2h0M397.6 712.6h0M421.7 711.8h0M422.5 700.3h0M360.3 678.3h0M361.0 693.7h0M364.2 695.5h0M399.8 718.0h0M377.4 707.1h0M418.4 708.8h0M405.3 698.3h0M360.2 696.8h0M429.6 711.3h0M371.3 718.0h0M393.3 682.3h0M389.9 711.8h0M419.0 681.2h0M390.5 708.7h0M404.1 675.2h0M382.0 682.6h0M426.8 713.0h0M368.1 718.7h0M433.5 703.9h0M365.8 687.7h0M395.1 676.9h0M397.1 675.4h0M376.2 688.0h0M387.7 692.0h0M351.4 711.5h0M425.4 699.2h0M379.9 700.1h0M429.0 717.0h0M381.3 681.4h0M376.1 684.9h0M416.2 707.6h0M390.6 718.8h0M404.1 696.1h0M387.4 704.7h0M396.2 694.0h0M412.2 703.1h0M416.8 685.8h0M404.7 708.6h0M415.2 690.8h0M356.8 679.0h0M367.9 719.1h0M398.1 715.3h0M364.0 718.1h0M389.2 703.8h0M397.2 700.1h0M401.2 710.0h0M394.9 679.5h0M365.4 677.5h0M373.8 626.4h0M374.6 630.2h0M377.2 650.6h0M380.5 654.4h0M381.4 655.7h0M383.9 665.8h0M387.3 670.9h0M415.9 650.6h0M414.2 654.4h0M407.5 662.0h0" stroke="#000080" stroke-width="2.55" stroke-linecap="round" fill="none"/>
<path d="M311.6 618.1H386.2V719.3H311.6Z" fill="none" stroke="#cc2222" stroke-width="2.2" stroke-dasharray="2.4 0.5"/>
<path d="M405.6 618.3H479.1V719.3H405.6Z" fill="none" stroke="#2a8c5c" stroke-width="2.2" stroke-dasharray="2.4 0.5"/>
<text x="309.0" y="734.2" font-size="6.2" text-anchor="end" fill="#333">0</text>
<text x="309.0" y="721.5" font-size="6.2" text-anchor="end" fill="#333">1</text>
<text x="309.0" y="708.8" font-size="6.2" text-anchor="end" fill="#333">2</text>
<text x="309.0" y="696.0" font-size="6.2" text-anchor="end" fill="#333">3</text>
<text x="309.0" y="683.3" font-size="6.2" text-anchor="end" fill="#333">4</text>
<text x="309.0" y="670.6" font-size="6.2" text-anchor="end" fill="#333">5</text>
<text x="309.0" y="657.9" font-size="6.2" text-anchor="end" fill="#333">6</text>
<text x="309.0" y="645.1" font-size="6.2" text-anchor="end" fill="#333">7</text>
<text x="309.0" y="632.4" font-size="6.2" text-anchor="end" fill="#333">8</text>
<text x="309.0" y="619.7" font-size="6.2" text-anchor="end" fill="#333">9</text>
<text x="311.4" y="738.6" font-size="6.2" text-anchor="middle" fill="#333">-10</text>
<text x="328.3" y="738.6" font-size="6.2" text-anchor="middle" fill="#333">-8</text>
<text x="345.1" y="738.6" font-size="6.2" text-anchor="middle" fill="#333">-6</text>
<text x="362.0" y="738.6" font-size="6.2" text-anchor="middle" fill="#333">-4</text>
<text x="378.8" y="738.6" font-size="6.2" text-anchor="middle" fill="#333">-2</text>
<text x="395.7" y="738.6" font-size="6.2" text-anchor="middle" fill="#333">0</text>
<text x="412.6" y="738.6" font-size="6.2" text-anchor="middle" fill="#333">2</text>
<text x="429.4" y="738.6" font-size="6.2" text-anchor="middle" fill="#333">4</text>
<text x="446.3" y="738.6" font-size="6.2" text-anchor="middle" fill="#333">6</text>
<text x="463.1" y="738.6" font-size="6.2" text-anchor="middle" fill="#333">8</text>
<text x="480.0" y="738.6" font-size="6.2" text-anchor="middle" fill="#333">10</text>
<text x="315.4" y="629.8" font-size="10.8" font-style="italic" fill="#222">FLA2</text>
<text x="314.6" y="642.2" font-size="10.8" font-style="italic" fill="#222">684 peptides</text>
<text x="477.6" y="629.8" font-size="10.8" font-style="italic" text-anchor="end" fill="#222">FLB1</text>
<text x="478.6" y="642.2" font-size="10.8" font-style="italic" text-anchor="end" fill="#222">370 peptides</text>
<text x="354.2" y="749.4" font-size="10.85">Log2(FLB1/FLA2)</text>
<text x="0" y="0" font-size="11.0" text-anchor="middle" transform="translate(300.8,672.7) rotate(-90)">-Log10(p-value)</text>
<path d="M92.6 489L57.7 473.4L57.7 492.4L92.6 508Z" fill="#a3a37c" stroke="#1a1a40" stroke-width="0.6"/>
<path d="M92.6 489L57.7 473.4A70 18 0 0 1 92.6 471Z" fill="#ffffcc" stroke="#1a1a40" stroke-width="0.6"/>
<path d="M81.5 492L81.5 512L11.8 512L11.5 492Z" fill="#5e1a3c" stroke="#1a1a40" stroke-width="0.6"/>
<path d="M81.5 492L11.5 492A70 18.3 0 0 1 45.4 476.2Z" fill="#993366" stroke="#1a1a40" stroke-width="0.6"/>
<path d="M40.8 497.4A69.8 18.2 0 0 0 180.39999999999998 497.4L180.39999999999998 516.9A69.8 18.2 0 0 1 40.8 516.9Z" fill="#5c5ca8" stroke="#1a1a40" stroke-width="0.7"/>
<path d="M110.6 497.4L110.6 479.2A69.8 18.2 0 1 1 40.8 497.4Z" fill="#9c9cff" stroke="#1a1a40" stroke-width="0.7"/>
<path d="M362.5 487.5L352.6 471.8L352.6 489.5L362.5 505Z" fill="#a3a37c" stroke="#1a1a40" stroke-width="0.6"/>
<path d="M362.5 487.5L352.6 471.8A60 14.5 0 0 1 362.5 471.4Z" fill="#ffffcc" stroke="#1a1a40" stroke-width="0.6"/>
<path d="M301.6 481.6L354 487.7L354 503.5L301.6 497.2Z" fill="#5e1a3c" stroke="#1a1a40" stroke-width="0.6"/>
<path d="M354 487.7L301.6 481.6A60 14.5 0 0 1 343.4 472.3Z" fill="#993366" stroke="#1a1a40" stroke-width="0.6"/>
<path d="M311.8 493.6A60.0 14.8 0 0 0 431.8 493.6L431.8 511.6A60.0 14.8 0 0 1 311.8 511.6Z" fill="#5c5ca8" stroke="#1a1a40" stroke-width="0.7"/>
<path d="M371.8 493.6L371.8 478.8A60.0 14.8 0 1 1 313.0 490.2Z" fill="#9c9cff" stroke="#1a1a40" stroke-width="0.7"/>
<text x="9.0" y="446.3" font-size="10.8" fill="#111">Class II: 2,080 (22 %)</text>
<text x="83.6" y="462.6" font-size="10.8" fill="#111">Class III: 757 (8 %)</text>
<text x="119.6" y="550.4" font-size="10.8" fill="#111">Class I: 6,622 (70%)</text>
<line x1="28.2" y1="449.0" x2="35.2" y2="484.2" stroke="#000" stroke-width="2.2"/>
<line x1="106.9" y1="466.2" x2="86.9" y2="478.2" stroke="#000" stroke-width="2.2"/>
<line x1="125.6" y1="506.7" x2="135.8" y2="541.3" stroke="#000" stroke-width="2.2"/>
<text x="275.8" y="461.0" font-size="10.8" fill="#111">1,659 (17.5 %)</text>
<text x="370.6" y="450.0" font-size="10.8" fill="#111">338 (3.6 %)</text>
<text x="400.6" y="546.8" font-size="10.8" fill="#111">7,462 (78.9 %)</text>
<line x1="287.0" y1="464.5" x2="322.0" y2="477.1" stroke="#000" stroke-width="2.2"/>
<line x1="374.4" y1="452.9" x2="357.5" y2="473.0" stroke="#000" stroke-width="2.2"/>
<line x1="390.8" y1="498.5" x2="403.0" y2="533.8" stroke="#000" stroke-width="2.2"/>
<rect x="189.0" y="448.3" width="59.2" height="72.6" fill="#fff" stroke="#222" stroke-width="1.3"/>
<text x="192.0" y="459.4" font-size="10.6" fill="#111">Confidence</text>
<line x1="192.0" y1="461.9" x2="245.6" y2="461.9" stroke="#111" stroke-width="1.1"/>
<rect x="193.0" y="468.6" width="7.4" height="7.6" fill="#9c9cff" stroke="#222" stroke-width="1.0"/>
<text x="203.2" y="476.6" font-size="10.6" fill="#111">high</text>
<rect x="193.0" y="486.6" width="7.4" height="7.6" fill="#993366" stroke="#222" stroke-width="1.0"/>
<text x="203.2" y="494.6" font-size="10.6" fill="#111">medium</text>
<rect x="193.0" y="504.8" width="7.4" height="7.6" fill="#ffffcc" stroke="#222" stroke-width="1.0"/>
<text x="203.2" y="512.8" font-size="10.6" fill="#111">low</text>
<rect x="468.8" y="462.2" width="41.4" height="57.6" fill="#fff" stroke="#222" stroke-width="1.2"/>
<rect x="472.6" y="468.8" width="7.8" height="7.4" fill="#9c9cff" stroke="#222" stroke-width="1.0"/>
<text x="483.6" y="476.1" font-size="10.6" fill="#111">Ser</text>
<rect x="472.6" y="486.6" width="7.8" height="7.4" fill="#993366" stroke="#222" stroke-width="1.0"/>
<text x="483.6" y="493.90000000000003" font-size="10.6" fill="#111">Thr</text>
<rect x="472.6" y="504.9" width="7.8" height="7.4" fill="#ffffcc" stroke="#222" stroke-width="1.0"/>
<text x="483.6" y="512.1999999999999" font-size="10.6" fill="#111">Tyr</text>
</svg>
</body></html>
